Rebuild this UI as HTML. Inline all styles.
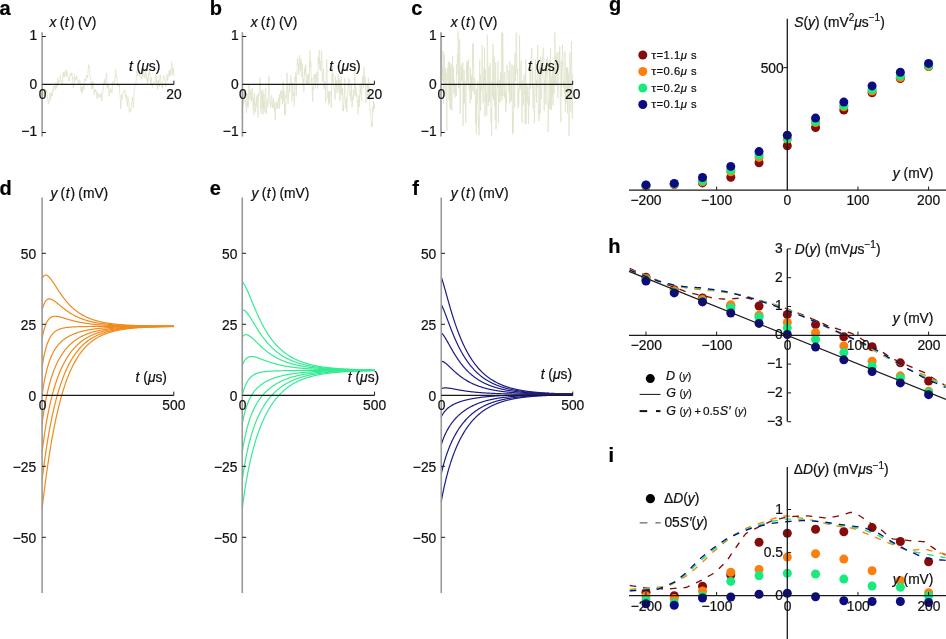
<!DOCTYPE html>
<html><head><meta charset="utf-8"><style>
html,body{margin:0;padding:0;background:#fff;}
body{width:946px;height:639px;overflow:hidden;}
svg{display:block;font-family:"Liberation Sans", sans-serif;}
svg{will-change:transform;}
text{stroke:#111;stroke-width:0.22px;}
</style></head><body>
<svg width="946" height="639" viewBox="0 0 946 639">
<rect width="946" height="639" fill="#fff"/>
<text x="-0.50" y="14.80" font-size="20" text-anchor="start" font-weight="bold" fill="#000" >a</text>
<text x="209.80" y="14.80" font-size="20" text-anchor="start" font-weight="bold" fill="#000" >b</text>
<text x="411.30" y="14.80" font-size="20" text-anchor="start" font-weight="bold" fill="#000" >c</text>
<text x="-0.50" y="195.10" font-size="20" text-anchor="start" font-weight="bold" fill="#000" >d</text>
<text x="209.80" y="195.10" font-size="20" text-anchor="start" font-weight="bold" fill="#000" >e</text>
<text x="412.20" y="195.10" font-size="20" text-anchor="start" font-weight="bold" fill="#000" >f</text>
<text x="608.90" y="10.60" font-size="20" text-anchor="start" font-weight="bold" fill="#000" >g</text>
<text x="608.20" y="253.30" font-size="20" text-anchor="start" font-weight="bold" fill="#000" >h</text>
<text x="608.50" y="461.90" font-size="20" text-anchor="start" font-weight="bold" fill="#000" >i</text>
<polyline points="42.10,89.19 42.41,88.34 42.73,89.70 43.04,92.76 43.36,93.49 43.67,95.84 43.99,94.00 44.30,88.48 44.62,90.78 44.93,92.87 45.25,90.66 45.56,89.60 45.87,89.74 46.19,93.35 46.50,92.91 46.82,90.21 47.13,95.20 47.45,95.66 47.76,100.50 48.08,101.75 48.39,104.39 48.71,100.78 49.02,101.62 49.33,96.97 49.65,94.01 49.96,93.00 50.28,100.01 50.59,98.21 50.91,95.22 51.22,92.51 51.54,96.02 51.85,94.87 52.17,95.65 52.48,95.55 52.79,89.20 53.11,91.02 53.42,89.66 53.74,85.59 54.05,87.61 54.37,87.41 54.68,86.48 55.00,85.94 55.31,89.83 55.63,88.16 55.94,82.65 56.26,88.48 56.57,84.47 56.88,84.09 57.20,86.33 57.51,79.01 57.83,77.98 58.14,83.76 58.46,83.47 58.77,81.53 59.09,82.68 59.40,80.50 59.72,81.43 60.03,79.57 60.34,75.63 60.66,79.89 60.97,79.87 61.29,82.03 61.60,81.51 61.92,85.30 62.23,84.76 62.55,82.66 62.86,77.10 63.18,71.95 63.49,76.18 63.80,76.94 64.12,72.22 64.43,77.32 64.75,76.97 65.06,76.05 65.38,71.08 65.69,69.71 66.01,72.36 66.32,74.55 66.64,75.90 66.95,71.12 67.26,74.50 67.58,76.66 67.89,75.98 68.21,76.75 68.52,77.55 68.84,81.17 69.15,80.02 69.47,80.66 69.78,75.72 70.10,73.98 70.41,75.02 70.72,73.44 71.04,75.71 71.35,72.63 71.67,74.02 71.98,73.02 72.30,78.60 72.61,77.02 72.93,82.72 73.24,87.96 73.56,85.91 73.87,86.52 74.18,83.43 74.50,74.34 74.81,78.32 75.13,80.45 75.44,79.21 75.76,77.43 76.07,78.46 76.39,79.32 76.70,76.93 77.02,75.91 77.33,80.44 77.65,80.46 77.96,80.13 78.27,83.59 78.59,81.74 78.90,84.29 79.22,80.02 79.53,79.71 79.85,79.92 80.16,82.42 80.48,82.67 80.79,89.21 81.11,90.96 81.42,87.26 81.73,93.09 82.05,87.29 82.36,91.98 82.68,86.96 82.99,88.89 83.31,84.88 83.62,84.32 83.94,89.58 84.25,84.02 84.57,78.18 84.88,78.68 85.19,79.35 85.51,79.07 85.82,81.22 86.14,75.42 86.45,76.48 86.77,75.20 87.08,76.42 87.40,76.34 87.71,78.09 88.03,70.45 88.34,69.46 88.65,64.65 88.97,64.89 89.28,69.63 89.60,72.28 89.91,75.49 90.23,76.40 90.54,78.89 90.86,80.94 91.17,86.56 91.49,89.15 91.80,82.06 92.11,84.91 92.43,88.33 92.74,86.22 93.06,81.30 93.37,87.59 93.69,87.97 94.00,89.80 94.32,95.00 94.63,90.44 94.95,89.93 95.26,89.41 95.57,91.94 95.89,89.82 96.20,91.83 96.52,92.13 96.83,95.74 97.15,98.80 97.46,92.58 97.78,94.56 98.09,93.44 98.41,93.92 98.72,95.79 99.04,97.50 99.35,95.06 99.66,96.64 99.98,97.41 100.29,97.54 100.61,93.95 100.92,93.26 101.24,93.95 101.55,96.99 101.87,100.86 102.18,95.42 102.50,91.21 102.81,91.63 103.12,89.29 103.44,86.51 103.75,84.05 104.07,81.69 104.38,84.30 104.70,79.18 105.01,84.50 105.33,80.83 105.64,80.29 105.96,78.81 106.27,74.45 106.58,72.77 106.90,80.45 107.21,87.69 107.53,84.42 107.84,88.31 108.16,87.73 108.47,84.52 108.79,90.64 109.10,96.53 109.42,92.77 109.73,90.90 110.04,90.42 110.36,88.38 110.67,89.73 110.99,92.63 111.30,89.92 111.62,90.49 111.93,92.90 112.25,87.16 112.56,84.81 112.88,81.37 113.19,83.40 113.50,83.48 113.82,84.44 114.13,84.51 114.45,80.71 114.76,81.08 115.08,77.30 115.39,75.31 115.71,69.28 116.02,76.81 116.34,74.77 116.65,76.92 116.96,78.49 117.28,84.71 117.59,86.07 117.91,83.30 118.22,84.44 118.54,85.01 118.85,86.96 119.17,83.81 119.48,85.85 119.80,94.89 120.11,95.88 120.43,100.82 120.74,108.66 121.05,105.12 121.37,96.49 121.68,94.85 122.00,97.86 122.31,99.28 122.63,93.43 122.94,92.67 123.26,92.60 123.57,92.97 123.89,93.01 124.20,90.56 124.51,89.77 124.83,90.44 125.14,95.22 125.46,94.13 125.77,97.67 126.09,94.49 126.40,100.47 126.72,101.16 127.03,101.50 127.35,106.44 127.66,100.00 127.97,96.66 128.29,101.05 128.60,100.29 128.92,101.37 129.23,112.43 129.55,110.88 129.86,110.57 130.18,109.01 130.49,111.62 130.81,110.58 131.12,109.37 131.43,103.78 131.75,102.55 132.06,102.66 132.38,97.42 132.69,100.57 133.01,102.04 133.32,107.67 133.64,100.11 133.95,95.13 134.27,90.76 134.58,87.77 134.89,86.80 135.21,85.01 135.52,84.56 135.84,83.33 136.15,80.85 136.47,73.48 136.78,70.77 137.10,70.93 137.41,73.87 137.73,76.08 138.04,70.09 138.35,69.52 138.67,70.55 138.98,72.61 139.30,76.56 139.61,75.80 139.93,72.08 140.24,73.66 140.56,74.18 140.87,74.48 141.19,73.53 141.50,78.53 141.82,77.44 142.13,78.71 142.44,73.97 142.76,76.41 143.07,73.70 143.39,68.71 143.70,71.46 144.02,74.43 144.33,73.95 144.65,74.34 144.96,78.02 145.28,75.81 145.59,69.15 145.90,72.18 146.22,74.21 146.53,78.53 146.85,77.07 147.16,81.38 147.48,84.02 147.79,78.12 148.11,81.48 148.42,77.34 148.74,73.10 149.05,74.51 149.36,74.66 149.68,70.23 149.99,74.47 150.31,78.92 150.62,84.72 150.94,84.26 151.25,79.27 151.57,77.67 151.88,83.06 152.20,86.59 152.51,87.35 152.82,85.15 153.14,85.19 153.45,83.74 153.77,82.38 154.08,83.34 154.40,83.07 154.71,81.98 155.03,82.11 155.34,80.16 155.66,74.14 155.97,74.13 156.28,75.84 156.60,82.80 156.91,80.65 157.23,86.88 157.54,89.36 157.86,83.45 158.17,79.85 158.49,80.45 158.80,86.15 159.12,85.70 159.43,86.47 159.74,82.65 160.06,74.60 160.37,75.85 160.69,80.10 161.00,84.44 161.32,83.79 161.63,83.80 161.95,87.11 162.26,85.23 162.58,88.21 162.89,82.43 163.21,78.30 163.52,75.21 163.83,78.15 164.15,76.79 164.46,77.88 164.78,79.39 165.09,80.17 165.41,83.82 165.72,86.74 166.04,81.17 166.35,80.46 166.67,78.48 166.98,74.16 167.29,80.12 167.61,80.95 167.92,78.14 168.24,75.28 168.55,75.68 168.87,71.08 169.18,70.43 169.50,74.56 169.81,76.34 170.13,71.61 170.44,69.26 170.75,75.36 171.07,68.58 171.38,66.18 171.70,61.83 172.01,65.10 172.33,68.92 172.64,74.94 172.96,67.46 173.27,71.88 173.59,69.65 173.90,76.14" fill="none" stroke="#e0e3cc" stroke-width="0.8" stroke-linejoin="round" />
<line x1="42.10" y1="32.20" x2="42.10" y2="136.60" stroke="#9a9a9a" stroke-width="1.6" />
<line x1="42.10" y1="84.40" x2="173.90" y2="84.40" stroke="#1a1a1a" stroke-width="1.3" />
<line x1="42.10" y1="36.50" x2="45.90" y2="36.50" stroke="#1a1a1a" stroke-width="1.0" />
<line x1="42.10" y1="132.50" x2="45.90" y2="132.50" stroke="#1a1a1a" stroke-width="1.0" />
<line x1="173.90" y1="84.40" x2="173.90" y2="80.70" stroke="#1a1a1a" stroke-width="1.0" />
<text x="37.10" y="40.00" font-size="13.8" text-anchor="end" fill="#111" >1</text>
<text x="37.10" y="89.00" font-size="13.8" text-anchor="end" fill="#111" >0</text>
<text x="37.10" y="136.00" font-size="13.8" text-anchor="end" fill="#111" >&#8722;1</text>
<text x="42.50" y="98.80" font-size="13.8" text-anchor="middle" fill="#111" >0</text>
<text x="173.90" y="98.80" font-size="13.8" text-anchor="middle" fill="#111" >20</text>
<text x="49.60" y="27.0" font-size="13.8" fill="#111"><tspan font-style="italic">x</tspan> <tspan dx="-0.7">(</tspan><tspan font-style="italic" dx="0.6">t</tspan><tspan dx="1.2">)</tspan><tspan dx="3.4">(V)</tspan></text>
<text x="128.90" y="70.5" font-size="13.8" fill="#111"><tspan font-style="italic">t</tspan> (<tspan font-style="italic">&#956;</tspan>s)</text>
<polyline points="242.40,92.52 242.68,106.61 242.95,104.66 243.23,92.45 243.50,103.18 243.78,90.85 244.05,89.39 244.33,99.66 244.60,101.45 244.88,102.17 245.16,99.30 245.43,101.51 245.71,105.19 245.98,103.17 246.26,107.79 246.53,112.69 246.81,105.60 247.08,93.83 247.36,106.25 247.64,101.32 247.91,103.64 248.19,107.67 248.46,95.31 248.74,98.97 249.01,84.89 249.29,94.83 249.56,91.38 249.84,94.26 250.12,100.24 250.39,93.00 250.67,94.65 250.94,89.52 251.22,91.69 251.49,101.38 251.77,99.25 252.05,96.73 252.32,87.90 252.60,97.66 252.87,96.51 253.15,109.41 253.42,97.99 253.70,105.12 253.97,115.26 254.25,107.23 254.53,93.01 254.80,105.72 255.08,109.81 255.35,109.49 255.63,112.41 255.90,101.98 256.18,105.31 256.45,106.61 256.73,96.86 257.01,101.81 257.28,95.19 257.56,102.56 257.83,108.92 258.11,117.77 258.38,93.24 258.66,96.13 258.93,93.31 259.21,93.83 259.49,92.61 259.76,92.76 260.04,77.85 260.31,92.70 260.59,105.79 260.86,109.25 261.14,113.92 261.41,99.92 261.69,90.93 261.97,99.92 262.24,108.79 262.52,105.79 262.79,89.91 263.07,114.41 263.34,102.11 263.62,107.68 263.89,93.96 264.17,102.85 264.45,101.81 264.72,111.06 265.00,112.36 265.27,94.08 265.55,87.70 265.82,93.75 266.10,101.19 266.37,113.94 266.65,109.50 266.93,103.92 267.20,101.02 267.48,99.39 267.75,106.72 268.03,102.62 268.30,99.96 268.58,87.65 268.86,75.63 269.13,84.62 269.41,95.11 269.68,95.77 269.96,100.56 270.23,104.54 270.51,101.43 270.78,107.54 271.06,97.90 271.34,97.88 271.61,95.02 271.89,96.82 272.16,102.32 272.44,107.42 272.71,104.76 272.99,105.70 273.26,99.97 273.54,98.47 273.82,108.56 274.09,103.09 274.37,111.21 274.64,110.24 274.92,107.07 275.19,119.57 275.47,109.58 275.74,103.03 276.02,101.58 276.30,102.84 276.57,103.16 276.85,108.21 277.12,105.51 277.40,106.15 277.67,101.31 277.95,108.85 278.22,101.74 278.50,98.19 278.78,98.34 279.05,100.81 279.33,94.27 279.60,108.23 279.88,99.42 280.15,95.88 280.43,93.40 280.70,91.09 280.98,98.06 281.26,99.03 281.53,92.36 281.81,90.00 282.08,90.38 282.36,104.48 282.63,96.35 282.91,86.35 283.18,81.62 283.46,85.03 283.74,101.52 284.01,91.20 284.29,93.79 284.56,114.59 284.84,103.55 285.11,112.00 285.39,115.47 285.67,112.19 285.94,94.80 286.22,97.62 286.49,94.11 286.77,80.06 287.04,72.85 287.32,82.21 287.59,88.92 287.87,101.15 288.15,103.90 288.42,96.49 288.70,92.03 288.97,91.13 289.25,83.17 289.52,92.37 289.80,91.84 290.07,84.88 290.35,81.61 290.63,75.43 290.90,76.89 291.18,83.19 291.45,81.26 291.73,90.85 292.00,101.46 292.28,89.62 292.55,87.37 292.83,82.80 293.11,95.98 293.38,92.85 293.66,92.58 293.93,94.28 294.21,106.24 294.48,97.64 294.76,82.25 295.03,76.90 295.31,81.59 295.59,79.88 295.86,72.59 296.14,96.59 296.41,89.68 296.69,80.12 296.96,73.23 297.24,60.85 297.51,57.96 297.79,62.84 298.07,65.83 298.34,63.68 298.62,73.07 298.89,74.65 299.17,67.93 299.44,55.38 299.72,64.92 299.99,69.72 300.27,70.58 300.55,61.82 300.82,67.63 301.10,58.98 301.37,73.44 301.65,75.78 301.92,77.25 302.20,70.16 302.48,63.79 302.75,80.57 303.03,85.81 303.30,78.82 303.58,82.64 303.85,91.88 304.13,76.72 304.40,71.99 304.68,69.13 304.96,75.21 305.23,66.86 305.51,72.33 305.78,64.95 306.06,76.85 306.33,83.64 306.61,79.29 306.88,84.12 307.16,76.02 307.44,74.63 307.71,83.47 307.99,80.85 308.26,82.83 308.54,73.90 308.81,81.17 309.09,84.09 309.36,72.64 309.64,57.59 309.92,50.62 310.19,62.18 310.47,67.98 310.74,60.97 311.02,70.27 311.29,82.85 311.57,81.69 311.84,78.04 312.12,85.84 312.40,96.95 312.67,101.76 312.95,87.52 313.22,90.31 313.50,86.84 313.77,81.74 314.05,75.24 314.32,78.88 314.60,74.17 314.88,82.40 315.15,82.91 315.43,88.41 315.70,74.14 315.98,74.77 316.25,80.74 316.53,81.04 316.81,80.00 317.08,71.78 317.36,85.22 317.63,88.61 317.91,85.17 318.18,59.44 318.46,56.92 318.73,64.26 319.01,62.09 319.29,50.01 319.56,61.34 319.84,69.29 320.11,61.40 320.39,62.54 320.66,61.87 320.94,71.07 321.21,57.04 321.49,50.43 321.77,55.78 322.04,58.11 322.32,81.48 322.59,74.07 322.87,76.42 323.14,72.84 323.42,68.76 323.69,74.66 323.97,89.18 324.25,81.34 324.52,85.68 324.80,85.05 325.07,87.15 325.35,86.55 325.62,102.28 325.90,83.45 326.17,80.13 326.45,71.42 326.73,59.37 327.00,68.15 327.28,88.35 327.55,93.34 327.83,99.06 328.10,97.00 328.38,91.27 328.65,104.84 328.93,94.25 329.21,103.06 329.48,93.94 329.76,91.96 330.03,92.62 330.31,91.28 330.58,94.44 330.86,97.12 331.13,107.57 331.41,100.70 331.69,81.31 331.96,68.50 332.24,66.13 332.51,69.69 332.79,83.00 333.06,73.88 333.34,80.51 333.62,84.60 333.89,88.86 334.17,88.32 334.44,92.27 334.72,91.80 334.99,99.61 335.27,98.56 335.54,76.51 335.82,82.26 336.10,87.08 336.37,83.75 336.65,80.34 336.92,93.01 337.20,93.30 337.47,84.40 337.75,84.29 338.02,85.43 338.30,74.56 338.58,86.06 338.85,86.83 339.13,92.16 339.40,79.14 339.68,99.12 339.95,100.77 340.23,100.63 340.50,90.92 340.78,85.56 341.06,75.98 341.33,94.22 341.61,86.40 341.88,90.14 342.16,95.39 342.43,88.82 342.71,96.67 342.98,110.73 343.26,105.39 343.54,111.30 343.81,107.99 344.09,97.78 344.36,92.14 344.64,78.47 344.91,84.69 345.19,99.20 345.46,101.64 345.74,104.43 346.02,108.52 346.29,97.63 346.57,99.83 346.84,111.91 347.12,97.57 347.39,95.50 347.67,90.49 347.94,89.51 348.22,84.63 348.50,86.46 348.77,77.86 349.05,79.23 349.32,80.30 349.60,80.77 349.87,96.10 350.15,94.84 350.43,94.83 350.70,91.03 350.98,101.38 351.25,83.40 351.53,84.94 351.80,96.46 352.08,107.37 352.35,102.37 352.63,97.80 352.91,100.11 353.18,94.93 353.46,97.72 353.73,89.74 354.01,95.24 354.28,92.97 354.56,83.38 354.83,64.74 355.11,82.43 355.39,88.64 355.66,95.37 355.94,86.27 356.21,96.39 356.49,97.09 356.76,93.81 357.04,99.48 357.31,102.69 357.59,100.70 357.87,112.61 358.14,114.44 358.42,107.18 358.69,98.27 358.97,95.60 359.24,106.80 359.52,102.91 359.79,90.37 360.07,84.78 360.35,86.53 360.62,94.08 360.90,86.33 361.17,91.43 361.45,99.23 361.72,100.93 362.00,83.75 362.27,83.34 362.55,75.49 362.83,83.99 363.10,77.62 363.38,86.21 363.65,87.75 363.93,67.31 364.20,68.90 364.48,80.08 364.75,84.22 365.03,83.76 365.31,76.68 365.58,86.49 365.86,102.82 366.13,101.15 366.41,98.10 366.68,95.84 366.96,85.08 367.24,87.03 367.51,84.52 367.79,98.81 368.06,91.82 368.34,78.04 368.61,81.66 368.89,89.41 369.16,95.82 369.44,87.45 369.72,105.30 369.99,110.38 370.27,110.12 370.54,109.04 370.82,119.12 371.09,120.37 371.37,127.04 371.64,123.89 371.92,121.71 372.20,127.11 372.47,119.86 372.75,106.82 373.02,112.44 373.30,110.17 373.57,101.15 373.85,109.15 374.12,103.24 374.40,109.12" fill="none" stroke="#e0e3cc" stroke-width="0.8" stroke-linejoin="round" />
<line x1="242.40" y1="32.20" x2="242.40" y2="136.60" stroke="#9a9a9a" stroke-width="1.6" />
<line x1="242.40" y1="84.40" x2="374.40" y2="84.40" stroke="#1a1a1a" stroke-width="1.3" />
<line x1="242.40" y1="36.50" x2="246.20" y2="36.50" stroke="#1a1a1a" stroke-width="1.0" />
<line x1="242.40" y1="132.50" x2="246.20" y2="132.50" stroke="#1a1a1a" stroke-width="1.0" />
<line x1="374.40" y1="84.40" x2="374.40" y2="80.70" stroke="#1a1a1a" stroke-width="1.0" />
<text x="238.60" y="40.00" font-size="13.8" text-anchor="end" fill="#111" >1</text>
<text x="238.60" y="89.00" font-size="13.8" text-anchor="end" fill="#111" >0</text>
<text x="238.60" y="136.00" font-size="13.8" text-anchor="end" fill="#111" >&#8722;1</text>
<text x="242.80" y="98.80" font-size="13.8" text-anchor="middle" fill="#111" >0</text>
<text x="374.40" y="98.80" font-size="13.8" text-anchor="middle" fill="#111" >20</text>
<text x="250.70" y="27.0" font-size="13.8" fill="#111"><tspan font-style="italic">x</tspan> <tspan dx="-0.7">(</tspan><tspan font-style="italic" dx="0.6">t</tspan><tspan dx="1.2">)</tspan><tspan dx="3.4">(V)</tspan></text>
<text x="329.30" y="70.5" font-size="13.8" fill="#111"><tspan font-style="italic">t</tspan> (<tspan font-style="italic">&#956;</tspan>s)</text>
<polyline points="441.00,65.12 441.31,32.56 441.61,32.56 441.92,75.13 442.23,66.68 442.53,77.45 442.84,80.54 443.15,51.22 443.46,103.56 443.76,67.23 444.07,81.13 444.38,54.26 444.68,72.97 444.99,95.54 445.30,81.42 445.60,68.34 445.91,79.64 446.22,73.05 446.53,92.42 446.83,130.82 447.14,77.27 447.45,68.07 447.75,77.23 448.06,81.18 448.37,62.03 448.67,88.32 448.98,100.09 449.29,92.25 449.60,61.61 449.90,107.58 450.21,65.39 450.52,92.95 450.82,109.45 451.13,64.43 451.44,81.43 451.74,110.72 452.05,98.45 452.36,68.53 452.67,55.62 452.97,86.10 453.28,76.37 453.59,67.53 453.89,93.60 454.20,79.31 454.51,83.79 454.81,95.40 455.12,97.40 455.43,86.25 455.74,84.24 456.04,96.13 456.35,96.20 456.66,64.18 456.96,74.89 457.27,63.60 457.58,54.18 457.88,64.59 458.19,32.56 458.50,88.52 458.81,68.60 459.11,87.07 459.42,46.44 459.73,39.52 460.03,113.86 460.34,111.93 460.65,77.46 460.95,66.22 461.26,64.52 461.57,80.91 461.88,74.05 462.18,68.22 462.49,81.98 462.80,62.41 463.10,125.93 463.41,81.59 463.72,105.22 464.02,69.65 464.33,85.47 464.64,103.17 464.95,81.31 465.25,102.60 465.56,107.95 465.87,122.91 466.17,94.58 466.48,76.60 466.79,61.16 467.09,81.54 467.40,61.87 467.71,78.39 468.02,84.84 468.32,72.57 468.63,59.41 468.94,85.26 469.24,89.69 469.55,89.07 469.86,83.84 470.16,103.00 470.47,67.65 470.78,88.55 471.09,75.81 471.39,99.43 471.70,80.69 472.01,75.32 472.31,90.89 472.62,43.96 472.93,66.57 473.23,42.96 473.54,54.07 473.85,90.60 474.16,93.91 474.46,77.70 474.77,81.45 475.08,82.63 475.38,89.92 475.69,123.42 476.00,98.85 476.30,134.18 476.61,89.11 476.92,100.69 477.23,103.36 477.53,93.71 477.84,81.05 478.15,113.37 478.45,128.04 478.76,117.50 479.07,135.17 479.37,117.22 479.68,59.49 479.99,100.17 480.30,74.78 480.60,110.55 480.91,84.71 481.22,91.13 481.52,87.33 481.83,73.29 482.14,45.07 482.44,70.51 482.75,78.34 483.06,103.15 483.37,76.94 483.67,87.66 483.98,67.90 484.29,81.18 484.59,47.36 484.90,116.41 485.21,98.58 485.51,69.60 485.82,88.00 486.13,101.79 486.43,94.28 486.74,115.59 487.05,89.72 487.36,34.93 487.66,48.20 487.97,98.43 488.28,106.09 488.58,98.25 488.89,66.95 489.20,97.14 489.50,101.95 489.81,70.37 490.12,62.90 490.43,86.80 490.73,108.27 491.04,122.62 491.35,108.51 491.65,136.24 491.96,81.91 492.27,96.89 492.57,77.50 492.88,43.79 493.19,49.83 493.50,99.72 493.80,70.14 494.11,56.73 494.42,93.02 494.72,106.40 495.03,92.18 495.34,119.68 495.64,62.61 495.95,129.02 496.26,118.59 496.57,98.56 496.87,92.67 497.18,83.01 497.49,78.40 497.79,87.35 498.10,61.47 498.41,123.20 498.71,94.10 499.02,101.70 499.33,85.97 499.64,80.20 499.94,102.33 500.25,102.22 500.56,72.36 500.86,74.12 501.17,95.99 501.48,44.84 501.78,32.56 502.09,100.35 502.40,82.11 502.71,32.56 503.01,54.88 503.32,72.42 503.63,85.74 503.93,96.00 504.24,91.72 504.55,97.69 504.85,72.22 505.16,89.64 505.47,94.89 505.78,112.05 506.08,92.34 506.39,105.00 506.70,93.31 507.00,64.94 507.31,71.92 507.62,70.77 507.92,73.58 508.23,80.46 508.54,86.07 508.85,91.22 509.15,70.31 509.46,103.44 509.77,61.25 510.07,77.90 510.38,98.36 510.69,98.07 510.99,101.91 511.30,85.44 511.61,99.60 511.92,64.43 512.22,95.68 512.53,134.52 512.84,112.15 513.14,133.14 513.45,97.42 513.76,65.61 514.06,66.22 514.37,107.70 514.68,106.09 514.99,52.80 515.29,69.87 515.60,80.68 515.91,61.49 516.21,32.56 516.52,43.22 516.83,71.20 517.13,73.72 517.44,68.89 517.75,93.27 518.06,108.66 518.36,89.37 518.67,105.36 518.98,90.92 519.28,84.03 519.59,35.58 519.90,89.91 520.20,88.31 520.51,88.80 520.82,76.40 521.13,60.61 521.43,88.66 521.74,102.56 522.05,123.09 522.35,113.35 522.66,80.47 522.97,82.47 523.27,105.05 523.58,97.32 523.89,86.98 524.20,74.56 524.50,94.29 524.81,92.09 525.12,124.17 525.42,118.31 525.73,59.20 526.04,123.65 526.34,101.24 526.65,84.05 526.96,92.10 527.27,103.15 527.57,90.36 527.88,85.99 528.19,86.51 528.49,124.01 528.80,97.37 529.11,105.44 529.41,101.06 529.72,83.84 530.03,70.92 530.33,62.36 530.64,89.22 530.95,66.37 531.26,55.46 531.56,53.51 531.87,47.75 532.18,78.27 532.48,86.49 532.79,67.75 533.10,108.68 533.40,86.11 533.71,95.87 534.02,94.94 534.33,123.29 534.63,112.66 534.94,91.89 535.25,67.78 535.55,59.64 535.86,79.88 536.17,87.21 536.47,102.39 536.78,80.52 537.09,88.58 537.40,72.83 537.70,45.05 538.01,75.24 538.32,113.28 538.62,109.54 538.93,121.04 539.24,118.48 539.54,65.75 539.85,75.02 540.16,113.70 540.47,78.12 540.77,56.60 541.08,84.94 541.39,98.61 541.69,94.97 542.00,81.12 542.31,70.26 542.61,56.26 542.92,52.13 543.23,51.66 543.54,47.87 543.84,61.50 544.15,110.54 544.46,93.66 544.76,80.18 545.07,91.32 545.38,67.16 545.68,87.59 545.99,104.47 546.30,59.35 546.61,64.28 546.91,74.81 547.22,62.71 547.53,56.86 547.83,70.42 548.14,132.06 548.45,110.38 548.75,100.40 549.06,108.89 549.37,86.39 549.68,60.08 549.98,88.41 550.29,109.02 550.60,48.34 550.90,84.78 551.21,110.16 551.52,85.89 551.82,75.91 552.13,96.95 552.44,71.09 552.75,91.21 553.05,105.31 553.36,85.91 553.67,68.73 553.97,93.68 554.28,79.84 554.59,85.21 554.89,32.56 555.20,84.50 555.51,55.61 555.82,78.29 556.12,85.51 556.43,69.66 556.74,62.11 557.04,52.45 557.35,69.57 557.66,93.19 557.96,97.79 558.27,77.14 558.58,70.49 558.89,51.82 559.19,67.55 559.50,58.12 559.81,46.26 560.11,71.43 560.42,112.08 560.73,115.87 561.03,122.19 561.34,60.72 561.65,96.12 561.96,61.69 562.26,66.53 562.57,44.23 562.88,53.48 563.18,78.80 563.49,87.16 563.80,83.32 564.10,80.48 564.41,94.47 564.72,87.60 565.03,51.70 565.33,111.65 565.64,85.83 565.95,103.64 566.25,85.32 566.56,67.15 566.87,81.29 567.17,67.53 567.48,113.28 567.79,68.58 568.10,93.00 568.40,73.59 568.71,77.90 569.02,136.24 569.32,113.19 569.63,87.01 569.94,52.71 570.24,70.50 570.55,75.56 570.86,111.59 571.17,61.41 571.47,41.04 571.78,72.96 572.09,86.12 572.39,118.53 572.70,74.55" fill="none" stroke="#e0e3cc" stroke-width="0.8" stroke-linejoin="round" />
<line x1="441.00" y1="32.20" x2="441.00" y2="136.60" stroke="#9a9a9a" stroke-width="1.6" />
<line x1="441.00" y1="84.40" x2="572.70" y2="84.40" stroke="#1a1a1a" stroke-width="1.3" />
<line x1="441.00" y1="36.50" x2="444.80" y2="36.50" stroke="#1a1a1a" stroke-width="1.0" />
<line x1="441.00" y1="132.50" x2="444.80" y2="132.50" stroke="#1a1a1a" stroke-width="1.0" />
<line x1="572.70" y1="84.40" x2="572.70" y2="80.70" stroke="#1a1a1a" stroke-width="1.0" />
<text x="436.60" y="40.00" font-size="13.8" text-anchor="end" fill="#111" >1</text>
<text x="436.60" y="89.00" font-size="13.8" text-anchor="end" fill="#111" >0</text>
<text x="436.60" y="136.00" font-size="13.8" text-anchor="end" fill="#111" >&#8722;1</text>
<text x="441.40" y="98.80" font-size="13.8" text-anchor="middle" fill="#111" >0</text>
<text x="572.70" y="98.80" font-size="13.8" text-anchor="middle" fill="#111" >20</text>
<text x="450.70" y="27.0" font-size="13.8" fill="#111"><tspan font-style="italic">x</tspan> <tspan dx="-0.7">(</tspan><tspan font-style="italic" dx="0.6">t</tspan><tspan dx="1.2">)</tspan><tspan dx="3.4">(V)</tspan></text>
<text x="528.00" y="70.5" font-size="13.8" fill="#111"><tspan font-style="italic">t</tspan> (<tspan font-style="italic">&#956;</tspan>s)</text>
<polyline points="42.10,278.86 42.54,277.87 42.98,277.06 43.42,276.39 43.86,275.88 44.30,275.49 44.74,275.22 45.18,275.05 45.62,274.99 46.06,275.01 46.50,275.12 46.95,275.29 47.39,275.54 47.83,275.84 48.27,276.20 48.71,276.60 49.15,277.04 49.59,277.53 50.03,278.04 50.47,278.59 50.91,279.16 51.35,279.76 51.79,280.37 52.23,281.00 52.67,281.65 53.11,282.30 53.55,282.97 53.99,283.64 54.43,284.32 54.87,285.00 55.31,285.69 55.75,286.38 56.19,287.06 56.64,287.75 57.08,288.43 57.52,289.12 57.96,289.79 58.40,290.47 58.84,291.13 59.28,291.80 59.72,292.45 60.16,293.10 60.60,293.74 61.04,294.38 61.48,295.00 61.92,295.62 62.36,296.23 62.80,296.83 63.24,297.42 63.68,298.01 64.12,298.58 64.56,299.15 65.00,299.70 65.44,300.25 65.89,300.79 66.33,301.32 66.77,301.84 67.21,302.35 67.65,302.85 68.09,303.34 68.53,303.82 68.97,304.30 69.41,304.76 69.85,305.22 70.29,305.67 70.73,306.11 71.17,306.54 71.61,306.96 72.05,307.37 72.49,307.78 72.93,308.17 73.37,308.56 73.81,308.95 74.25,309.32 74.69,309.69 75.14,310.04 75.58,310.40 76.02,310.74 76.46,311.08 76.90,311.41 77.34,311.73 77.78,312.05 78.22,312.36 78.66,312.66 79.10,312.96 79.54,313.25 79.98,313.53 80.42,313.81 80.86,314.08 81.30,314.35 81.74,314.61 82.18,314.86 82.62,315.11 83.06,315.36 83.50,315.60 83.94,315.83 84.38,316.06 84.83,316.29 85.27,316.51 85.71,316.72 86.15,316.93 86.59,317.13 87.03,317.34 87.47,317.53 87.91,317.72 88.35,317.91 88.79,318.10 89.23,318.28 89.67,318.45 90.11,318.62 90.55,318.79 90.99,318.96 91.43,319.12 91.87,319.28 92.31,319.43 92.75,319.58 93.19,319.73 93.63,319.87 94.08,320.01 94.52,320.15 94.96,320.29 95.40,320.42 95.84,320.55 96.28,320.68 96.72,320.80 97.16,320.92 97.60,321.04 98.04,321.15 98.48,321.27 98.92,321.38 99.36,321.49 99.80,321.59 100.24,321.69 100.68,321.80 101.12,321.90 101.56,321.99 102.00,322.09 102.44,322.18 102.88,322.27 103.33,322.36 103.77,322.44 104.21,322.53 104.65,322.61 105.09,322.69 105.53,322.77 105.97,322.85 106.41,322.93 106.85,323.00 107.29,323.07 107.73,323.14 108.17,323.21 108.61,323.28 109.05,323.35 109.49,323.41 109.93,323.47 110.37,323.54 110.81,323.60 111.25,323.66 111.69,323.71 112.13,323.77 112.57,323.83 113.02,323.88 113.46,323.93 113.90,323.99 114.34,324.04 114.78,324.09 115.22,324.14 115.66,324.18 116.10,324.23 116.54,324.27 116.98,324.32 117.42,324.36 117.86,324.40 118.30,324.45 118.74,324.49 119.18,324.53 119.62,324.57 120.06,324.60 120.50,324.64 120.94,324.68 121.38,324.71 121.82,324.75 122.27,324.78 122.71,324.81 123.15,324.85 123.59,324.88 124.03,324.91 124.47,324.94 124.91,324.97 125.35,325.00 125.79,325.03 126.23,325.06 126.67,325.08 127.11,325.11 127.55,325.13 127.99,325.16 128.43,325.19 128.87,325.21 129.31,325.23 129.75,325.26 130.19,325.28 130.63,325.30 131.07,325.32 131.52,325.34 131.96,325.37 132.40,325.39 132.84,325.41 133.28,325.42 133.72,325.44 134.16,325.46 134.60,325.48 135.04,325.50 135.48,325.52 135.92,325.53 136.36,325.55 136.80,325.57 137.24,325.58 137.68,325.60 138.12,325.61 138.56,325.63 139.00,325.64 139.44,325.66 139.88,325.67 140.32,325.68 140.76,325.70 141.21,325.71 141.65,325.72 142.09,325.74 142.53,325.75 142.97,325.76 143.41,325.77 143.85,325.78 144.29,325.79 144.73,325.80 145.17,325.82 145.61,325.83 146.05,325.84 146.49,325.85 146.93,325.86 147.37,325.87 147.81,325.87 148.25,325.88 148.69,325.89 149.13,325.90 149.57,325.91 150.01,325.92 150.46,325.93 150.90,325.93 151.34,325.94 151.78,325.95 152.22,325.96 152.66,325.96 153.10,325.97 153.54,325.98 153.98,325.99 154.42,325.99 154.86,326.00 155.30,326.00 155.74,326.01 156.18,326.02 156.62,326.02 157.06,326.03 157.50,326.03 157.94,326.04 158.38,326.05 158.82,326.05 159.26,326.06 159.71,326.06 160.15,326.07 160.59,326.07 161.03,326.08 161.47,326.08 161.91,326.09 162.35,326.09 162.79,326.09 163.23,326.10 163.67,326.10 164.11,326.11 164.55,326.11 164.99,326.11 165.43,326.12 165.87,326.12 166.31,326.13 166.75,326.13 167.19,326.13 167.63,326.14 168.07,326.14 168.51,326.14 168.95,326.15 169.40,326.15 169.84,326.15 170.28,326.16 170.72,326.16 171.16,326.16 171.60,326.16 172.04,326.17 172.48,326.17 172.92,326.17 173.36,326.17 173.80,326.18" fill="none" stroke="#f08a1c" stroke-width="1.2" stroke-linejoin="round" />
<polyline points="42.10,310.10 42.54,308.42 42.98,306.93 43.42,305.61 43.86,304.45 44.30,303.43 44.74,302.54 45.18,301.78 45.62,301.13 46.06,300.57 46.50,300.11 46.95,299.74 47.39,299.44 47.83,299.22 48.27,299.06 48.71,298.96 49.15,298.91 49.59,298.91 50.03,298.96 50.47,299.04 50.91,299.16 51.35,299.32 51.79,299.50 52.23,299.71 52.67,299.94 53.11,300.19 53.55,300.46 53.99,300.75 54.43,301.05 54.87,301.37 55.31,301.69 55.75,302.03 56.19,302.37 56.64,302.72 57.08,303.07 57.52,303.43 57.96,303.79 58.40,304.16 58.84,304.52 59.28,304.89 59.72,305.26 60.16,305.62 60.60,305.99 61.04,306.35 61.48,306.71 61.92,307.07 62.36,307.43 62.80,307.79 63.24,308.14 63.68,308.48 64.12,308.83 64.56,309.17 65.00,309.50 65.44,309.83 65.89,310.16 66.33,310.48 66.77,310.80 67.21,311.11 67.65,311.42 68.09,311.72 68.53,312.02 68.97,312.31 69.41,312.60 69.85,312.89 70.29,313.17 70.73,313.44 71.17,313.71 71.61,313.97 72.05,314.23 72.49,314.49 72.93,314.73 73.37,314.98 73.81,315.22 74.25,315.46 74.69,315.69 75.14,315.91 75.58,316.13 76.02,316.35 76.46,316.57 76.90,316.77 77.34,316.98 77.78,317.18 78.22,317.38 78.66,317.57 79.10,317.76 79.54,317.94 79.98,318.12 80.42,318.30 80.86,318.47 81.30,318.64 81.74,318.81 82.18,318.97 82.62,319.13 83.06,319.29 83.50,319.44 83.94,319.59 84.38,319.74 84.83,319.88 85.27,320.02 85.71,320.16 86.15,320.29 86.59,320.42 87.03,320.55 87.47,320.68 87.91,320.80 88.35,320.92 88.79,321.04 89.23,321.15 89.67,321.26 90.11,321.37 90.55,321.48 90.99,321.59 91.43,321.69 91.87,321.79 92.31,321.89 92.75,321.99 93.19,322.08 93.63,322.17 94.08,322.26 94.52,322.35 94.96,322.44 95.40,322.52 95.84,322.61 96.28,322.69 96.72,322.77 97.16,322.84 97.60,322.92 98.04,322.99 98.48,323.07 98.92,323.14 99.36,323.21 99.80,323.27 100.24,323.34 100.68,323.41 101.12,323.47 101.56,323.53 102.00,323.59 102.44,323.65 102.88,323.71 103.33,323.77 103.77,323.82 104.21,323.88 104.65,323.93 105.09,323.98 105.53,324.03 105.97,324.08 106.41,324.13 106.85,324.18 107.29,324.22 107.73,324.27 108.17,324.31 108.61,324.36 109.05,324.40 109.49,324.44 109.93,324.48 110.37,324.52 110.81,324.56 111.25,324.60 111.69,324.64 112.13,324.67 112.57,324.71 113.02,324.74 113.46,324.78 113.90,324.81 114.34,324.84 114.78,324.88 115.22,324.91 115.66,324.94 116.10,324.97 116.54,325.00 116.98,325.02 117.42,325.05 117.86,325.08 118.30,325.11 118.74,325.13 119.18,325.16 119.62,325.18 120.06,325.21 120.50,325.23 120.94,325.25 121.38,325.28 121.82,325.30 122.27,325.32 122.71,325.34 123.15,325.36 123.59,325.38 124.03,325.40 124.47,325.42 124.91,325.44 125.35,325.46 125.79,325.48 126.23,325.50 126.67,325.51 127.11,325.53 127.55,325.55 127.99,325.56 128.43,325.58 128.87,325.60 129.31,325.61 129.75,325.63 130.19,325.64 130.63,325.65 131.07,325.67 131.52,325.68 131.96,325.70 132.40,325.71 132.84,325.72 133.28,325.73 133.72,325.75 134.16,325.76 134.60,325.77 135.04,325.78 135.48,325.79 135.92,325.80 136.36,325.81 136.80,325.82 137.24,325.83 137.68,325.84 138.12,325.85 138.56,325.86 139.00,325.87 139.44,325.88 139.88,325.89 140.32,325.90 140.76,325.91 141.21,325.92 141.65,325.93 142.09,325.93 142.53,325.94 142.97,325.95 143.41,325.96 143.85,325.96 144.29,325.97 144.73,325.98 145.17,325.98 145.61,325.99 146.05,326.00 146.49,326.00 146.93,326.01 147.37,326.02 147.81,326.02 148.25,326.03 148.69,326.03 149.13,326.04 149.57,326.05 150.01,326.05 150.46,326.06 150.90,326.06 151.34,326.07 151.78,326.07 152.22,326.08 152.66,326.08 153.10,326.08 153.54,326.09 153.98,326.09 154.42,326.10 154.86,326.10 155.30,326.11 155.74,326.11 156.18,326.11 156.62,326.12 157.06,326.12 157.50,326.13 157.94,326.13 158.38,326.13 158.82,326.14 159.26,326.14 159.71,326.14 160.15,326.15 160.59,326.15 161.03,326.15 161.47,326.16 161.91,326.16 162.35,326.16 162.79,326.16 163.23,326.17 163.67,326.17 164.11,326.17 164.55,326.17 164.99,326.18 165.43,326.18 165.87,326.18 166.31,326.18 166.75,326.19 167.19,326.19 167.63,326.19 168.07,326.19 168.51,326.19 168.95,326.20 169.40,326.20 169.84,326.20 170.28,326.20 170.72,326.20 171.16,326.21 171.60,326.21 172.04,326.21 172.48,326.21 172.92,326.21 173.36,326.22 173.80,326.22" fill="none" stroke="#f08a1c" stroke-width="1.2" stroke-linejoin="round" />
<polyline points="42.10,338.50 42.54,336.20 42.98,334.09 43.42,332.18 43.86,330.43 44.30,328.83 44.74,327.39 45.18,326.08 45.62,324.89 46.06,323.81 46.50,322.84 46.95,321.96 47.39,321.18 47.83,320.47 48.27,319.84 48.71,319.28 49.15,318.79 49.59,318.35 50.03,317.97 50.47,317.63 50.91,317.35 51.35,317.10 51.79,316.89 52.23,316.71 52.67,316.57 53.11,316.46 53.55,316.37 53.99,316.31 54.43,316.27 54.87,316.24 55.31,316.24 55.75,316.25 56.19,316.28 56.64,316.33 57.08,316.38 57.52,316.44 57.96,316.52 58.40,316.60 58.84,316.69 59.28,316.79 59.72,316.90 60.16,317.01 60.60,317.12 61.04,317.24 61.48,317.36 61.92,317.49 62.36,317.62 62.80,317.74 63.24,317.88 63.68,318.01 64.12,318.14 64.56,318.28 65.00,318.41 65.44,318.55 65.89,318.68 66.33,318.81 66.77,318.95 67.21,319.08 67.65,319.21 68.09,319.34 68.53,319.47 68.97,319.60 69.41,319.73 69.85,319.86 70.29,319.98 70.73,320.11 71.17,320.23 71.61,320.35 72.05,320.47 72.49,320.58 72.93,320.70 73.37,320.81 73.81,320.92 74.25,321.03 74.69,321.14 75.14,321.25 75.58,321.35 76.02,321.45 76.46,321.55 76.90,321.65 77.34,321.75 77.78,321.85 78.22,321.94 78.66,322.03 79.10,322.12 79.54,322.21 79.98,322.30 80.42,322.38 80.86,322.47 81.30,322.55 81.74,322.63 82.18,322.71 82.62,322.78 83.06,322.86 83.50,322.93 83.94,323.00 84.38,323.08 84.83,323.14 85.27,323.21 85.71,323.28 86.15,323.34 86.59,323.41 87.03,323.47 87.47,323.53 87.91,323.59 88.35,323.65 88.79,323.71 89.23,323.76 89.67,323.82 90.11,323.87 90.55,323.93 90.99,323.98 91.43,324.03 91.87,324.08 92.31,324.13 92.75,324.17 93.19,324.22 93.63,324.27 94.08,324.31 94.52,324.35 94.96,324.40 95.40,324.44 95.84,324.48 96.28,324.52 96.72,324.56 97.16,324.59 97.60,324.63 98.04,324.67 98.48,324.70 98.92,324.74 99.36,324.77 99.80,324.81 100.24,324.84 100.68,324.87 101.12,324.90 101.56,324.93 102.00,324.96 102.44,324.99 102.88,325.02 103.33,325.05 103.77,325.07 104.21,325.10 104.65,325.13 105.09,325.15 105.53,325.18 105.97,325.20 106.41,325.23 106.85,325.25 107.29,325.27 107.73,325.29 108.17,325.32 108.61,325.34 109.05,325.36 109.49,325.38 109.93,325.40 110.37,325.42 110.81,325.44 111.25,325.46 111.69,325.48 112.13,325.49 112.57,325.51 113.02,325.53 113.46,325.54 113.90,325.56 114.34,325.58 114.78,325.59 115.22,325.61 115.66,325.62 116.10,325.64 116.54,325.65 116.98,325.67 117.42,325.68 117.86,325.69 118.30,325.71 118.74,325.72 119.18,325.73 119.62,325.74 120.06,325.76 120.50,325.77 120.94,325.78 121.38,325.79 121.82,325.80 122.27,325.81 122.71,325.82 123.15,325.83 123.59,325.84 124.03,325.85 124.47,325.86 124.91,325.87 125.35,325.88 125.79,325.89 126.23,325.90 126.67,325.91 127.11,325.92 127.55,325.92 127.99,325.93 128.43,325.94 128.87,325.95 129.31,325.95 129.75,325.96 130.19,325.97 130.63,325.98 131.07,325.98 131.52,325.99 131.96,326.00 132.40,326.00 132.84,326.01 133.28,326.02 133.72,326.02 134.16,326.03 134.60,326.03 135.04,326.04 135.48,326.04 135.92,326.05 136.36,326.05 136.80,326.06 137.24,326.06 137.68,326.07 138.12,326.07 138.56,326.08 139.00,326.08 139.44,326.09 139.88,326.09 140.32,326.10 140.76,326.10 141.21,326.11 141.65,326.11 142.09,326.11 142.53,326.12 142.97,326.12 143.41,326.12 143.85,326.13 144.29,326.13 144.73,326.14 145.17,326.14 145.61,326.14 146.05,326.15 146.49,326.15 146.93,326.15 147.37,326.15 147.81,326.16 148.25,326.16 148.69,326.16 149.13,326.17 149.57,326.17 150.01,326.17 150.46,326.17 150.90,326.18 151.34,326.18 151.78,326.18 152.22,326.18 152.66,326.19 153.10,326.19 153.54,326.19 153.98,326.19 154.42,326.19 154.86,326.20 155.30,326.20 155.74,326.20 156.18,326.20 156.62,326.20 157.06,326.21 157.50,326.21 157.94,326.21 158.38,326.21 158.82,326.21 159.26,326.21 159.71,326.22 160.15,326.22 160.59,326.22 161.03,326.22 161.47,326.22 161.91,326.22 162.35,326.23 162.79,326.23 163.23,326.23 163.67,326.23 164.11,326.23 164.55,326.23 164.99,326.23 165.43,326.23 165.87,326.24 166.31,326.24 166.75,326.24 167.19,326.24 167.63,326.24 168.07,326.24 168.51,326.24 168.95,326.24 169.40,326.24 169.84,326.25 170.28,326.25 170.72,326.25 171.16,326.25 171.60,326.25 172.04,326.25 172.48,326.25 172.92,326.25 173.36,326.25 173.80,326.25" fill="none" stroke="#f08a1c" stroke-width="1.2" stroke-linejoin="round" />
<polyline points="42.10,366.90 42.54,364.04 42.98,361.39 43.42,358.94 43.86,356.65 44.30,354.54 44.74,352.57 45.18,350.75 45.62,349.06 46.06,347.49 46.50,346.03 46.95,344.68 47.39,343.43 47.83,342.26 48.27,341.18 48.71,340.17 49.15,339.24 49.59,338.37 50.03,337.57 50.47,336.82 50.91,336.13 51.35,335.48 51.79,334.88 52.23,334.32 52.67,333.80 53.11,333.32 53.55,332.87 53.99,332.46 54.43,332.07 54.87,331.71 55.31,331.37 55.75,331.06 56.19,330.77 56.64,330.50 57.08,330.25 57.52,330.01 57.96,329.79 58.40,329.59 58.84,329.40 59.28,329.22 59.72,329.05 60.16,328.90 60.60,328.75 61.04,328.62 61.48,328.49 61.92,328.37 62.36,328.26 62.80,328.16 63.24,328.07 63.68,327.97 64.12,327.89 64.56,327.81 65.00,327.74 65.44,327.67 65.89,327.60 66.33,327.54 66.77,327.48 67.21,327.43 67.65,327.38 68.09,327.33 68.53,327.29 68.97,327.24 69.41,327.20 69.85,327.16 70.29,327.13 70.73,327.10 71.17,327.06 71.61,327.03 72.05,327.01 72.49,326.98 72.93,326.95 73.37,326.93 73.81,326.91 74.25,326.88 74.69,326.86 75.14,326.84 75.58,326.82 76.02,326.81 76.46,326.79 76.90,326.77 77.34,326.76 77.78,326.74 78.22,326.73 78.66,326.71 79.10,326.70 79.54,326.69 79.98,326.68 80.42,326.67 80.86,326.66 81.30,326.64 81.74,326.63 82.18,326.62 82.62,326.62 83.06,326.61 83.50,326.60 83.94,326.59 84.38,326.58 84.83,326.57 85.27,326.57 85.71,326.56 86.15,326.55 86.59,326.54 87.03,326.54 87.47,326.53 87.91,326.53 88.35,326.52 88.79,326.51 89.23,326.51 89.67,326.50 90.11,326.50 90.55,326.49 90.99,326.49 91.43,326.48 91.87,326.48 92.31,326.47 92.75,326.47 93.19,326.46 93.63,326.46 94.08,326.46 94.52,326.45 94.96,326.45 95.40,326.44 95.84,326.44 96.28,326.44 96.72,326.43 97.16,326.43 97.60,326.43 98.04,326.42 98.48,326.42 98.92,326.42 99.36,326.42 99.80,326.41 100.24,326.41 100.68,326.41 101.12,326.40 101.56,326.40 102.00,326.40 102.44,326.40 102.88,326.39 103.33,326.39 103.77,326.39 104.21,326.39 104.65,326.38 105.09,326.38 105.53,326.38 105.97,326.38 106.41,326.38 106.85,326.37 107.29,326.37 107.73,326.37 108.17,326.37 108.61,326.37 109.05,326.37 109.49,326.36 109.93,326.36 110.37,326.36 110.81,326.36 111.25,326.36 111.69,326.36 112.13,326.35 112.57,326.35 113.02,326.35 113.46,326.35 113.90,326.35 114.34,326.35 114.78,326.35 115.22,326.34 115.66,326.34 116.10,326.34 116.54,326.34 116.98,326.34 117.42,326.34 117.86,326.34 118.30,326.34 118.74,326.34 119.18,326.33 119.62,326.33 120.06,326.33 120.50,326.33 120.94,326.33 121.38,326.33 121.82,326.33 122.27,326.33 122.71,326.33 123.15,326.33 123.59,326.32 124.03,326.32 124.47,326.32 124.91,326.32 125.35,326.32 125.79,326.32 126.23,326.32 126.67,326.32 127.11,326.32 127.55,326.32 127.99,326.32 128.43,326.32 128.87,326.32 129.31,326.32 129.75,326.31 130.19,326.31 130.63,326.31 131.07,326.31 131.52,326.31 131.96,326.31 132.40,326.31 132.84,326.31 133.28,326.31 133.72,326.31 134.16,326.31 134.60,326.31 135.04,326.31 135.48,326.31 135.92,326.31 136.36,326.31 136.80,326.31 137.24,326.31 137.68,326.31 138.12,326.31 138.56,326.31 139.00,326.30 139.44,326.30 139.88,326.30 140.32,326.30 140.76,326.30 141.21,326.30 141.65,326.30 142.09,326.30 142.53,326.30 142.97,326.30 143.41,326.30 143.85,326.30 144.29,326.30 144.73,326.30 145.17,326.30 145.61,326.30 146.05,326.30 146.49,326.30 146.93,326.30 147.37,326.30 147.81,326.30 148.25,326.30 148.69,326.30 149.13,326.30 149.57,326.30 150.01,326.30 150.46,326.30 150.90,326.30 151.34,326.30 151.78,326.30 152.22,326.30 152.66,326.30 153.10,326.30 153.54,326.30 153.98,326.30 154.42,326.30 154.86,326.30 155.30,326.30 155.74,326.30 156.18,326.30 156.62,326.29 157.06,326.29 157.50,326.29 157.94,326.29 158.38,326.29 158.82,326.29 159.26,326.29 159.71,326.29 160.15,326.29 160.59,326.29 161.03,326.29 161.47,326.29 161.91,326.29 162.35,326.29 162.79,326.29 163.23,326.29 163.67,326.29 164.11,326.29 164.55,326.29 164.99,326.29 165.43,326.29 165.87,326.29 166.31,326.29 166.75,326.29 167.19,326.29 167.63,326.29 168.07,326.29 168.51,326.29 168.95,326.29 169.40,326.29 169.84,326.29 170.28,326.29 170.72,326.29 171.16,326.29 171.60,326.29 172.04,326.29 172.48,326.29 172.92,326.29 173.36,326.29 173.80,326.29" fill="none" stroke="#f08a1c" stroke-width="1.2" stroke-linejoin="round" />
<polyline points="42.10,395.30 42.54,392.18 42.98,389.25 43.42,386.49 43.86,383.89 44.30,381.44 44.74,379.13 45.18,376.95 45.62,374.90 46.06,372.95 46.50,371.12 46.95,369.38 47.39,367.74 47.83,366.19 48.27,364.71 48.71,363.31 49.15,361.98 49.59,360.72 50.03,359.53 50.47,358.39 50.91,357.30 51.35,356.27 51.79,355.28 52.23,354.34 52.67,353.45 53.11,352.59 53.55,351.77 53.99,350.99 54.43,350.24 54.87,349.52 55.31,348.83 55.75,348.17 56.19,347.54 56.64,346.93 57.08,346.34 57.52,345.78 57.96,345.24 58.40,344.72 58.84,344.22 59.28,343.73 59.72,343.26 60.16,342.81 60.60,342.38 61.04,341.96 61.48,341.55 61.92,341.16 62.36,340.78 62.80,340.41 63.24,340.05 63.68,339.71 64.12,339.37 64.56,339.05 65.00,338.74 65.44,338.43 65.89,338.13 66.33,337.85 66.77,337.57 67.21,337.30 67.65,337.03 68.09,336.78 68.53,336.53 68.97,336.28 69.41,336.05 69.85,335.82 70.29,335.60 70.73,335.38 71.17,335.17 71.61,334.96 72.05,334.76 72.49,334.56 72.93,334.37 73.37,334.19 73.81,334.00 74.25,333.83 74.69,333.66 75.14,333.49 75.58,333.32 76.02,333.16 76.46,333.01 76.90,332.85 77.34,332.71 77.78,332.56 78.22,332.42 78.66,332.28 79.10,332.15 79.54,332.01 79.98,331.88 80.42,331.76 80.86,331.64 81.30,331.52 81.74,331.40 82.18,331.28 82.62,331.17 83.06,331.06 83.50,330.96 83.94,330.85 84.38,330.75 84.83,330.65 85.27,330.55 85.71,330.46 86.15,330.37 86.59,330.28 87.03,330.19 87.47,330.10 87.91,330.02 88.35,329.93 88.79,329.85 89.23,329.77 89.67,329.70 90.11,329.62 90.55,329.55 90.99,329.47 91.43,329.40 91.87,329.33 92.31,329.27 92.75,329.20 93.19,329.14 93.63,329.07 94.08,329.01 94.52,328.95 94.96,328.89 95.40,328.84 95.84,328.78 96.28,328.72 96.72,328.67 97.16,328.62 97.60,328.57 98.04,328.52 98.48,328.47 98.92,328.42 99.36,328.37 99.80,328.32 100.24,328.28 100.68,328.24 101.12,328.19 101.56,328.15 102.00,328.11 102.44,328.07 102.88,328.03 103.33,327.99 103.77,327.95 104.21,327.92 104.65,327.88 105.09,327.85 105.53,327.81 105.97,327.78 106.41,327.75 106.85,327.71 107.29,327.68 107.73,327.65 108.17,327.62 108.61,327.59 109.05,327.56 109.49,327.53 109.93,327.51 110.37,327.48 110.81,327.45 111.25,327.43 111.69,327.40 112.13,327.38 112.57,327.35 113.02,327.33 113.46,327.31 113.90,327.29 114.34,327.26 114.78,327.24 115.22,327.22 115.66,327.20 116.10,327.18 116.54,327.16 116.98,327.14 117.42,327.12 117.86,327.10 118.30,327.09 118.74,327.07 119.18,327.05 119.62,327.03 120.06,327.02 120.50,327.00 120.94,326.99 121.38,326.97 121.82,326.96 122.27,326.94 122.71,326.93 123.15,326.91 123.59,326.90 124.03,326.89 124.47,326.87 124.91,326.86 125.35,326.85 125.79,326.83 126.23,326.82 126.67,326.81 127.11,326.80 127.55,326.79 127.99,326.78 128.43,326.77 128.87,326.76 129.31,326.74 129.75,326.73 130.19,326.73 130.63,326.72 131.07,326.71 131.52,326.70 131.96,326.69 132.40,326.68 132.84,326.67 133.28,326.66 133.72,326.65 134.16,326.65 134.60,326.64 135.04,326.63 135.48,326.62 135.92,326.62 136.36,326.61 136.80,326.60 137.24,326.59 137.68,326.59 138.12,326.58 138.56,326.57 139.00,326.57 139.44,326.56 139.88,326.56 140.32,326.55 140.76,326.54 141.21,326.54 141.65,326.53 142.09,326.53 142.53,326.52 142.97,326.52 143.41,326.51 143.85,326.51 144.29,326.50 144.73,326.50 145.17,326.49 145.61,326.49 146.05,326.48 146.49,326.48 146.93,326.48 147.37,326.47 147.81,326.47 148.25,326.46 148.69,326.46 149.13,326.46 149.57,326.45 150.01,326.45 150.46,326.44 150.90,326.44 151.34,326.44 151.78,326.43 152.22,326.43 152.66,326.43 153.10,326.43 153.54,326.42 153.98,326.42 154.42,326.42 154.86,326.41 155.30,326.41 155.74,326.41 156.18,326.41 156.62,326.40 157.06,326.40 157.50,326.40 157.94,326.40 158.38,326.39 158.82,326.39 159.26,326.39 159.71,326.39 160.15,326.38 160.59,326.38 161.03,326.38 161.47,326.38 161.91,326.38 162.35,326.37 162.79,326.37 163.23,326.37 163.67,326.37 164.11,326.37 164.55,326.36 164.99,326.36 165.43,326.36 165.87,326.36 166.31,326.36 166.75,326.36 167.19,326.36 167.63,326.35 168.07,326.35 168.51,326.35 168.95,326.35 169.40,326.35 169.84,326.35 170.28,326.35 170.72,326.34 171.16,326.34 171.60,326.34 172.04,326.34 172.48,326.34 172.92,326.34 173.36,326.34 173.80,326.34" fill="none" stroke="#f08a1c" stroke-width="1.2" stroke-linejoin="round" />
<polyline points="42.10,423.70 42.54,420.39 42.98,417.24 43.42,414.23 43.86,411.37 44.30,408.64 44.74,406.03 45.18,403.53 45.62,401.15 46.06,398.86 46.50,396.68 46.95,394.58 47.39,392.57 47.83,390.64 48.27,388.79 48.71,387.01 49.15,385.30 49.59,383.66 50.03,382.07 50.47,380.55 50.91,379.08 51.35,377.66 51.79,376.29 52.23,374.97 52.67,373.69 53.11,372.46 53.55,371.27 53.99,370.12 54.43,369.00 54.87,367.92 55.31,366.87 55.75,365.86 56.19,364.88 56.64,363.92 57.08,363.00 57.52,362.10 57.96,361.23 58.40,360.39 58.84,359.56 59.28,358.77 59.72,357.99 60.16,357.24 60.60,356.50 61.04,355.79 61.48,355.09 61.92,354.42 62.36,353.76 62.80,353.12 63.24,352.49 63.68,351.89 64.12,351.29 64.56,350.72 65.00,350.15 65.44,349.60 65.89,349.07 66.33,348.55 66.77,348.04 67.21,347.54 67.65,347.06 68.09,346.59 68.53,346.13 68.97,345.68 69.41,345.24 69.85,344.81 70.29,344.39 70.73,343.98 71.17,343.59 71.61,343.20 72.05,342.82 72.49,342.45 72.93,342.08 73.37,341.73 73.81,341.38 74.25,341.05 74.69,340.72 75.14,340.39 75.58,340.08 76.02,339.77 76.46,339.47 76.90,339.18 77.34,338.89 77.78,338.61 78.22,338.33 78.66,338.07 79.10,337.80 79.54,337.55 79.98,337.30 80.42,337.05 80.86,336.82 81.30,336.58 81.74,336.35 82.18,336.13 82.62,335.91 83.06,335.70 83.50,335.49 83.94,335.29 84.38,335.09 84.83,334.89 85.27,334.70 85.71,334.52 86.15,334.33 86.59,334.16 87.03,333.98 87.47,333.81 87.91,333.65 88.35,333.48 88.79,333.32 89.23,333.17 89.67,333.02 90.11,332.87 90.55,332.72 90.99,332.58 91.43,332.44 91.87,332.30 92.31,332.17 92.75,332.04 93.19,331.91 93.63,331.79 94.08,331.67 94.52,331.55 94.96,331.43 95.40,331.32 95.84,331.21 96.28,331.10 96.72,330.99 97.16,330.89 97.60,330.79 98.04,330.69 98.48,330.59 98.92,330.50 99.36,330.40 99.80,330.31 100.24,330.23 100.68,330.14 101.12,330.05 101.56,329.97 102.00,329.89 102.44,329.81 102.88,329.73 103.33,329.66 103.77,329.58 104.21,329.51 104.65,329.44 105.09,329.37 105.53,329.30 105.97,329.23 106.41,329.17 106.85,329.11 107.29,329.04 107.73,328.98 108.17,328.92 108.61,328.87 109.05,328.81 109.49,328.75 109.93,328.70 110.37,328.65 110.81,328.59 111.25,328.54 111.69,328.49 112.13,328.44 112.57,328.40 113.02,328.35 113.46,328.30 113.90,328.26 114.34,328.22 114.78,328.17 115.22,328.13 115.66,328.09 116.10,328.05 116.54,328.01 116.98,327.98 117.42,327.94 117.86,327.90 118.30,327.87 118.74,327.83 119.18,327.80 119.62,327.76 120.06,327.73 120.50,327.70 120.94,327.67 121.38,327.64 121.82,327.61 122.27,327.58 122.71,327.55 123.15,327.52 123.59,327.50 124.03,327.47 124.47,327.44 124.91,327.42 125.35,327.39 125.79,327.37 126.23,327.34 126.67,327.32 127.11,327.30 127.55,327.28 127.99,327.25 128.43,327.23 128.87,327.21 129.31,327.19 129.75,327.17 130.19,327.15 130.63,327.13 131.07,327.11 131.52,327.10 131.96,327.08 132.40,327.06 132.84,327.04 133.28,327.03 133.72,327.01 134.16,327.00 134.60,326.98 135.04,326.96 135.48,326.95 135.92,326.93 136.36,326.92 136.80,326.91 137.24,326.89 137.68,326.88 138.12,326.87 138.56,326.85 139.00,326.84 139.44,326.83 139.88,326.82 140.32,326.81 140.76,326.79 141.21,326.78 141.65,326.77 142.09,326.76 142.53,326.75 142.97,326.74 143.41,326.73 143.85,326.72 144.29,326.71 144.73,326.70 145.17,326.69 145.61,326.68 146.05,326.68 146.49,326.67 146.93,326.66 147.37,326.65 147.81,326.64 148.25,326.63 148.69,326.63 149.13,326.62 149.57,326.61 150.01,326.60 150.46,326.60 150.90,326.59 151.34,326.58 151.78,326.58 152.22,326.57 152.66,326.57 153.10,326.56 153.54,326.55 153.98,326.55 154.42,326.54 154.86,326.54 155.30,326.53 155.74,326.53 156.18,326.52 156.62,326.51 157.06,326.51 157.50,326.50 157.94,326.50 158.38,326.50 158.82,326.49 159.26,326.49 159.71,326.48 160.15,326.48 160.59,326.47 161.03,326.47 161.47,326.47 161.91,326.46 162.35,326.46 162.79,326.45 163.23,326.45 163.67,326.45 164.11,326.44 164.55,326.44 164.99,326.44 165.43,326.43 165.87,326.43 166.31,326.43 166.75,326.42 167.19,326.42 167.63,326.42 168.07,326.42 168.51,326.41 168.95,326.41 169.40,326.41 169.84,326.40 170.28,326.40 170.72,326.40 171.16,326.40 171.60,326.39 172.04,326.39 172.48,326.39 172.92,326.39 173.36,326.39 173.80,326.38" fill="none" stroke="#f08a1c" stroke-width="1.2" stroke-linejoin="round" />
<polyline points="42.10,452.10 42.54,448.54 42.98,445.12 43.42,441.82 43.86,438.65 44.30,435.60 44.74,432.65 45.18,429.81 45.62,427.06 46.06,424.42 46.50,421.86 46.95,419.38 47.39,416.99 47.83,414.67 48.27,412.43 48.71,410.26 49.15,408.16 49.59,406.12 50.03,404.15 50.47,402.23 50.91,400.37 51.35,398.57 51.79,396.81 52.23,395.11 52.67,393.46 53.11,391.85 53.55,390.29 53.99,388.77 54.43,387.29 54.87,385.85 55.31,384.45 55.75,383.09 56.19,381.76 56.64,380.47 57.08,379.21 57.52,377.98 57.96,376.79 58.40,375.62 58.84,374.49 59.28,373.38 59.72,372.30 60.16,371.25 60.60,370.23 61.04,369.23 61.48,368.25 61.92,367.30 62.36,366.37 62.80,365.46 63.24,364.57 63.68,363.71 64.12,362.86 64.56,362.04 65.00,361.24 65.44,360.45 65.89,359.68 66.33,358.93 66.77,358.20 67.21,357.49 67.65,356.79 68.09,356.11 68.53,355.44 68.97,354.79 69.41,354.15 69.85,353.53 70.29,352.92 70.73,352.33 71.17,351.75 71.61,351.18 72.05,350.63 72.49,350.09 72.93,349.56 73.37,349.04 73.81,348.54 74.25,348.04 74.69,347.56 75.14,347.09 75.58,346.63 76.02,346.18 76.46,345.74 76.90,345.31 77.34,344.88 77.78,344.47 78.22,344.07 78.66,343.68 79.10,343.29 79.54,342.92 79.98,342.55 80.42,342.19 80.86,341.84 81.30,341.49 81.74,341.16 82.18,340.83 82.62,340.51 83.06,340.19 83.50,339.88 83.94,339.58 84.38,339.29 84.83,339.00 85.27,338.72 85.71,338.45 86.15,338.18 86.59,337.92 87.03,337.66 87.47,337.41 87.91,337.16 88.35,336.92 88.79,336.69 89.23,336.46 89.67,336.23 90.11,336.01 90.55,335.80 90.99,335.59 91.43,335.38 91.87,335.18 92.31,334.99 92.75,334.80 93.19,334.61 93.63,334.42 94.08,334.24 94.52,334.07 94.96,333.90 95.40,333.73 95.84,333.57 96.28,333.41 96.72,333.25 97.16,333.09 97.60,332.94 98.04,332.80 98.48,332.65 98.92,332.51 99.36,332.38 99.80,332.24 100.24,332.11 100.68,331.98 101.12,331.86 101.56,331.73 102.00,331.61 102.44,331.50 102.88,331.38 103.33,331.27 103.77,331.16 104.21,331.05 104.65,330.95 105.09,330.84 105.53,330.74 105.97,330.65 106.41,330.55 106.85,330.46 107.29,330.36 107.73,330.27 108.17,330.19 108.61,330.10 109.05,330.02 109.49,329.93 109.93,329.85 110.37,329.77 110.81,329.70 111.25,329.62 111.69,329.55 112.13,329.48 112.57,329.41 113.02,329.34 113.46,329.27 113.90,329.20 114.34,329.14 114.78,329.08 115.22,329.02 115.66,328.96 116.10,328.90 116.54,328.84 116.98,328.78 117.42,328.73 117.86,328.67 118.30,328.62 118.74,328.57 119.18,328.52 119.62,328.47 120.06,328.42 120.50,328.38 120.94,328.33 121.38,328.28 121.82,328.24 122.27,328.20 122.71,328.16 123.15,328.11 123.59,328.07 124.03,328.03 124.47,328.00 124.91,327.96 125.35,327.92 125.79,327.89 126.23,327.85 126.67,327.82 127.11,327.78 127.55,327.75 127.99,327.72 128.43,327.69 128.87,327.65 129.31,327.62 129.75,327.60 130.19,327.57 130.63,327.54 131.07,327.51 131.52,327.48 131.96,327.46 132.40,327.43 132.84,327.41 133.28,327.38 133.72,327.36 134.16,327.33 134.60,327.31 135.04,327.29 135.48,327.27 135.92,327.24 136.36,327.22 136.80,327.20 137.24,327.18 137.68,327.16 138.12,327.14 138.56,327.12 139.00,327.11 139.44,327.09 139.88,327.07 140.32,327.05 140.76,327.04 141.21,327.02 141.65,327.00 142.09,326.99 142.53,326.97 142.97,326.96 143.41,326.94 143.85,326.93 144.29,326.91 144.73,326.90 145.17,326.89 145.61,326.87 146.05,326.86 146.49,326.85 146.93,326.84 147.37,326.82 147.81,326.81 148.25,326.80 148.69,326.79 149.13,326.78 149.57,326.77 150.01,326.76 150.46,326.75 150.90,326.74 151.34,326.73 151.78,326.72 152.22,326.71 152.66,326.70 153.10,326.69 153.54,326.68 153.98,326.67 154.42,326.66 154.86,326.65 155.30,326.65 155.74,326.64 156.18,326.63 156.62,326.62 157.06,326.62 157.50,326.61 157.94,326.60 158.38,326.59 158.82,326.59 159.26,326.58 159.71,326.57 160.15,326.57 160.59,326.56 161.03,326.56 161.47,326.55 161.91,326.54 162.35,326.54 162.79,326.53 163.23,326.53 163.67,326.52 164.11,326.52 164.55,326.51 164.99,326.51 165.43,326.50 165.87,326.50 166.31,326.49 166.75,326.49 167.19,326.48 167.63,326.48 168.07,326.48 168.51,326.47 168.95,326.47 169.40,326.46 169.84,326.46 170.28,326.46 170.72,326.45 171.16,326.45 171.60,326.45 172.04,326.44 172.48,326.44 172.92,326.44 173.36,326.43 173.80,326.43" fill="none" stroke="#f08a1c" stroke-width="1.2" stroke-linejoin="round" />
<polyline points="42.10,480.50 42.54,476.77 42.98,473.14 43.42,469.61 43.86,466.19 44.30,462.86 44.74,459.62 45.18,456.46 45.62,453.40 46.06,450.41 46.50,447.51 46.95,444.68 47.39,441.92 47.83,439.24 48.27,436.62 48.71,434.08 49.15,431.59 49.59,429.17 50.03,426.81 50.47,424.51 50.91,422.27 51.35,420.08 51.79,417.94 52.23,415.86 52.67,413.82 53.11,411.84 53.55,409.90 53.99,408.01 54.43,406.17 54.87,404.37 55.31,402.61 55.75,400.89 56.19,399.21 56.64,397.58 57.08,395.98 57.52,394.42 57.96,392.89 58.40,391.40 58.84,389.94 59.28,388.52 59.72,387.13 60.16,385.78 60.60,384.45 61.04,383.15 61.48,381.89 61.92,380.65 62.36,379.44 62.80,378.26 63.24,377.10 63.68,375.97 64.12,374.87 64.56,373.79 65.00,372.74 65.44,371.71 65.89,370.70 66.33,369.71 66.77,368.75 67.21,367.81 67.65,366.89 68.09,365.99 68.53,365.11 68.97,364.25 69.41,363.41 69.85,362.59 70.29,361.79 70.73,361.00 71.17,360.23 71.61,359.48 72.05,358.75 72.49,358.03 72.93,357.33 73.37,356.64 73.81,355.97 74.25,355.32 74.69,354.68 75.14,354.05 75.58,353.43 76.02,352.84 76.46,352.25 76.90,351.68 77.34,351.11 77.78,350.57 78.22,350.03 78.66,349.51 79.10,348.99 79.54,348.49 79.98,348.00 80.42,347.52 80.86,347.05 81.30,346.60 81.74,346.15 82.18,345.71 82.62,345.28 83.06,344.86 83.50,344.45 83.94,344.05 84.38,343.66 84.83,343.28 85.27,342.90 85.71,342.53 86.15,342.18 86.59,341.83 87.03,341.48 87.47,341.15 87.91,340.82 88.35,340.50 88.79,340.19 89.23,339.88 89.67,339.58 90.11,339.29 90.55,339.00 90.99,338.72 91.43,338.45 91.87,338.18 92.31,337.92 92.75,337.66 93.19,337.41 93.63,337.16 94.08,336.92 94.52,336.69 94.96,336.46 95.40,336.23 95.84,336.02 96.28,335.80 96.72,335.59 97.16,335.39 97.60,335.19 98.04,334.99 98.48,334.80 98.92,334.61 99.36,334.43 99.80,334.25 100.24,334.07 100.68,333.90 101.12,333.73 101.56,333.57 102.00,333.41 102.44,333.25 102.88,333.10 103.33,332.95 103.77,332.80 104.21,332.66 104.65,332.52 105.09,332.38 105.53,332.24 105.97,332.11 106.41,331.98 106.85,331.86 107.29,331.74 107.73,331.62 108.17,331.50 108.61,331.38 109.05,331.27 109.49,331.16 109.93,331.05 110.37,330.95 110.81,330.85 111.25,330.75 111.69,330.65 112.13,330.55 112.57,330.46 113.02,330.36 113.46,330.27 113.90,330.19 114.34,330.10 114.78,330.02 115.22,329.93 115.66,329.85 116.10,329.78 116.54,329.70 116.98,329.62 117.42,329.55 117.86,329.48 118.30,329.41 118.74,329.34 119.18,329.27 119.62,329.21 120.06,329.14 120.50,329.08 120.94,329.02 121.38,328.96 121.82,328.90 122.27,328.84 122.71,328.78 123.15,328.73 123.59,328.68 124.03,328.62 124.47,328.57 124.91,328.52 125.35,328.47 125.79,328.42 126.23,328.38 126.67,328.33 127.11,328.29 127.55,328.24 127.99,328.20 128.43,328.16 128.87,328.11 129.31,328.07 129.75,328.04 130.19,328.00 130.63,327.96 131.07,327.92 131.52,327.89 131.96,327.85 132.40,327.82 132.84,327.78 133.28,327.75 133.72,327.72 134.16,327.69 134.60,327.66 135.04,327.63 135.48,327.60 135.92,327.57 136.36,327.54 136.80,327.51 137.24,327.48 137.68,327.46 138.12,327.43 138.56,327.41 139.00,327.38 139.44,327.36 139.88,327.33 140.32,327.31 140.76,327.29 141.21,327.27 141.65,327.24 142.09,327.22 142.53,327.20 142.97,327.18 143.41,327.16 143.85,327.14 144.29,327.13 144.73,327.11 145.17,327.09 145.61,327.07 146.05,327.05 146.49,327.04 146.93,327.02 147.37,327.00 147.81,326.99 148.25,326.97 148.69,326.96 149.13,326.94 149.57,326.93 150.01,326.91 150.46,326.90 150.90,326.89 151.34,326.87 151.78,326.86 152.22,326.85 152.66,326.84 153.10,326.82 153.54,326.81 153.98,326.80 154.42,326.79 154.86,326.78 155.30,326.77 155.74,326.76 156.18,326.75 156.62,326.74 157.06,326.73 157.50,326.72 157.94,326.71 158.38,326.70 158.82,326.69 159.26,326.68 159.71,326.67 160.15,326.66 160.59,326.65 161.03,326.65 161.47,326.64 161.91,326.63 162.35,326.62 162.79,326.62 163.23,326.61 163.67,326.60 164.11,326.59 164.55,326.59 164.99,326.58 165.43,326.58 165.87,326.57 166.31,326.56 166.75,326.56 167.19,326.55 167.63,326.54 168.07,326.54 168.51,326.53 168.95,326.53 169.40,326.52 169.84,326.52 170.28,326.51 170.72,326.51 171.16,326.50 171.60,326.50 172.04,326.49 172.48,326.49 172.92,326.48 173.36,326.48 173.80,326.48" fill="none" stroke="#f08a1c" stroke-width="1.2" stroke-linejoin="round" />
<polyline points="42.10,508.90 42.54,505.09 42.98,501.35 43.42,497.68 43.86,494.07 44.30,490.53 44.74,487.06 45.18,483.65 45.62,480.31 46.06,477.03 46.50,473.82 46.95,470.67 47.39,467.58 47.83,464.55 48.27,461.58 48.71,458.68 49.15,455.83 49.59,453.04 50.03,450.30 50.47,447.62 50.91,445.00 51.35,442.43 51.79,439.91 52.23,437.45 52.67,435.03 53.11,432.67 53.55,430.36 53.99,428.09 54.43,425.88 54.87,423.71 55.31,421.58 55.75,419.50 56.19,417.47 56.64,415.48 57.08,413.53 57.52,411.62 57.96,409.75 58.40,407.93 58.84,406.14 59.28,404.39 59.72,402.68 60.16,401.01 60.60,399.37 61.04,397.77 61.48,396.20 61.92,394.67 62.36,393.16 62.80,391.70 63.24,390.26 63.68,388.86 64.12,387.48 64.56,386.14 65.00,384.82 65.44,383.54 65.89,382.28 66.33,381.05 66.77,379.84 67.21,378.66 67.65,377.51 68.09,376.39 68.53,375.28 68.97,374.21 69.41,373.15 69.85,372.12 70.29,371.11 70.73,370.12 71.17,369.16 71.61,368.22 72.05,367.29 72.49,366.39 72.93,365.51 73.37,364.64 73.81,363.80 74.25,362.97 74.69,362.16 75.14,361.37 75.58,360.60 76.02,359.84 76.46,359.11 76.90,358.38 77.34,357.67 77.78,356.98 78.22,356.31 78.66,355.65 79.10,355.00 79.54,354.37 79.98,353.75 80.42,353.14 80.86,352.55 81.30,351.97 81.74,351.41 82.18,350.85 82.62,350.31 83.06,349.78 83.50,349.26 83.94,348.76 84.38,348.26 84.83,347.78 85.27,347.30 85.71,346.84 86.15,346.39 86.59,345.94 87.03,345.51 87.47,345.09 87.91,344.67 88.35,344.27 88.79,343.87 89.23,343.48 89.67,343.10 90.11,342.73 90.55,342.37 90.99,342.02 91.43,341.67 91.87,341.33 92.31,341.00 92.75,340.67 93.19,340.36 93.63,340.05 94.08,339.74 94.52,339.45 94.96,339.16 95.40,338.87 95.84,338.60 96.28,338.32 96.72,338.06 97.16,337.80 97.60,337.55 98.04,337.30 98.48,337.05 98.92,336.82 99.36,336.58 99.80,336.36 100.24,336.14 100.68,335.92 101.12,335.71 101.56,335.50 102.00,335.30 102.44,335.10 102.88,334.90 103.33,334.71 103.77,334.53 104.21,334.35 104.65,334.17 105.09,333.99 105.53,333.82 105.97,333.66 106.41,333.50 106.85,333.34 107.29,333.18 107.73,333.03 108.17,332.88 108.61,332.74 109.05,332.59 109.49,332.45 109.93,332.32 110.37,332.19 110.81,332.06 111.25,331.93 111.69,331.80 112.13,331.68 112.57,331.56 113.02,331.45 113.46,331.33 113.90,331.22 114.34,331.11 114.78,331.01 115.22,330.90 115.66,330.80 116.10,330.70 116.54,330.60 116.98,330.51 117.42,330.42 117.86,330.32 118.30,330.24 118.74,330.15 119.18,330.06 119.62,329.98 120.06,329.90 120.50,329.82 120.94,329.74 121.38,329.67 121.82,329.59 122.27,329.52 122.71,329.45 123.15,329.38 123.59,329.31 124.03,329.24 124.47,329.18 124.91,329.11 125.35,329.05 125.79,328.99 126.23,328.93 126.67,328.87 127.11,328.82 127.55,328.76 127.99,328.71 128.43,328.65 128.87,328.60 129.31,328.55 129.75,328.50 130.19,328.45 130.63,328.40 131.07,328.36 131.52,328.31 131.96,328.27 132.40,328.22 132.84,328.18 133.28,328.14 133.72,328.10 134.16,328.06 134.60,328.02 135.04,327.98 135.48,327.94 135.92,327.91 136.36,327.87 136.80,327.84 137.24,327.80 137.68,327.77 138.12,327.74 138.56,327.70 139.00,327.67 139.44,327.64 139.88,327.61 140.32,327.58 140.76,327.55 141.21,327.53 141.65,327.50 142.09,327.47 142.53,327.45 142.97,327.42 143.41,327.40 143.85,327.37 144.29,327.35 144.73,327.32 145.17,327.30 145.61,327.28 146.05,327.26 146.49,327.24 146.93,327.21 147.37,327.19 147.81,327.17 148.25,327.15 148.69,327.14 149.13,327.12 149.57,327.10 150.01,327.08 150.46,327.06 150.90,327.05 151.34,327.03 151.78,327.01 152.22,327.00 152.66,326.98 153.10,326.97 153.54,326.95 153.98,326.94 154.42,326.92 154.86,326.91 155.30,326.89 155.74,326.88 156.18,326.87 156.62,326.86 157.06,326.84 157.50,326.83 157.94,326.82 158.38,326.81 158.82,326.80 159.26,326.78 159.71,326.77 160.15,326.76 160.59,326.75 161.03,326.74 161.47,326.73 161.91,326.72 162.35,326.71 162.79,326.70 163.23,326.69 163.67,326.69 164.11,326.68 164.55,326.67 164.99,326.66 165.43,326.65 165.87,326.64 166.31,326.64 166.75,326.63 167.19,326.62 167.63,326.61 168.07,326.61 168.51,326.60 168.95,326.59 169.40,326.59 169.84,326.58 170.28,326.57 170.72,326.57 171.16,326.56 171.60,326.55 172.04,326.55 172.48,326.54 172.92,326.54 173.36,326.53 173.80,326.53" fill="none" stroke="#f08a1c" stroke-width="1.2" stroke-linejoin="round" />
<line x1="42.10" y1="197.50" x2="42.10" y2="593.00" stroke="#9a9a9a" stroke-width="1.6" />
<line x1="42.10" y1="395.30" x2="173.80" y2="395.30" stroke="#1a1a1a" stroke-width="1.3" />
<line x1="42.10" y1="253.30" x2="45.90" y2="253.30" stroke="#1a1a1a" stroke-width="1.0" />
<line x1="42.10" y1="324.30" x2="45.90" y2="324.30" stroke="#1a1a1a" stroke-width="1.0" />
<line x1="42.10" y1="466.30" x2="45.90" y2="466.30" stroke="#1a1a1a" stroke-width="1.0" />
<line x1="42.10" y1="537.30" x2="45.90" y2="537.30" stroke="#1a1a1a" stroke-width="1.0" />
<line x1="173.80" y1="395.30" x2="173.80" y2="391.60" stroke="#1a1a1a" stroke-width="1.0" />
<text x="36.20" y="258.60" font-size="13.8" text-anchor="end" fill="#111" >50</text>
<text x="36.20" y="329.60" font-size="13.8" text-anchor="end" fill="#111" >25</text>
<text x="36.20" y="400.60" font-size="13.8" text-anchor="end" fill="#111" >0</text>
<text x="36.20" y="471.60" font-size="13.8" text-anchor="end" fill="#111" >&#8722;25</text>
<text x="36.20" y="542.60" font-size="13.8" text-anchor="end" fill="#111" >&#8722;50</text>
<text x="42.50" y="409.70" font-size="13.8" text-anchor="middle" fill="#111" >0</text>
<text x="173.80" y="409.70" font-size="13.8" text-anchor="middle" fill="#111" >500</text>
<text x="50.40" y="198" font-size="13.8" fill="#111"><tspan font-style="italic">y</tspan> <tspan dx="-0.7">(</tspan><tspan font-style="italic" dx="0.6">t</tspan><tspan dx="1.0">)</tspan><tspan dx="3.2">(mV)</tspan></text>
<text x="135.60" y="381.9" font-size="13.8" fill="#111"><tspan font-style="italic">t</tspan> (<tspan font-style="italic">&#956;</tspan>s)</text>
<polyline points="242.25,281.70 242.69,282.16 243.13,282.69 243.58,283.31 244.02,283.98 244.46,284.72 244.90,285.51 245.35,286.34 245.79,287.22 246.23,288.13 246.67,289.07 247.12,290.04 247.56,291.04 248.00,292.05 248.44,293.08 248.89,294.13 249.33,295.19 249.77,296.25 250.21,297.32 250.66,298.40 251.10,299.48 251.54,300.56 251.98,301.64 252.43,302.71 252.87,303.79 253.31,304.85 253.75,305.92 254.20,306.97 254.64,308.02 255.08,309.06 255.52,310.09 255.97,311.11 256.41,312.12 256.85,313.12 257.29,314.11 257.74,315.09 258.18,316.05 258.62,317.00 259.06,317.94 259.51,318.87 259.95,319.79 260.39,320.69 260.83,321.58 261.28,322.46 261.72,323.32 262.16,324.17 262.60,325.01 263.05,325.84 263.49,326.65 263.93,327.45 264.37,328.23 264.82,329.01 265.26,329.77 265.70,330.52 266.14,331.25 266.59,331.98 267.03,332.69 267.47,333.39 267.91,334.07 268.36,334.75 268.80,335.41 269.24,336.06 269.68,336.70 270.13,337.33 270.57,337.95 271.01,338.55 271.45,339.15 271.90,339.74 272.34,340.31 272.78,340.87 273.22,341.43 273.67,341.97 274.11,342.51 274.55,343.03 274.99,343.54 275.44,344.05 275.88,344.54 276.32,345.03 276.76,345.51 277.21,345.98 277.65,346.44 278.09,346.89 278.53,347.33 278.98,347.77 279.42,348.19 279.86,348.61 280.30,349.02 280.75,349.43 281.19,349.82 281.63,350.21 282.07,350.59 282.52,350.97 282.96,351.33 283.40,351.69 283.84,352.05 284.29,352.39 284.73,352.73 285.17,353.07 285.61,353.40 286.06,353.72 286.50,354.03 286.94,354.34 287.38,354.65 287.82,354.94 288.27,355.23 288.71,355.52 289.15,355.80 289.59,356.08 290.04,356.35 290.48,356.61 290.92,356.87 291.36,357.13 291.81,357.38 292.25,357.63 292.69,357.87 293.13,358.10 293.58,358.34 294.02,358.56 294.46,358.79 294.90,359.01 295.35,359.22 295.79,359.43 296.23,359.64 296.67,359.84 297.12,360.04 297.56,360.24 298.00,360.43 298.44,360.62 298.89,360.80 299.33,360.98 299.77,361.16 300.21,361.33 300.66,361.50 301.10,361.67 301.54,361.84 301.98,362.00 302.43,362.16 302.87,362.31 303.31,362.46 303.75,362.61 304.20,362.76 304.64,362.90 305.08,363.04 305.52,363.18 305.97,363.32 306.41,363.45 306.85,363.58 307.29,363.71 307.74,363.83 308.18,363.96 308.62,364.08 309.06,364.20 309.51,364.31 309.95,364.43 310.39,364.54 310.83,364.65 311.28,364.76 311.72,364.86 312.16,364.97 312.60,365.07 313.05,365.17 313.49,365.27 313.93,365.36 314.37,365.46 314.82,365.55 315.26,365.64 315.70,365.73 316.14,365.81 316.59,365.90 317.03,365.98 317.47,366.07 317.91,366.15 318.36,366.23 318.80,366.30 319.24,366.38 319.68,366.46 320.13,366.53 320.57,366.60 321.01,366.67 321.45,366.74 321.90,366.81 322.34,366.87 322.78,366.94 323.22,367.00 323.67,367.07 324.11,367.13 324.55,367.19 324.99,367.25 325.44,367.31 325.88,367.36 326.32,367.42 326.76,367.48 327.21,367.53 327.65,367.58 328.09,367.63 328.53,367.68 328.98,367.73 329.42,367.78 329.86,367.83 330.30,367.88 330.74,367.93 331.19,367.97 331.63,368.02 332.07,368.06 332.51,368.10 332.96,368.14 333.40,368.18 333.84,368.23 334.28,368.26 334.73,368.30 335.17,368.34 335.61,368.38 336.05,368.42 336.50,368.45 336.94,368.49 337.38,368.52 337.82,368.56 338.27,368.59 338.71,368.62 339.15,368.65 339.59,368.69 340.04,368.72 340.48,368.75 340.92,368.78 341.36,368.81 341.81,368.83 342.25,368.86 342.69,368.89 343.13,368.92 343.58,368.94 344.02,368.97 344.46,368.99 344.90,369.02 345.35,369.04 345.79,369.07 346.23,369.09 346.67,369.12 347.12,369.14 347.56,369.16 348.00,369.18 348.44,369.20 348.89,369.22 349.33,369.25 349.77,369.27 350.21,369.29 350.66,369.30 351.10,369.32 351.54,369.34 351.98,369.36 352.43,369.38 352.87,369.40 353.31,369.41 353.75,369.43 354.20,369.45 354.64,369.46 355.08,369.48 355.52,369.50 355.97,369.51 356.41,369.53 356.85,369.54 357.29,369.56 357.74,369.57 358.18,369.58 358.62,369.60 359.06,369.61 359.51,369.62 359.95,369.64 360.39,369.65 360.83,369.66 361.28,369.68 361.72,369.69 362.16,369.70 362.60,369.71 363.05,369.72 363.49,369.73 363.93,369.74 364.37,369.76 364.82,369.77 365.26,369.78 365.70,369.79 366.14,369.80 366.59,369.81 367.03,369.82 367.47,369.82 367.91,369.83 368.36,369.84 368.80,369.85 369.24,369.86 369.68,369.87 370.13,369.88 370.57,369.89 371.01,369.89 371.45,369.90 371.90,369.91 372.34,369.92 372.78,369.92 373.22,369.93 373.67,369.94 374.11,369.95 374.55,369.95" fill="none" stroke="#34eb93" stroke-width="1.2" stroke-linejoin="round" />
<polyline points="242.25,310.10 242.69,310.02 243.13,310.02 243.58,310.11 244.02,310.28 244.46,310.52 244.90,310.81 245.35,311.17 245.79,311.57 246.23,312.02 246.67,312.51 247.12,313.03 247.56,313.59 248.00,314.17 248.44,314.78 248.89,315.42 249.33,316.07 249.77,316.74 250.21,317.42 250.66,318.11 251.10,318.82 251.54,319.53 251.98,320.24 252.43,320.97 252.87,321.69 253.31,322.42 253.75,323.15 254.20,323.87 254.64,324.60 255.08,325.32 255.52,326.04 255.97,326.76 256.41,327.47 256.85,328.18 257.29,328.88 257.74,329.58 258.18,330.27 258.62,330.95 259.06,331.63 259.51,332.29 259.95,332.95 260.39,333.61 260.83,334.25 261.28,334.89 261.72,335.51 262.16,336.13 262.60,336.74 263.05,337.34 263.49,337.94 263.93,338.52 264.37,339.10 264.82,339.66 265.26,340.22 265.70,340.77 266.14,341.31 266.59,341.84 267.03,342.37 267.47,342.88 267.91,343.39 268.36,343.88 268.80,344.37 269.24,344.85 269.68,345.33 270.13,345.79 270.57,346.25 271.01,346.70 271.45,347.14 271.90,347.57 272.34,348.00 272.78,348.41 273.22,348.82 273.67,349.23 274.11,349.62 274.55,350.01 274.99,350.39 275.44,350.77 275.88,351.14 276.32,351.50 276.76,351.85 277.21,352.20 277.65,352.54 278.09,352.88 278.53,353.21 278.98,353.53 279.42,353.85 279.86,354.16 280.30,354.46 280.75,354.76 281.19,355.06 281.63,355.35 282.07,355.63 282.52,355.91 282.96,356.18 283.40,356.45 283.84,356.71 284.29,356.97 284.73,357.22 285.17,357.47 285.61,357.71 286.06,357.95 286.50,358.19 286.94,358.42 287.38,358.64 287.82,358.86 288.27,359.08 288.71,359.30 289.15,359.50 289.59,359.71 290.04,359.91 290.48,360.11 290.92,360.30 291.36,360.49 291.81,360.68 292.25,360.86 292.69,361.04 293.13,361.22 293.58,361.39 294.02,361.56 294.46,361.73 294.90,361.89 295.35,362.05 295.79,362.21 296.23,362.36 296.67,362.51 297.12,362.66 297.56,362.81 298.00,362.95 298.44,363.09 298.89,363.23 299.33,363.36 299.77,363.49 300.21,363.62 300.66,363.75 301.10,363.88 301.54,364.00 301.98,364.12 302.43,364.24 302.87,364.35 303.31,364.46 303.75,364.58 304.20,364.68 304.64,364.79 305.08,364.90 305.52,365.00 305.97,365.10 306.41,365.20 306.85,365.30 307.29,365.39 307.74,365.49 308.18,365.58 308.62,365.67 309.06,365.76 309.51,365.84 309.95,365.93 310.39,366.01 310.83,366.09 311.28,366.17 311.72,366.25 312.16,366.33 312.60,366.40 313.05,366.48 313.49,366.55 313.93,366.62 314.37,366.69 314.82,366.76 315.26,366.83 315.70,366.90 316.14,366.96 316.59,367.02 317.03,367.09 317.47,367.15 317.91,367.21 318.36,367.27 318.80,367.33 319.24,367.38 319.68,367.44 320.13,367.49 320.57,367.55 321.01,367.60 321.45,367.65 321.90,367.70 322.34,367.75 322.78,367.80 323.22,367.85 323.67,367.89 324.11,367.94 324.55,367.99 324.99,368.03 325.44,368.07 325.88,368.12 326.32,368.16 326.76,368.20 327.21,368.24 327.65,368.28 328.09,368.32 328.53,368.35 328.98,368.39 329.42,368.43 329.86,368.46 330.30,368.50 330.74,368.53 331.19,368.57 331.63,368.60 332.07,368.63 332.51,368.66 332.96,368.70 333.40,368.73 333.84,368.76 334.28,368.79 334.73,368.82 335.17,368.84 335.61,368.87 336.05,368.90 336.50,368.93 336.94,368.95 337.38,368.98 337.82,369.00 338.27,369.03 338.71,369.05 339.15,369.08 339.59,369.10 340.04,369.12 340.48,369.15 340.92,369.17 341.36,369.19 341.81,369.21 342.25,369.23 342.69,369.25 343.13,369.27 343.58,369.29 344.02,369.31 344.46,369.33 344.90,369.35 345.35,369.37 345.79,369.38 346.23,369.40 346.67,369.42 347.12,369.44 347.56,369.45 348.00,369.47 348.44,369.49 348.89,369.50 349.33,369.52 349.77,369.53 350.21,369.55 350.66,369.56 351.10,369.57 351.54,369.59 351.98,369.60 352.43,369.62 352.87,369.63 353.31,369.64 353.75,369.65 354.20,369.67 354.64,369.68 355.08,369.69 355.52,369.70 355.97,369.71 356.41,369.73 356.85,369.74 357.29,369.75 357.74,369.76 358.18,369.77 358.62,369.78 359.06,369.79 359.51,369.80 359.95,369.81 360.39,369.82 360.83,369.83 361.28,369.84 361.72,369.85 362.16,369.85 362.60,369.86 363.05,369.87 363.49,369.88 363.93,369.89 364.37,369.90 364.82,369.90 365.26,369.91 365.70,369.92 366.14,369.93 366.59,369.93 367.03,369.94 367.47,369.95 367.91,369.95 368.36,369.96 368.80,369.97 369.24,369.97 369.68,369.98 370.13,369.99 370.57,369.99 371.01,370.00 371.45,370.01 371.90,370.01 372.34,370.02 372.78,370.02 373.22,370.03 373.67,370.03 374.11,370.04 374.55,370.04" fill="none" stroke="#34eb93" stroke-width="1.2" stroke-linejoin="round" />
<polyline points="242.25,337.08 242.69,336.48 243.13,335.99 243.58,335.58 244.02,335.26 244.46,335.02 244.90,334.85 245.35,334.75 245.79,334.70 246.23,334.71 246.67,334.77 247.12,334.87 247.56,335.01 248.00,335.19 248.44,335.40 248.89,335.64 249.33,335.91 249.77,336.20 250.21,336.51 250.66,336.84 251.10,337.18 251.54,337.55 251.98,337.92 252.43,338.31 252.87,338.70 253.31,339.10 253.75,339.51 254.20,339.93 254.64,340.35 255.08,340.77 255.52,341.20 255.97,341.63 256.41,342.06 256.85,342.49 257.29,342.92 257.74,343.35 258.18,343.77 258.62,344.20 259.06,344.62 259.51,345.04 259.95,345.46 260.39,345.87 260.83,346.28 261.28,346.69 261.72,347.09 262.16,347.49 262.60,347.89 263.05,348.28 263.49,348.66 263.93,349.04 264.37,349.42 264.82,349.79 265.26,350.15 265.70,350.51 266.14,350.87 266.59,351.22 267.03,351.56 267.47,351.90 267.91,352.24 268.36,352.56 268.80,352.89 269.24,353.21 269.68,353.52 270.13,353.83 270.57,354.13 271.01,354.43 271.45,354.72 271.90,355.01 272.34,355.30 272.78,355.58 273.22,355.85 273.67,356.12 274.11,356.38 274.55,356.64 274.99,356.90 275.44,357.15 275.88,357.40 276.32,357.64 276.76,357.88 277.21,358.11 277.65,358.34 278.09,358.56 278.53,358.78 278.98,359.00 279.42,359.21 279.86,359.42 280.30,359.63 280.75,359.83 281.19,360.03 281.63,360.22 282.07,360.41 282.52,360.60 282.96,360.78 283.40,360.96 283.84,361.14 284.29,361.31 284.73,361.48 285.17,361.65 285.61,361.82 286.06,361.98 286.50,362.13 286.94,362.29 287.38,362.44 287.82,362.59 288.27,362.74 288.71,362.88 289.15,363.02 289.59,363.16 290.04,363.30 290.48,363.43 290.92,363.56 291.36,363.69 291.81,363.81 292.25,363.94 292.69,364.06 293.13,364.18 293.58,364.29 294.02,364.41 294.46,364.52 294.90,364.63 295.35,364.74 295.79,364.84 296.23,364.95 296.67,365.05 297.12,365.15 297.56,365.25 298.00,365.34 298.44,365.44 298.89,365.53 299.33,365.62 299.77,365.71 300.21,365.80 300.66,365.88 301.10,365.97 301.54,366.05 301.98,366.13 302.43,366.21 302.87,366.29 303.31,366.37 303.75,366.44 304.20,366.51 304.64,366.59 305.08,366.66 305.52,366.73 305.97,366.80 306.41,366.86 306.85,366.93 307.29,366.99 307.74,367.05 308.18,367.12 308.62,367.18 309.06,367.24 309.51,367.30 309.95,367.35 310.39,367.41 310.83,367.46 311.28,367.52 311.72,367.57 312.16,367.62 312.60,367.67 313.05,367.72 313.49,367.77 313.93,367.82 314.37,367.87 314.82,367.92 315.26,367.96 315.70,368.01 316.14,368.05 316.59,368.09 317.03,368.14 317.47,368.18 317.91,368.22 318.36,368.26 318.80,368.30 319.24,368.33 319.68,368.37 320.13,368.41 320.57,368.44 321.01,368.48 321.45,368.52 321.90,368.55 322.34,368.58 322.78,368.62 323.22,368.65 323.67,368.68 324.11,368.71 324.55,368.74 324.99,368.77 325.44,368.80 325.88,368.83 326.32,368.86 326.76,368.88 327.21,368.91 327.65,368.94 328.09,368.96 328.53,368.99 328.98,369.01 329.42,369.04 329.86,369.06 330.30,369.09 330.74,369.11 331.19,369.13 331.63,369.16 332.07,369.18 332.51,369.20 332.96,369.22 333.40,369.24 333.84,369.26 334.28,369.28 334.73,369.30 335.17,369.32 335.61,369.34 336.05,369.36 336.50,369.38 336.94,369.39 337.38,369.41 337.82,369.43 338.27,369.44 338.71,369.46 339.15,369.48 339.59,369.49 340.04,369.51 340.48,369.52 340.92,369.54 341.36,369.55 341.81,369.57 342.25,369.58 342.69,369.60 343.13,369.61 343.58,369.62 344.02,369.64 344.46,369.65 344.90,369.66 345.35,369.67 345.79,369.69 346.23,369.70 346.67,369.71 347.12,369.72 347.56,369.73 348.00,369.74 348.44,369.75 348.89,369.76 349.33,369.77 349.77,369.78 350.21,369.79 350.66,369.80 351.10,369.81 351.54,369.82 351.98,369.83 352.43,369.84 352.87,369.85 353.31,369.86 353.75,369.87 354.20,369.88 354.64,369.88 355.08,369.89 355.52,369.90 355.97,369.91 356.41,369.92 356.85,369.92 357.29,369.93 357.74,369.94 358.18,369.94 358.62,369.95 359.06,369.96 359.51,369.96 359.95,369.97 360.39,369.98 360.83,369.98 361.28,369.99 361.72,370.00 362.16,370.00 362.60,370.01 363.05,370.01 363.49,370.02 363.93,370.02 364.37,370.03 364.82,370.04 365.26,370.04 365.70,370.05 366.14,370.05 366.59,370.06 367.03,370.06 367.47,370.07 367.91,370.07 368.36,370.07 368.80,370.08 369.24,370.08 369.68,370.09 370.13,370.09 370.57,370.10 371.01,370.10 371.45,370.10 371.90,370.11 372.34,370.11 372.78,370.12 373.22,370.12 373.67,370.12 374.11,370.13 374.55,370.13" fill="none" stroke="#34eb93" stroke-width="1.2" stroke-linejoin="round" />
<polyline points="242.25,365.48 242.69,364.34 243.13,363.31 243.58,362.39 244.02,361.56 244.46,360.82 244.90,360.16 245.35,359.57 245.79,359.05 246.23,358.60 246.67,358.20 247.12,357.86 247.56,357.56 248.00,357.31 248.44,357.10 248.89,356.93 249.33,356.79 249.77,356.68 250.21,356.60 250.66,356.55 251.10,356.52 251.54,356.51 251.98,356.53 252.43,356.56 252.87,356.61 253.31,356.67 253.75,356.74 254.20,356.83 254.64,356.93 255.08,357.04 255.52,357.16 255.97,357.28 256.41,357.41 256.85,357.55 257.29,357.69 257.74,357.84 258.18,357.99 258.62,358.14 259.06,358.30 259.51,358.46 259.95,358.62 260.39,358.79 260.83,358.95 261.28,359.12 261.72,359.28 262.16,359.45 262.60,359.62 263.05,359.78 263.49,359.95 263.93,360.11 264.37,360.28 264.82,360.44 265.26,360.60 265.70,360.77 266.14,360.93 266.59,361.08 267.03,361.24 267.47,361.40 267.91,361.55 268.36,361.70 268.80,361.85 269.24,362.00 269.68,362.15 270.13,362.29 270.57,362.43 271.01,362.57 271.45,362.71 271.90,362.85 272.34,362.98 272.78,363.11 273.22,363.25 273.67,363.37 274.11,363.50 274.55,363.62 274.99,363.75 275.44,363.87 275.88,363.99 276.32,364.10 276.76,364.22 277.21,364.33 277.65,364.44 278.09,364.55 278.53,364.66 278.98,364.76 279.42,364.86 279.86,364.97 280.30,365.07 280.75,365.16 281.19,365.26 281.63,365.36 282.07,365.45 282.52,365.54 282.96,365.63 283.40,365.72 283.84,365.80 284.29,365.89 284.73,365.97 285.17,366.05 285.61,366.13 286.06,366.21 286.50,366.29 286.94,366.37 287.38,366.44 287.82,366.51 288.27,366.58 288.71,366.65 289.15,366.72 289.59,366.79 290.04,366.86 290.48,366.92 290.92,366.99 291.36,367.05 291.81,367.11 292.25,367.17 292.69,367.23 293.13,367.29 293.58,367.35 294.02,367.40 294.46,367.46 294.90,367.51 295.35,367.57 295.79,367.62 296.23,367.67 296.67,367.72 297.12,367.77 297.56,367.82 298.00,367.86 298.44,367.91 298.89,367.96 299.33,368.00 299.77,368.05 300.21,368.09 300.66,368.13 301.10,368.17 301.54,368.21 301.98,368.25 302.43,368.29 302.87,368.33 303.31,368.37 303.75,368.40 304.20,368.44 304.64,368.48 305.08,368.51 305.52,368.54 305.97,368.58 306.41,368.61 306.85,368.64 307.29,368.68 307.74,368.71 308.18,368.74 308.62,368.77 309.06,368.80 309.51,368.82 309.95,368.85 310.39,368.88 310.83,368.91 311.28,368.93 311.72,368.96 312.16,368.99 312.60,369.01 313.05,369.04 313.49,369.06 313.93,369.08 314.37,369.11 314.82,369.13 315.26,369.15 315.70,369.17 316.14,369.20 316.59,369.22 317.03,369.24 317.47,369.26 317.91,369.28 318.36,369.30 318.80,369.32 319.24,369.34 319.68,369.35 320.13,369.37 320.57,369.39 321.01,369.41 321.45,369.43 321.90,369.44 322.34,369.46 322.78,369.47 323.22,369.49 323.67,369.51 324.11,369.52 324.55,369.54 324.99,369.55 325.44,369.57 325.88,369.58 326.32,369.59 326.76,369.61 327.21,369.62 327.65,369.63 328.09,369.65 328.53,369.66 328.98,369.67 329.42,369.68 329.86,369.70 330.30,369.71 330.74,369.72 331.19,369.73 331.63,369.74 332.07,369.75 332.51,369.76 332.96,369.77 333.40,369.78 333.84,369.79 334.28,369.80 334.73,369.81 335.17,369.82 335.61,369.83 336.05,369.84 336.50,369.85 336.94,369.86 337.38,369.87 337.82,369.87 338.27,369.88 338.71,369.89 339.15,369.90 339.59,369.91 340.04,369.91 340.48,369.92 340.92,369.93 341.36,369.94 341.81,369.94 342.25,369.95 342.69,369.96 343.13,369.96 343.58,369.97 344.02,369.98 344.46,369.98 344.90,369.99 345.35,370.00 345.79,370.00 346.23,370.01 346.67,370.01 347.12,370.02 347.56,370.02 348.00,370.03 348.44,370.03 348.89,370.04 349.33,370.04 349.77,370.05 350.21,370.05 350.66,370.06 351.10,370.06 351.54,370.07 351.98,370.07 352.43,370.08 352.87,370.08 353.31,370.09 353.75,370.09 354.20,370.10 354.64,370.10 355.08,370.10 355.52,370.11 355.97,370.11 356.41,370.11 356.85,370.12 357.29,370.12 357.74,370.13 358.18,370.13 358.62,370.13 359.06,370.14 359.51,370.14 359.95,370.14 360.39,370.15 360.83,370.15 361.28,370.15 361.72,370.15 362.16,370.16 362.60,370.16 363.05,370.16 363.49,370.17 363.93,370.17 364.37,370.17 364.82,370.17 365.26,370.18 365.70,370.18 366.14,370.18 366.59,370.18 367.03,370.19 367.47,370.19 367.91,370.19 368.36,370.19 368.80,370.20 369.24,370.20 369.68,370.20 370.13,370.20 370.57,370.20 371.01,370.21 371.45,370.21 371.90,370.21 372.34,370.21 372.78,370.21 373.22,370.21 373.67,370.22 374.11,370.22 374.55,370.22" fill="none" stroke="#34eb93" stroke-width="1.2" stroke-linejoin="round" />
<polyline points="242.25,395.30 242.69,393.59 243.13,392.01 243.58,390.54 244.02,389.18 244.46,387.91 244.90,386.73 245.35,385.64 245.79,384.62 246.23,383.68 246.67,382.81 247.12,381.99 247.56,381.24 248.00,380.54 248.44,379.88 248.89,379.28 249.33,378.71 249.77,378.19 250.21,377.70 250.66,377.25 251.10,376.82 251.54,376.43 251.98,376.06 252.43,375.72 252.87,375.41 253.31,375.11 253.75,374.83 254.20,374.58 254.64,374.34 255.08,374.12 255.52,373.91 255.97,373.71 256.41,373.53 256.85,373.36 257.29,373.20 257.74,373.06 258.18,372.92 258.62,372.79 259.06,372.67 259.51,372.55 259.95,372.45 260.39,372.35 260.83,372.25 261.28,372.17 261.72,372.08 262.16,372.01 262.60,371.93 263.05,371.87 263.49,371.80 263.93,371.74 264.37,371.68 264.82,371.63 265.26,371.58 265.70,371.53 266.14,371.49 266.59,371.44 267.03,371.40 267.47,371.37 267.91,371.33 268.36,371.30 268.80,371.26 269.24,371.23 269.68,371.20 270.13,371.17 270.57,371.15 271.01,371.12 271.45,371.10 271.90,371.07 272.34,371.05 272.78,371.03 273.22,371.01 273.67,370.99 274.11,370.97 274.55,370.95 274.99,370.94 275.44,370.92 275.88,370.91 276.32,370.89 276.76,370.88 277.21,370.86 277.65,370.85 278.09,370.84 278.53,370.82 278.98,370.81 279.42,370.80 279.86,370.79 280.30,370.78 280.75,370.77 281.19,370.75 281.63,370.74 282.07,370.74 282.52,370.73 282.96,370.72 283.40,370.71 283.84,370.70 284.29,370.69 284.73,370.68 285.17,370.67 285.61,370.67 286.06,370.66 286.50,370.65 286.94,370.64 287.38,370.64 287.82,370.63 288.27,370.62 288.71,370.62 289.15,370.61 289.59,370.61 290.04,370.60 290.48,370.59 290.92,370.59 291.36,370.58 291.81,370.58 292.25,370.57 292.69,370.57 293.13,370.56 293.58,370.56 294.02,370.55 294.46,370.55 294.90,370.54 295.35,370.54 295.79,370.53 296.23,370.53 296.67,370.52 297.12,370.52 297.56,370.52 298.00,370.51 298.44,370.51 298.89,370.50 299.33,370.50 299.77,370.50 300.21,370.49 300.66,370.49 301.10,370.49 301.54,370.48 301.98,370.48 302.43,370.48 302.87,370.47 303.31,370.47 303.75,370.47 304.20,370.46 304.64,370.46 305.08,370.46 305.52,370.45 305.97,370.45 306.41,370.45 306.85,370.45 307.29,370.44 307.74,370.44 308.18,370.44 308.62,370.44 309.06,370.43 309.51,370.43 309.95,370.43 310.39,370.43 310.83,370.42 311.28,370.42 311.72,370.42 312.16,370.42 312.60,370.42 313.05,370.41 313.49,370.41 313.93,370.41 314.37,370.41 314.82,370.41 315.26,370.40 315.70,370.40 316.14,370.40 316.59,370.40 317.03,370.40 317.47,370.39 317.91,370.39 318.36,370.39 318.80,370.39 319.24,370.39 319.68,370.39 320.13,370.39 320.57,370.38 321.01,370.38 321.45,370.38 321.90,370.38 322.34,370.38 322.78,370.38 323.22,370.38 323.67,370.37 324.11,370.37 324.55,370.37 324.99,370.37 325.44,370.37 325.88,370.37 326.32,370.37 326.76,370.37 327.21,370.36 327.65,370.36 328.09,370.36 328.53,370.36 328.98,370.36 329.42,370.36 329.86,370.36 330.30,370.36 330.74,370.36 331.19,370.36 331.63,370.35 332.07,370.35 332.51,370.35 332.96,370.35 333.40,370.35 333.84,370.35 334.28,370.35 334.73,370.35 335.17,370.35 335.61,370.35 336.05,370.35 336.50,370.35 336.94,370.35 337.38,370.34 337.82,370.34 338.27,370.34 338.71,370.34 339.15,370.34 339.59,370.34 340.04,370.34 340.48,370.34 340.92,370.34 341.36,370.34 341.81,370.34 342.25,370.34 342.69,370.34 343.13,370.34 343.58,370.34 344.02,370.34 344.46,370.33 344.90,370.33 345.35,370.33 345.79,370.33 346.23,370.33 346.67,370.33 347.12,370.33 347.56,370.33 348.00,370.33 348.44,370.33 348.89,370.33 349.33,370.33 349.77,370.33 350.21,370.33 350.66,370.33 351.10,370.33 351.54,370.33 351.98,370.33 352.43,370.33 352.87,370.33 353.31,370.33 353.75,370.33 354.20,370.33 354.64,370.33 355.08,370.32 355.52,370.32 355.97,370.32 356.41,370.32 356.85,370.32 357.29,370.32 357.74,370.32 358.18,370.32 358.62,370.32 359.06,370.32 359.51,370.32 359.95,370.32 360.39,370.32 360.83,370.32 361.28,370.32 361.72,370.32 362.16,370.32 362.60,370.32 363.05,370.32 363.49,370.32 363.93,370.32 364.37,370.32 364.82,370.32 365.26,370.32 365.70,370.32 366.14,370.32 366.59,370.32 367.03,370.32 367.47,370.32 367.91,370.32 368.36,370.32 368.80,370.32 369.24,370.32 369.68,370.32 370.13,370.32 370.57,370.32 371.01,370.32 371.45,370.32 371.90,370.32 372.34,370.32 372.78,370.32 373.22,370.32 373.67,370.32 374.11,370.32 374.55,370.32" fill="none" stroke="#34eb93" stroke-width="1.2" stroke-linejoin="round" />
<polyline points="242.25,423.70 242.69,421.45 243.13,419.34 243.58,417.35 244.02,415.47 244.46,413.71 244.90,412.04 245.35,410.46 245.79,408.98 246.23,407.57 246.67,406.24 247.12,404.98 247.56,403.79 248.00,402.66 248.44,401.58 248.89,400.56 249.33,399.59 249.77,398.67 250.21,397.79 250.66,396.96 251.10,396.16 251.54,395.40 251.98,394.67 252.43,393.98 252.87,393.31 253.31,392.67 253.75,392.06 254.20,391.48 254.64,390.92 255.08,390.38 255.52,389.86 255.97,389.36 256.41,388.88 256.85,388.42 257.29,387.98 257.74,387.55 258.18,387.13 258.62,386.73 259.06,386.35 259.51,385.97 259.95,385.61 260.39,385.26 260.83,384.92 261.28,384.59 261.72,384.28 262.16,383.97 262.60,383.67 263.05,383.37 263.49,383.09 263.93,382.82 264.37,382.55 264.82,382.29 265.26,382.03 265.70,381.79 266.14,381.55 266.59,381.31 267.03,381.08 267.47,380.86 267.91,380.64 268.36,380.43 268.80,380.23 269.24,380.02 269.68,379.83 270.13,379.63 270.57,379.45 271.01,379.26 271.45,379.08 271.90,378.91 272.34,378.74 272.78,378.57 273.22,378.41 273.67,378.25 274.11,378.09 274.55,377.94 274.99,377.79 275.44,377.64 275.88,377.50 276.32,377.36 276.76,377.22 277.21,377.08 277.65,376.95 278.09,376.82 278.53,376.69 278.98,376.57 279.42,376.45 279.86,376.33 280.30,376.21 280.75,376.10 281.19,375.99 281.63,375.88 282.07,375.77 282.52,375.67 282.96,375.56 283.40,375.46 283.84,375.36 284.29,375.26 284.73,375.17 285.17,375.08 285.61,374.98 286.06,374.89 286.50,374.81 286.94,374.72 287.38,374.64 287.82,374.55 288.27,374.47 288.71,374.39 289.15,374.31 289.59,374.24 290.04,374.16 290.48,374.09 290.92,374.02 291.36,373.94 291.81,373.88 292.25,373.81 292.69,373.74 293.13,373.67 293.58,373.61 294.02,373.55 294.46,373.49 294.90,373.43 295.35,373.37 295.79,373.31 296.23,373.25 296.67,373.19 297.12,373.14 297.56,373.08 298.00,373.03 298.44,372.98 298.89,372.93 299.33,372.88 299.77,372.83 300.21,372.78 300.66,372.73 301.10,372.69 301.54,372.64 301.98,372.60 302.43,372.56 302.87,372.51 303.31,372.47 303.75,372.43 304.20,372.39 304.64,372.35 305.08,372.31 305.52,372.27 305.97,372.23 306.41,372.20 306.85,372.16 307.29,372.13 307.74,372.09 308.18,372.06 308.62,372.02 309.06,371.99 309.51,371.96 309.95,371.93 310.39,371.90 310.83,371.87 311.28,371.84 311.72,371.81 312.16,371.78 312.60,371.75 313.05,371.72 313.49,371.70 313.93,371.67 314.37,371.64 314.82,371.62 315.26,371.59 315.70,371.57 316.14,371.55 316.59,371.52 317.03,371.50 317.47,371.48 317.91,371.45 318.36,371.43 318.80,371.41 319.24,371.39 319.68,371.37 320.13,371.35 320.57,371.33 321.01,371.31 321.45,371.29 321.90,371.27 322.34,371.25 322.78,371.24 323.22,371.22 323.67,371.20 324.11,371.18 324.55,371.17 324.99,371.15 325.44,371.13 325.88,371.12 326.32,371.10 326.76,371.09 327.21,371.07 327.65,371.06 328.09,371.04 328.53,371.03 328.98,371.02 329.42,371.00 329.86,370.99 330.30,370.98 330.74,370.96 331.19,370.95 331.63,370.94 332.07,370.93 332.51,370.92 332.96,370.90 333.40,370.89 333.84,370.88 334.28,370.87 334.73,370.86 335.17,370.85 335.61,370.84 336.05,370.83 336.50,370.82 336.94,370.81 337.38,370.80 337.82,370.79 338.27,370.78 338.71,370.77 339.15,370.76 339.59,370.75 340.04,370.75 340.48,370.74 340.92,370.73 341.36,370.72 341.81,370.71 342.25,370.71 342.69,370.70 343.13,370.69 343.58,370.68 344.02,370.68 344.46,370.67 344.90,370.66 345.35,370.66 345.79,370.65 346.23,370.64 346.67,370.64 347.12,370.63 347.56,370.62 348.00,370.62 348.44,370.61 348.89,370.61 349.33,370.60 349.77,370.60 350.21,370.59 350.66,370.58 351.10,370.58 351.54,370.57 351.98,370.57 352.43,370.56 352.87,370.56 353.31,370.55 353.75,370.55 354.20,370.55 354.64,370.54 355.08,370.54 355.52,370.53 355.97,370.53 356.41,370.52 356.85,370.52 357.29,370.52 357.74,370.51 358.18,370.51 358.62,370.50 359.06,370.50 359.51,370.50 359.95,370.49 360.39,370.49 360.83,370.49 361.28,370.48 361.72,370.48 362.16,370.48 362.60,370.47 363.05,370.47 363.49,370.47 363.93,370.46 364.37,370.46 364.82,370.46 365.26,370.45 365.70,370.45 366.14,370.45 366.59,370.45 367.03,370.44 367.47,370.44 367.91,370.44 368.36,370.44 368.80,370.43 369.24,370.43 369.68,370.43 370.13,370.43 370.57,370.42 371.01,370.42 371.45,370.42 371.90,370.42 372.34,370.42 372.78,370.41 373.22,370.41 373.67,370.41 374.11,370.41 374.55,370.41" fill="none" stroke="#34eb93" stroke-width="1.2" stroke-linejoin="round" />
<polyline points="242.25,452.10 242.69,449.31 243.13,446.67 243.58,444.16 244.02,441.77 244.46,439.50 244.90,437.34 245.35,435.29 245.79,433.33 246.23,431.46 246.67,429.67 247.12,427.97 247.56,426.34 248.00,424.78 248.44,423.28 248.89,421.85 249.33,420.47 249.77,419.15 250.21,417.89 250.66,416.67 251.10,415.49 251.54,414.37 251.98,413.28 252.43,412.23 252.87,411.22 253.31,410.24 253.75,409.29 254.20,408.38 254.64,407.50 255.08,406.64 255.52,405.82 255.97,405.02 256.41,404.24 256.85,403.48 257.29,402.75 257.74,402.04 258.18,401.35 258.62,400.68 259.06,400.03 259.51,399.39 259.95,398.78 260.39,398.18 260.83,397.59 261.28,397.02 261.72,396.47 262.16,395.92 262.60,395.40 263.05,394.88 263.49,394.38 263.93,393.89 264.37,393.41 264.82,392.94 265.26,392.49 265.70,392.04 266.14,391.61 266.59,391.18 267.03,390.76 267.47,390.36 267.91,389.96 268.36,389.57 268.80,389.19 269.24,388.82 269.68,388.45 270.13,388.10 270.57,387.75 271.01,387.41 271.45,387.07 271.90,386.74 272.34,386.42 272.78,386.11 273.22,385.80 273.67,385.50 274.11,385.21 274.55,384.92 274.99,384.63 275.44,384.36 275.88,384.09 276.32,383.82 276.76,383.56 277.21,383.30 277.65,383.05 278.09,382.81 278.53,382.57 278.98,382.33 279.42,382.10 279.86,381.87 280.30,381.65 280.75,381.43 281.19,381.22 281.63,381.01 282.07,380.81 282.52,380.60 282.96,380.41 283.40,380.21 283.84,380.02 284.29,379.84 284.73,379.66 285.17,379.48 285.61,379.30 286.06,379.13 286.50,378.96 286.94,378.80 287.38,378.63 287.82,378.47 288.27,378.32 288.71,378.17 289.15,378.02 289.59,377.87 290.04,377.72 290.48,377.58 290.92,377.44 291.36,377.31 291.81,377.17 292.25,377.04 292.69,376.92 293.13,376.79 293.58,376.67 294.02,376.54 294.46,376.43 294.90,376.31 295.35,376.19 295.79,376.08 296.23,375.97 296.67,375.86 297.12,375.76 297.56,375.65 298.00,375.55 298.44,375.45 298.89,375.35 299.33,375.26 299.77,375.16 300.21,375.07 300.66,374.98 301.10,374.89 301.54,374.80 301.98,374.72 302.43,374.63 302.87,374.55 303.31,374.47 303.75,374.39 304.20,374.31 304.64,374.24 305.08,374.16 305.52,374.09 305.97,374.02 306.41,373.95 306.85,373.88 307.29,373.81 307.74,373.74 308.18,373.68 308.62,373.61 309.06,373.55 309.51,373.49 309.95,373.43 310.39,373.37 310.83,373.31 311.28,373.25 311.72,373.20 312.16,373.14 312.60,373.09 313.05,373.04 313.49,372.98 313.93,372.93 314.37,372.88 314.82,372.83 315.26,372.79 315.70,372.74 316.14,372.69 316.59,372.65 317.03,372.60 317.47,372.56 317.91,372.52 318.36,372.47 318.80,372.43 319.24,372.39 319.68,372.35 320.13,372.31 320.57,372.28 321.01,372.24 321.45,372.20 321.90,372.17 322.34,372.13 322.78,372.09 323.22,372.06 323.67,372.03 324.11,371.99 324.55,371.96 324.99,371.93 325.44,371.90 325.88,371.87 326.32,371.84 326.76,371.81 327.21,371.78 327.65,371.75 328.09,371.73 328.53,371.70 328.98,371.67 329.42,371.65 329.86,371.62 330.30,371.60 330.74,371.57 331.19,371.55 331.63,371.52 332.07,371.50 332.51,371.48 332.96,371.46 333.40,371.43 333.84,371.41 334.28,371.39 334.73,371.37 335.17,371.35 335.61,371.33 336.05,371.31 336.50,371.29 336.94,371.27 337.38,371.26 337.82,371.24 338.27,371.22 338.71,371.20 339.15,371.19 339.59,371.17 340.04,371.15 340.48,371.14 340.92,371.12 341.36,371.11 341.81,371.09 342.25,371.08 342.69,371.06 343.13,371.05 343.58,371.03 344.02,371.02 344.46,371.00 344.90,370.99 345.35,370.98 345.79,370.97 346.23,370.95 346.67,370.94 347.12,370.93 347.56,370.92 348.00,370.91 348.44,370.89 348.89,370.88 349.33,370.87 349.77,370.86 350.21,370.85 350.66,370.84 351.10,370.83 351.54,370.82 351.98,370.81 352.43,370.80 352.87,370.79 353.31,370.78 353.75,370.77 354.20,370.76 354.64,370.76 355.08,370.75 355.52,370.74 355.97,370.73 356.41,370.72 356.85,370.71 357.29,370.71 357.74,370.70 358.18,370.69 358.62,370.68 359.06,370.68 359.51,370.67 359.95,370.66 360.39,370.66 360.83,370.65 361.28,370.64 361.72,370.64 362.16,370.63 362.60,370.62 363.05,370.62 363.49,370.61 363.93,370.61 364.37,370.60 364.82,370.60 365.26,370.59 365.70,370.58 366.14,370.58 366.59,370.57 367.03,370.57 367.47,370.56 367.91,370.56 368.36,370.55 368.80,370.55 369.24,370.55 369.68,370.54 370.13,370.54 370.57,370.53 371.01,370.53 371.45,370.52 371.90,370.52 372.34,370.52 372.78,370.51 373.22,370.51 373.67,370.50 374.11,370.50 374.55,370.50" fill="none" stroke="#34eb93" stroke-width="1.2" stroke-linejoin="round" />
<polyline points="242.25,480.50 242.69,477.29 243.13,474.23 243.58,471.30 244.02,468.50 244.46,465.81 244.90,463.24 245.35,460.77 245.79,458.39 246.23,456.11 246.67,453.92 247.12,451.81 247.56,449.78 248.00,447.82 248.44,445.93 248.89,444.11 249.33,442.35 249.77,440.65 250.21,439.01 250.66,437.42 251.10,435.88 251.54,434.39 251.98,432.95 252.43,431.55 252.87,430.19 253.31,428.87 253.75,427.59 254.20,426.34 254.64,425.13 255.08,423.96 255.52,422.82 255.97,421.70 256.41,420.62 256.85,419.56 257.29,418.54 257.74,417.53 258.18,416.56 258.62,415.61 259.06,414.68 259.51,413.77 259.95,412.89 260.39,412.02 260.83,411.18 261.28,410.36 261.72,409.55 262.16,408.77 262.60,408.00 263.05,407.25 263.49,406.51 263.93,405.79 264.37,405.09 264.82,404.40 265.26,403.73 265.70,403.07 266.14,402.43 266.59,401.80 267.03,401.18 267.47,400.58 267.91,399.99 268.36,399.41 268.80,398.85 269.24,398.29 269.68,397.75 270.13,397.21 270.57,396.69 271.01,396.18 271.45,395.68 271.90,395.19 272.34,394.71 272.78,394.24 273.22,393.78 273.67,393.33 274.11,392.88 274.55,392.45 274.99,392.02 275.44,391.61 275.88,391.20 276.32,390.80 276.76,390.40 277.21,390.02 277.65,389.64 278.09,389.27 278.53,388.90 278.98,388.55 279.42,388.20 279.86,387.86 280.30,387.52 280.75,387.19 281.19,386.87 281.63,386.55 282.07,386.24 282.52,385.94 282.96,385.64 283.40,385.35 283.84,385.06 284.29,384.78 284.73,384.50 285.17,384.23 285.61,383.96 286.06,383.70 286.50,383.45 286.94,383.20 287.38,382.95 287.82,382.71 288.27,382.47 288.71,382.24 289.15,382.01 289.59,381.79 290.04,381.57 290.48,381.36 290.92,381.15 291.36,380.94 291.81,380.74 292.25,380.54 292.69,380.34 293.13,380.15 293.58,379.96 294.02,379.78 294.46,379.60 294.90,379.42 295.35,379.25 295.79,379.08 296.23,378.91 296.67,378.75 297.12,378.59 297.56,378.43 298.00,378.27 298.44,378.12 298.89,377.97 299.33,377.83 299.77,377.68 300.21,377.54 300.66,377.41 301.10,377.27 301.54,377.14 301.98,377.01 302.43,376.88 302.87,376.76 303.31,376.63 303.75,376.51 304.20,376.39 304.64,376.28 305.08,376.16 305.52,376.05 305.97,375.94 306.41,375.84 306.85,375.73 307.29,375.63 307.74,375.53 308.18,375.43 308.62,375.33 309.06,375.23 309.51,375.14 309.95,375.05 310.39,374.96 310.83,374.87 311.28,374.78 311.72,374.70 312.16,374.61 312.60,374.53 313.05,374.45 313.49,374.37 313.93,374.30 314.37,374.22 314.82,374.15 315.26,374.07 315.70,374.00 316.14,373.93 316.59,373.86 317.03,373.79 317.47,373.73 317.91,373.66 318.36,373.60 318.80,373.54 319.24,373.47 319.68,373.41 320.13,373.35 320.57,373.30 321.01,373.24 321.45,373.18 321.90,373.13 322.34,373.08 322.78,373.02 323.22,372.97 323.67,372.92 324.11,372.87 324.55,372.82 324.99,372.77 325.44,372.73 325.88,372.68 326.32,372.64 326.76,372.59 327.21,372.55 327.65,372.51 328.09,372.46 328.53,372.42 328.98,372.38 329.42,372.34 329.86,372.30 330.30,372.27 330.74,372.23 331.19,372.19 331.63,372.16 332.07,372.12 332.51,372.09 332.96,372.05 333.40,372.02 333.84,371.99 334.28,371.96 334.73,371.92 335.17,371.89 335.61,371.86 336.05,371.83 336.50,371.80 336.94,371.78 337.38,371.75 337.82,371.72 338.27,371.69 338.71,371.67 339.15,371.64 339.59,371.62 340.04,371.59 340.48,371.57 340.92,371.54 341.36,371.52 341.81,371.50 342.25,371.47 342.69,371.45 343.13,371.43 343.58,371.41 344.02,371.39 344.46,371.37 344.90,371.35 345.35,371.33 345.79,371.31 346.23,371.29 346.67,371.27 347.12,371.25 347.56,371.23 348.00,371.22 348.44,371.20 348.89,371.18 349.33,371.16 349.77,371.15 350.21,371.13 350.66,371.12 351.10,371.10 351.54,371.09 351.98,371.07 352.43,371.06 352.87,371.04 353.31,371.03 353.75,371.01 354.20,371.00 354.64,370.99 355.08,370.98 355.52,370.96 355.97,370.95 356.41,370.94 356.85,370.93 357.29,370.91 357.74,370.90 358.18,370.89 358.62,370.88 359.06,370.87 359.51,370.86 359.95,370.85 360.39,370.84 360.83,370.83 361.28,370.82 361.72,370.81 362.16,370.80 362.60,370.79 363.05,370.78 363.49,370.77 363.93,370.76 364.37,370.75 364.82,370.75 365.26,370.74 365.70,370.73 366.14,370.72 366.59,370.71 367.03,370.71 367.47,370.70 367.91,370.69 368.36,370.68 368.80,370.68 369.24,370.67 369.68,370.66 370.13,370.66 370.57,370.65 371.01,370.64 371.45,370.64 371.90,370.63 372.34,370.62 372.78,370.62 373.22,370.61 373.67,370.61 374.11,370.60 374.55,370.59" fill="none" stroke="#34eb93" stroke-width="1.2" stroke-linejoin="round" />
<polyline points="242.25,508.90 242.69,505.42 243.13,502.06 243.58,498.82 244.02,495.70 244.46,492.69 244.90,489.78 245.35,486.97 245.79,484.26 246.23,481.63 246.67,479.08 247.12,476.61 247.56,474.22 248.00,471.91 248.44,469.66 248.89,467.47 249.33,465.35 249.77,463.29 250.21,461.29 250.66,459.34 251.10,457.45 251.54,455.60 251.98,453.81 252.43,452.06 252.87,450.36 253.31,448.70 253.75,447.08 254.20,445.50 254.64,443.96 255.08,442.46 255.52,440.99 255.97,439.56 256.41,438.16 256.85,436.79 257.29,435.46 257.74,434.15 258.18,432.88 258.62,431.63 259.06,430.41 259.51,429.22 259.95,428.06 260.39,426.92 260.83,425.80 261.28,424.71 261.72,423.64 262.16,422.60 262.60,421.58 263.05,420.57 263.49,419.59 263.93,418.63 264.37,417.69 264.82,416.77 265.26,415.87 265.70,414.99 266.14,414.12 266.59,413.27 267.03,412.44 267.47,411.63 267.91,410.83 268.36,410.05 268.80,409.28 269.24,408.53 269.68,407.79 270.13,407.07 270.57,406.37 271.01,405.67 271.45,404.99 271.90,404.33 272.34,403.68 272.78,403.04 273.22,402.41 273.67,401.79 274.11,401.19 274.55,400.60 274.99,400.02 275.44,399.45 275.88,398.89 276.32,398.35 276.76,397.81 277.21,397.28 277.65,396.77 278.09,396.26 278.53,395.77 278.98,395.28 279.42,394.80 279.86,394.33 280.30,393.88 280.75,393.43 281.19,392.99 281.63,392.55 282.07,392.13 282.52,391.71 282.96,391.30 283.40,390.90 283.84,390.51 284.29,390.12 284.73,389.75 285.17,389.38 285.61,389.01 286.06,388.66 286.50,388.31 286.94,387.96 287.38,387.63 287.82,387.30 288.27,386.97 288.71,386.66 289.15,386.34 289.59,386.04 290.04,385.74 290.48,385.44 290.92,385.16 291.36,384.87 291.81,384.60 292.25,384.32 292.69,384.06 293.13,383.79 293.58,383.54 294.02,383.29 294.46,383.04 294.90,382.80 295.35,382.56 295.79,382.33 296.23,382.10 296.67,381.87 297.12,381.65 297.56,381.44 298.00,381.22 298.44,381.02 298.89,380.81 299.33,380.61 299.77,380.42 300.21,380.22 300.66,380.03 301.10,379.85 301.54,379.67 301.98,379.49 302.43,379.31 302.87,379.14 303.31,378.97 303.75,378.81 304.20,378.65 304.64,378.49 305.08,378.33 305.52,378.18 305.97,378.03 306.41,377.88 306.85,377.74 307.29,377.60 307.74,377.46 308.18,377.32 308.62,377.19 309.06,377.06 309.51,376.93 309.95,376.80 310.39,376.68 310.83,376.56 311.28,376.44 311.72,376.32 312.16,376.21 312.60,376.10 313.05,375.99 313.49,375.88 313.93,375.77 314.37,375.67 314.82,375.57 315.26,375.47 315.70,375.37 316.14,375.27 316.59,375.18 317.03,375.08 317.47,374.99 317.91,374.90 318.36,374.82 318.80,374.73 319.24,374.65 319.68,374.56 320.13,374.48 320.57,374.40 321.01,374.33 321.45,374.25 321.90,374.17 322.34,374.10 322.78,374.03 323.22,373.96 323.67,373.89 324.11,373.82 324.55,373.75 324.99,373.69 325.44,373.62 325.88,373.56 326.32,373.50 326.76,373.44 327.21,373.38 327.65,373.32 328.09,373.26 328.53,373.21 328.98,373.15 329.42,373.10 329.86,373.04 330.30,372.99 330.74,372.94 331.19,372.89 331.63,372.84 332.07,372.79 332.51,372.75 332.96,372.70 333.40,372.65 333.84,372.61 334.28,372.56 334.73,372.52 335.17,372.48 335.61,372.44 336.05,372.40 336.50,372.36 336.94,372.32 337.38,372.28 337.82,372.24 338.27,372.21 338.71,372.17 339.15,372.13 339.59,372.10 340.04,372.07 340.48,372.03 340.92,372.00 341.36,371.97 341.81,371.94 342.25,371.90 342.69,371.87 343.13,371.84 343.58,371.82 344.02,371.79 344.46,371.76 344.90,371.73 345.35,371.70 345.79,371.68 346.23,371.65 346.67,371.63 347.12,371.60 347.56,371.58 348.00,371.55 348.44,371.53 348.89,371.50 349.33,371.48 349.77,371.46 350.21,371.44 350.66,371.42 351.10,371.40 351.54,371.37 351.98,371.35 352.43,371.33 352.87,371.31 353.31,371.30 353.75,371.28 354.20,371.26 354.64,371.24 355.08,371.22 355.52,371.21 355.97,371.19 356.41,371.17 356.85,371.15 357.29,371.14 357.74,371.12 358.18,371.11 358.62,371.09 359.06,371.08 359.51,371.06 359.95,371.05 360.39,371.03 360.83,371.02 361.28,371.01 361.72,370.99 362.16,370.98 362.60,370.97 363.05,370.95 363.49,370.94 363.93,370.93 364.37,370.92 364.82,370.91 365.26,370.90 365.70,370.88 366.14,370.87 366.59,370.86 367.03,370.85 367.47,370.84 367.91,370.83 368.36,370.82 368.80,370.81 369.24,370.80 369.68,370.79 370.13,370.78 370.57,370.77 371.01,370.77 371.45,370.76 371.90,370.75 372.34,370.74 372.78,370.73 373.22,370.72 373.67,370.72 374.11,370.71 374.55,370.70" fill="none" stroke="#34eb93" stroke-width="1.2" stroke-linejoin="round" />
<line x1="242.25" y1="197.50" x2="242.25" y2="593.00" stroke="#9a9a9a" stroke-width="1.6" />
<line x1="242.25" y1="395.30" x2="374.55" y2="395.30" stroke="#1a1a1a" stroke-width="1.3" />
<line x1="242.25" y1="253.30" x2="246.05" y2="253.30" stroke="#1a1a1a" stroke-width="1.0" />
<line x1="242.25" y1="324.30" x2="246.05" y2="324.30" stroke="#1a1a1a" stroke-width="1.0" />
<line x1="242.25" y1="466.30" x2="246.05" y2="466.30" stroke="#1a1a1a" stroke-width="1.0" />
<line x1="242.25" y1="537.30" x2="246.05" y2="537.30" stroke="#1a1a1a" stroke-width="1.0" />
<line x1="374.55" y1="395.30" x2="374.55" y2="391.60" stroke="#1a1a1a" stroke-width="1.0" />
<text x="237.45" y="258.60" font-size="13.8" text-anchor="end" fill="#111" >50</text>
<text x="237.45" y="329.60" font-size="13.8" text-anchor="end" fill="#111" >25</text>
<text x="237.45" y="400.60" font-size="13.8" text-anchor="end" fill="#111" >0</text>
<text x="237.45" y="471.60" font-size="13.8" text-anchor="end" fill="#111" >&#8722;25</text>
<text x="237.45" y="542.60" font-size="13.8" text-anchor="end" fill="#111" >&#8722;50</text>
<text x="242.65" y="409.70" font-size="13.8" text-anchor="middle" fill="#111" >0</text>
<text x="374.55" y="409.70" font-size="13.8" text-anchor="middle" fill="#111" >500</text>
<text x="251.60" y="198" font-size="13.8" fill="#111"><tspan font-style="italic">y</tspan> <tspan dx="-0.7">(</tspan><tspan font-style="italic" dx="0.6">t</tspan><tspan dx="1.0">)</tspan><tspan dx="3.2">(mV)</tspan></text>
<text x="347.80" y="381.5" font-size="13.8" fill="#111"><tspan font-style="italic">t</tspan> (<tspan font-style="italic">&#956;</tspan>s)</text>
<polyline points="441.25,276.87 441.69,278.19 442.13,279.57 442.57,280.99 443.01,282.45 443.45,283.94 443.89,285.46 444.33,287.00 444.77,288.55 445.21,290.12 445.65,291.70 446.09,293.28 446.53,294.86 446.97,296.44 447.41,298.02 447.85,299.59 448.29,301.16 448.73,302.71 449.17,304.25 449.61,305.78 450.05,307.30 450.49,308.80 450.93,310.29 451.37,311.76 451.81,313.21 452.24,314.64 452.68,316.05 453.12,317.45 453.56,318.83 454.00,320.18 454.44,321.52 454.88,322.84 455.32,324.14 455.76,325.41 456.20,326.67 456.64,327.91 457.08,329.13 457.52,330.33 457.96,331.50 458.40,332.66 458.84,333.80 459.28,334.92 459.72,336.02 460.16,337.10 460.60,338.17 461.04,339.21 461.48,340.24 461.92,341.25 462.36,342.24 462.80,343.21 463.24,344.16 463.68,345.10 464.12,346.02 464.56,346.93 465.00,347.82 465.44,348.69 465.88,349.54 466.32,350.38 466.76,351.21 467.20,352.02 467.64,352.81 468.08,353.59 468.52,354.36 468.96,355.11 469.40,355.85 469.84,356.57 470.28,357.28 470.72,357.98 471.16,358.67 471.60,359.34 472.04,360.00 472.48,360.64 472.92,361.28 473.36,361.90 473.80,362.51 474.23,363.11 474.67,363.70 475.11,364.28 475.55,364.85 475.99,365.41 476.43,365.95 476.87,366.49 477.31,367.01 477.75,367.53 478.19,368.04 478.63,368.53 479.07,369.02 479.51,369.50 479.95,369.97 480.39,370.43 480.83,370.88 481.27,371.32 481.71,371.76 482.15,372.19 482.59,372.60 483.03,373.02 483.47,373.42 483.91,373.81 484.35,374.20 484.79,374.58 485.23,374.96 485.67,375.32 486.11,375.68 486.55,376.04 486.99,376.38 487.43,376.72 487.87,377.06 488.31,377.38 488.75,377.71 489.19,378.02 489.63,378.33 490.07,378.63 490.51,378.93 490.95,379.22 491.39,379.51 491.83,379.79 492.27,380.07 492.71,380.34 493.15,380.60 493.59,380.86 494.03,381.12 494.47,381.37 494.91,381.62 495.35,381.86 495.79,382.09 496.22,382.33 496.66,382.56 497.10,382.78 497.54,383.00 497.98,383.21 498.42,383.43 498.86,383.63 499.30,383.84 499.74,384.04 500.18,384.23 500.62,384.42 501.06,384.61 501.50,384.80 501.94,384.98 502.38,385.16 502.82,385.33 503.26,385.50 503.70,385.67 504.14,385.84 504.58,386.00 505.02,386.16 505.46,386.32 505.90,386.47 506.34,386.62 506.78,386.77 507.22,386.91 507.66,387.05 508.10,387.19 508.54,387.33 508.98,387.46 509.42,387.59 509.86,387.72 510.30,387.85 510.74,387.97 511.18,388.10 511.62,388.22 512.06,388.33 512.50,388.45 512.94,388.56 513.38,388.67 513.82,388.78 514.26,388.89 514.70,388.99 515.14,389.09 515.58,389.19 516.02,389.29 516.46,389.39 516.90,389.49 517.34,389.58 517.78,389.67 518.21,389.76 518.65,389.85 519.09,389.94 519.53,390.02 519.97,390.10 520.41,390.19 520.85,390.27 521.29,390.34 521.73,390.42 522.17,390.50 522.61,390.57 523.05,390.65 523.49,390.72 523.93,390.79 524.37,390.86 524.81,390.92 525.25,390.99 525.69,391.05 526.13,391.12 526.57,391.18 527.01,391.24 527.45,391.30 527.89,391.36 528.33,391.42 528.77,391.48 529.21,391.53 529.65,391.59 530.09,391.64 530.53,391.69 530.97,391.75 531.41,391.80 531.85,391.85 532.29,391.90 532.73,391.94 533.17,391.99 533.61,392.04 534.05,392.08 534.49,392.13 534.93,392.17 535.37,392.21 535.81,392.26 536.25,392.30 536.69,392.34 537.13,392.38 537.57,392.42 538.01,392.45 538.45,392.49 538.89,392.53 539.33,392.57 539.77,392.60 540.20,392.64 540.64,392.67 541.08,392.70 541.52,392.74 541.96,392.77 542.40,392.80 542.84,392.83 543.28,392.86 543.72,392.89 544.16,392.92 544.60,392.95 545.04,392.98 545.48,393.01 545.92,393.03 546.36,393.06 546.80,393.09 547.24,393.11 547.68,393.14 548.12,393.16 548.56,393.18 549.00,393.21 549.44,393.23 549.88,393.25 550.32,393.28 550.76,393.30 551.20,393.32 551.64,393.34 552.08,393.36 552.52,393.38 552.96,393.40 553.40,393.42 553.84,393.44 554.28,393.46 554.72,393.48 555.16,393.50 555.60,393.52 556.04,393.53 556.48,393.55 556.92,393.57 557.36,393.58 557.80,393.60 558.24,393.62 558.68,393.63 559.12,393.65 559.56,393.66 560.00,393.68 560.44,393.69 560.88,393.71 561.32,393.72 561.76,393.73 562.19,393.75 562.63,393.76 563.07,393.77 563.51,393.79 563.95,393.80 564.39,393.81 564.83,393.82 565.27,393.83 565.71,393.85 566.15,393.86 566.59,393.87 567.03,393.88 567.47,393.89 567.91,393.90 568.35,393.91 568.79,393.92 569.23,393.93 569.67,393.94 570.11,393.95 570.55,393.96 570.99,393.97 571.43,393.98 571.87,393.99 572.31,394.00 572.75,394.00" fill="none" stroke="#1c1c86" stroke-width="1.2" stroke-linejoin="round" />
<polyline points="441.25,304.42 441.69,305.27 442.13,306.18 442.57,307.14 443.01,308.14 443.45,309.19 443.89,310.26 444.33,311.36 444.77,312.49 445.21,313.63 445.65,314.78 446.09,315.95 446.53,317.12 446.97,318.30 447.41,319.48 447.85,320.66 448.29,321.84 448.73,323.02 449.17,324.19 449.61,325.35 450.05,326.51 450.49,327.66 450.93,328.79 451.37,329.92 451.81,331.03 452.24,332.14 452.68,333.23 453.12,334.30 453.56,335.37 454.00,336.42 454.44,337.45 454.88,338.47 455.32,339.48 455.76,340.47 456.20,341.45 456.64,342.41 457.08,343.36 457.52,344.29 457.96,345.20 458.40,346.11 458.84,346.99 459.28,347.87 459.72,348.73 460.16,349.57 460.60,350.40 461.04,351.21 461.48,352.01 461.92,352.80 462.36,353.57 462.80,354.33 463.24,355.08 463.68,355.81 464.12,356.53 464.56,357.24 465.00,357.93 465.44,358.62 465.88,359.28 466.32,359.94 466.76,360.59 467.20,361.22 467.64,361.84 468.08,362.45 468.52,363.05 468.96,363.64 469.40,364.22 469.84,364.79 470.28,365.34 470.72,365.89 471.16,366.42 471.60,366.95 472.04,367.47 472.48,367.97 472.92,368.47 473.36,368.96 473.80,369.44 474.23,369.91 474.67,370.37 475.11,370.82 475.55,371.26 475.99,371.70 476.43,372.13 476.87,372.55 477.31,372.96 477.75,373.36 478.19,373.76 478.63,374.15 479.07,374.53 479.51,374.91 479.95,375.27 480.39,375.63 480.83,375.99 481.27,376.33 481.71,376.68 482.15,377.01 482.59,377.34 483.03,377.66 483.47,377.98 483.91,378.29 484.35,378.59 484.79,378.89 485.23,379.18 485.67,379.47 486.11,379.75 486.55,380.03 486.99,380.30 487.43,380.56 487.87,380.83 488.31,381.08 488.75,381.33 489.19,381.58 489.63,381.82 490.07,382.06 490.51,382.29 490.95,382.52 491.39,382.75 491.83,382.97 492.27,383.18 492.71,383.40 493.15,383.60 493.59,383.81 494.03,384.01 494.47,384.20 494.91,384.40 495.35,384.59 495.79,384.77 496.22,384.95 496.66,385.13 497.10,385.31 497.54,385.48 497.98,385.65 498.42,385.81 498.86,385.98 499.30,386.14 499.74,386.29 500.18,386.45 500.62,386.60 501.06,386.74 501.50,386.89 501.94,387.03 502.38,387.17 502.82,387.31 503.26,387.44 503.70,387.57 504.14,387.70 504.58,387.83 505.02,387.96 505.46,388.08 505.90,388.20 506.34,388.32 506.78,388.43 507.22,388.54 507.66,388.66 508.10,388.76 508.54,388.87 508.98,388.98 509.42,389.08 509.86,389.18 510.30,389.28 510.74,389.38 511.18,389.47 511.62,389.57 512.06,389.66 512.50,389.75 512.94,389.84 513.38,389.92 513.82,390.01 514.26,390.09 514.70,390.17 515.14,390.25 515.58,390.33 516.02,390.41 516.46,390.49 516.90,390.56 517.34,390.63 517.78,390.71 518.21,390.78 518.65,390.85 519.09,390.91 519.53,390.98 519.97,391.05 520.41,391.11 520.85,391.17 521.29,391.23 521.73,391.29 522.17,391.35 522.61,391.41 523.05,391.47 523.49,391.53 523.93,391.58 524.37,391.63 524.81,391.69 525.25,391.74 525.69,391.79 526.13,391.84 526.57,391.89 527.01,391.94 527.45,391.98 527.89,392.03 528.33,392.08 528.77,392.12 529.21,392.16 529.65,392.21 530.09,392.25 530.53,392.29 530.97,392.33 531.41,392.37 531.85,392.41 532.29,392.45 532.73,392.49 533.17,392.52 533.61,392.56 534.05,392.60 534.49,392.63 534.93,392.66 535.37,392.70 535.81,392.73 536.25,392.76 536.69,392.80 537.13,392.83 537.57,392.86 538.01,392.89 538.45,392.92 538.89,392.95 539.33,392.97 539.77,393.00 540.20,393.03 540.64,393.06 541.08,393.08 541.52,393.11 541.96,393.13 542.40,393.16 542.84,393.18 543.28,393.21 543.72,393.23 544.16,393.25 544.60,393.27 545.04,393.30 545.48,393.32 545.92,393.34 546.36,393.36 546.80,393.38 547.24,393.40 547.68,393.42 548.12,393.44 548.56,393.46 549.00,393.48 549.44,393.50 549.88,393.51 550.32,393.53 550.76,393.55 551.20,393.57 551.64,393.58 552.08,393.60 552.52,393.61 552.96,393.63 553.40,393.65 553.84,393.66 554.28,393.68 554.72,393.69 555.16,393.70 555.60,393.72 556.04,393.73 556.48,393.75 556.92,393.76 557.36,393.77 557.80,393.78 558.24,393.80 558.68,393.81 559.12,393.82 559.56,393.83 560.00,393.84 560.44,393.86 560.88,393.87 561.32,393.88 561.76,393.89 562.19,393.90 562.63,393.91 563.07,393.92 563.51,393.93 563.95,393.94 564.39,393.95 564.83,393.96 565.27,393.97 565.71,393.98 566.15,393.99 566.59,393.99 567.03,394.00 567.47,394.01 567.91,394.02 568.35,394.03 568.79,394.04 569.23,394.04 569.67,394.05 570.11,394.06 570.55,394.07 570.99,394.07 571.43,394.08 571.87,394.09 572.31,394.09 572.75,394.10" fill="none" stroke="#1c1c86" stroke-width="1.2" stroke-linejoin="round" />
<polyline points="441.25,332.82 441.69,333.19 442.13,333.62 442.57,334.10 443.01,334.64 443.45,335.21 443.89,335.83 444.33,336.48 444.77,337.16 445.21,337.86 445.65,338.58 446.09,339.32 446.53,340.07 446.97,340.83 447.41,341.60 447.85,342.38 448.29,343.16 448.73,343.95 449.17,344.74 449.61,345.52 450.05,346.31 450.49,347.09 450.93,347.87 451.37,348.64 451.81,349.41 452.24,350.17 452.68,350.93 453.12,351.68 453.56,352.42 454.00,353.15 454.44,353.87 454.88,354.59 455.32,355.30 455.76,355.99 456.20,356.68 456.64,357.36 457.08,358.02 457.52,358.68 457.96,359.33 458.40,359.97 458.84,360.59 459.28,361.21 459.72,361.82 460.16,362.42 460.60,363.01 461.04,363.58 461.48,364.15 461.92,364.71 462.36,365.26 462.80,365.80 463.24,366.33 463.68,366.86 464.12,367.37 464.56,367.87 465.00,368.37 465.44,368.85 465.88,369.33 466.32,369.80 466.76,370.26 467.20,370.71 467.64,371.15 468.08,371.59 468.52,372.02 468.96,372.43 469.40,372.85 469.84,373.25 470.28,373.65 470.72,374.04 471.16,374.42 471.60,374.80 472.04,375.17 472.48,375.53 472.92,375.88 473.36,376.23 473.80,376.57 474.23,376.91 474.67,377.24 475.11,377.56 475.55,377.88 475.99,378.19 476.43,378.49 476.87,378.79 477.31,379.09 477.75,379.38 478.19,379.66 478.63,379.94 479.07,380.21 479.51,380.48 479.95,380.74 480.39,381.00 480.83,381.25 481.27,381.50 481.71,381.74 482.15,381.98 482.59,382.22 483.03,382.45 483.47,382.67 483.91,382.90 484.35,383.11 484.79,383.33 485.23,383.54 485.67,383.74 486.11,383.94 486.55,384.14 486.99,384.33 487.43,384.52 487.87,384.71 488.31,384.89 488.75,385.07 489.19,385.25 489.63,385.42 490.07,385.59 490.51,385.76 490.95,385.92 491.39,386.08 491.83,386.24 492.27,386.40 492.71,386.55 493.15,386.70 493.59,386.84 494.03,386.99 494.47,387.13 494.91,387.26 495.35,387.40 495.79,387.53 496.22,387.66 496.66,387.79 497.10,387.91 497.54,388.04 497.98,388.16 498.42,388.28 498.86,388.39 499.30,388.51 499.74,388.62 500.18,388.73 500.62,388.84 501.06,388.94 501.50,389.05 501.94,389.15 502.38,389.25 502.82,389.34 503.26,389.44 503.70,389.53 504.14,389.63 504.58,389.72 505.02,389.81 505.46,389.89 505.90,389.98 506.34,390.06 506.78,390.15 507.22,390.23 507.66,390.31 508.10,390.39 508.54,390.46 508.98,390.54 509.42,390.61 509.86,390.68 510.30,390.75 510.74,390.82 511.18,390.89 511.62,390.96 512.06,391.02 512.50,391.09 512.94,391.15 513.38,391.21 513.82,391.27 514.26,391.33 514.70,391.39 515.14,391.45 515.58,391.51 516.02,391.56 516.46,391.62 516.90,391.67 517.34,391.72 517.78,391.77 518.21,391.82 518.65,391.87 519.09,391.92 519.53,391.97 519.97,392.02 520.41,392.06 520.85,392.11 521.29,392.15 521.73,392.19 522.17,392.24 522.61,392.28 523.05,392.32 523.49,392.36 523.93,392.40 524.37,392.44 524.81,392.47 525.25,392.51 525.69,392.55 526.13,392.58 526.57,392.62 527.01,392.65 527.45,392.69 527.89,392.72 528.33,392.75 528.77,392.78 529.21,392.82 529.65,392.85 530.09,392.88 530.53,392.91 530.97,392.94 531.41,392.96 531.85,392.99 532.29,393.02 532.73,393.05 533.17,393.07 533.61,393.10 534.05,393.12 534.49,393.15 534.93,393.17 535.37,393.20 535.81,393.22 536.25,393.24 536.69,393.27 537.13,393.29 537.57,393.31 538.01,393.33 538.45,393.35 538.89,393.37 539.33,393.39 539.77,393.41 540.20,393.43 540.64,393.45 541.08,393.47 541.52,393.49 541.96,393.51 542.40,393.53 542.84,393.54 543.28,393.56 543.72,393.58 544.16,393.59 544.60,393.61 545.04,393.62 545.48,393.64 545.92,393.66 546.36,393.67 546.80,393.68 547.24,393.70 547.68,393.71 548.12,393.73 548.56,393.74 549.00,393.75 549.44,393.77 549.88,393.78 550.32,393.79 550.76,393.80 551.20,393.82 551.64,393.83 552.08,393.84 552.52,393.85 552.96,393.86 553.40,393.87 553.84,393.88 554.28,393.90 554.72,393.91 555.16,393.92 555.60,393.93 556.04,393.94 556.48,393.95 556.92,393.96 557.36,393.96 557.80,393.97 558.24,393.98 558.68,393.99 559.12,394.00 559.56,394.01 560.00,394.02 560.44,394.02 560.88,394.03 561.32,394.04 561.76,394.05 562.19,394.06 562.63,394.06 563.07,394.07 563.51,394.08 563.95,394.08 564.39,394.09 564.83,394.10 565.27,394.10 565.71,394.11 566.15,394.12 566.59,394.12 567.03,394.13 567.47,394.14 567.91,394.14 568.35,394.15 568.79,394.15 569.23,394.16 569.67,394.16 570.11,394.17 570.55,394.17 570.99,394.18 571.43,394.18 571.87,394.19 572.31,394.19 572.75,394.20" fill="none" stroke="#1c1c86" stroke-width="1.2" stroke-linejoin="round" />
<polyline points="441.25,361.22 441.69,361.25 442.13,361.33 442.57,361.46 443.01,361.63 443.45,361.84 443.89,362.08 444.33,362.35 444.77,362.64 445.21,362.96 445.65,363.29 446.09,363.64 446.53,364.01 446.97,364.38 447.41,364.77 447.85,365.17 448.29,365.57 448.73,365.98 449.17,366.39 449.61,366.81 450.05,367.23 450.49,367.65 450.93,368.07 451.37,368.49 451.81,368.91 452.24,369.32 452.68,369.74 453.12,370.15 453.56,370.56 454.00,370.96 454.44,371.37 454.88,371.76 455.32,372.16 455.76,372.55 456.20,372.93 456.64,373.31 457.08,373.68 457.52,374.05 457.96,374.42 458.40,374.78 458.84,375.13 459.28,375.48 459.72,375.83 460.16,376.16 460.60,376.50 461.04,376.83 461.48,377.15 461.92,377.47 462.36,377.78 462.80,378.08 463.24,378.39 463.68,378.68 464.12,378.97 464.56,379.26 465.00,379.54 465.44,379.82 465.88,380.09 466.32,380.36 466.76,380.62 467.20,380.88 467.64,381.13 468.08,381.38 468.52,381.62 468.96,381.86 469.40,382.10 469.84,382.33 470.28,382.56 470.72,382.78 471.16,383.00 471.60,383.21 472.04,383.42 472.48,383.63 472.92,383.83 473.36,384.03 473.80,384.23 474.23,384.42 474.67,384.61 475.11,384.79 475.55,384.97 475.99,385.15 476.43,385.32 476.87,385.50 477.31,385.66 477.75,385.83 478.19,385.99 478.63,386.15 479.07,386.31 479.51,386.46 479.95,386.61 480.39,386.76 480.83,386.90 481.27,387.04 481.71,387.18 482.15,387.32 482.59,387.45 483.03,387.58 483.47,387.71 483.91,387.84 484.35,387.96 484.79,388.09 485.23,388.21 485.67,388.32 486.11,388.44 486.55,388.55 486.99,388.66 487.43,388.77 487.87,388.88 488.31,388.98 488.75,389.09 489.19,389.19 489.63,389.29 490.07,389.38 490.51,389.48 490.95,389.57 491.39,389.66 491.83,389.75 492.27,389.84 492.71,389.93 493.15,390.01 493.59,390.10 494.03,390.18 494.47,390.26 494.91,390.34 495.35,390.42 495.79,390.49 496.22,390.57 496.66,390.64 497.10,390.71 497.54,390.78 497.98,390.85 498.42,390.92 498.86,390.98 499.30,391.05 499.74,391.11 500.18,391.18 500.62,391.24 501.06,391.30 501.50,391.36 501.94,391.42 502.38,391.47 502.82,391.53 503.26,391.58 503.70,391.64 504.14,391.69 504.58,391.74 505.02,391.79 505.46,391.84 505.90,391.89 506.34,391.94 506.78,391.99 507.22,392.03 507.66,392.08 508.10,392.12 508.54,392.17 508.98,392.21 509.42,392.25 509.86,392.29 510.30,392.33 510.74,392.37 511.18,392.41 511.62,392.45 512.06,392.49 512.50,392.53 512.94,392.56 513.38,392.60 513.82,392.63 514.26,392.67 514.70,392.70 515.14,392.73 515.58,392.77 516.02,392.80 516.46,392.83 516.90,392.86 517.34,392.89 517.78,392.92 518.21,392.95 518.65,392.98 519.09,393.00 519.53,393.03 519.97,393.06 520.41,393.08 520.85,393.11 521.29,393.13 521.73,393.16 522.17,393.18 522.61,393.21 523.05,393.23 523.49,393.25 523.93,393.28 524.37,393.30 524.81,393.32 525.25,393.34 525.69,393.36 526.13,393.38 526.57,393.40 527.01,393.42 527.45,393.44 527.89,393.46 528.33,393.48 528.77,393.50 529.21,393.51 529.65,393.53 530.09,393.55 530.53,393.57 530.97,393.58 531.41,393.60 531.85,393.62 532.29,393.63 532.73,393.65 533.17,393.66 533.61,393.68 534.05,393.69 534.49,393.70 534.93,393.72 535.37,393.73 535.81,393.75 536.25,393.76 536.69,393.77 537.13,393.78 537.57,393.80 538.01,393.81 538.45,393.82 538.89,393.83 539.33,393.85 539.77,393.86 540.20,393.87 540.64,393.88 541.08,393.89 541.52,393.90 541.96,393.91 542.40,393.92 542.84,393.93 543.28,393.94 543.72,393.95 544.16,393.96 544.60,393.97 545.04,393.98 545.48,393.99 545.92,393.99 546.36,394.00 546.80,394.01 547.24,394.02 547.68,394.03 548.12,394.04 548.56,394.04 549.00,394.05 549.44,394.06 549.88,394.07 550.32,394.07 550.76,394.08 551.20,394.09 551.64,394.09 552.08,394.10 552.52,394.11 552.96,394.11 553.40,394.12 553.84,394.13 554.28,394.13 554.72,394.14 555.16,394.14 555.60,394.15 556.04,394.16 556.48,394.16 556.92,394.17 557.36,394.17 557.80,394.18 558.24,394.18 558.68,394.19 559.12,394.19 559.56,394.20 560.00,394.20 560.44,394.21 560.88,394.21 561.32,394.21 561.76,394.22 562.19,394.22 562.63,394.23 563.07,394.23 563.51,394.24 563.95,394.24 564.39,394.24 564.83,394.25 565.27,394.25 565.71,394.26 566.15,394.26 566.59,394.26 567.03,394.27 567.47,394.27 567.91,394.27 568.35,394.28 568.79,394.28 569.23,394.28 569.67,394.29 570.11,394.29 570.55,394.29 570.99,394.29 571.43,394.30 571.87,394.30 572.31,394.30 572.75,394.31" fill="none" stroke="#1c1c86" stroke-width="1.2" stroke-linejoin="round" />
<polyline points="441.25,388.77 441.69,388.58 442.13,388.42 442.57,388.28 443.01,388.17 443.45,388.09 443.89,388.02 444.33,387.97 444.77,387.94 445.21,387.92 445.65,387.91 446.09,387.92 446.53,387.93 446.97,387.96 447.41,387.99 447.85,388.03 448.29,388.08 448.73,388.13 449.17,388.19 449.61,388.25 450.05,388.32 450.49,388.38 450.93,388.46 451.37,388.53 451.81,388.61 452.24,388.68 452.68,388.76 453.12,388.84 453.56,388.93 454.00,389.01 454.44,389.09 454.88,389.17 455.32,389.25 455.76,389.34 456.20,389.42 456.64,389.50 457.08,389.58 457.52,389.66 457.96,389.74 458.40,389.82 458.84,389.90 459.28,389.98 459.72,390.06 460.16,390.14 460.60,390.21 461.04,390.29 461.48,390.36 461.92,390.43 462.36,390.50 462.80,390.58 463.24,390.65 463.68,390.71 464.12,390.78 464.56,390.85 465.00,390.91 465.44,390.98 465.88,391.04 466.32,391.10 466.76,391.17 467.20,391.23 467.64,391.29 468.08,391.34 468.52,391.40 468.96,391.46 469.40,391.51 469.84,391.57 470.28,391.62 470.72,391.67 471.16,391.73 471.60,391.78 472.04,391.83 472.48,391.87 472.92,391.92 473.36,391.97 473.80,392.02 474.23,392.06 474.67,392.11 475.11,392.15 475.55,392.19 475.99,392.24 476.43,392.28 476.87,392.32 477.31,392.36 477.75,392.40 478.19,392.44 478.63,392.47 479.07,392.51 479.51,392.55 479.95,392.58 480.39,392.62 480.83,392.65 481.27,392.69 481.71,392.72 482.15,392.75 482.59,392.78 483.03,392.81 483.47,392.84 483.91,392.88 484.35,392.90 484.79,392.93 485.23,392.96 485.67,392.99 486.11,393.02 486.55,393.04 486.99,393.07 487.43,393.10 487.87,393.12 488.31,393.15 488.75,393.17 489.19,393.20 489.63,393.22 490.07,393.24 490.51,393.26 490.95,393.29 491.39,393.31 491.83,393.33 492.27,393.35 492.71,393.37 493.15,393.39 493.59,393.41 494.03,393.43 494.47,393.45 494.91,393.47 495.35,393.49 495.79,393.51 496.22,393.52 496.66,393.54 497.10,393.56 497.54,393.57 497.98,393.59 498.42,393.61 498.86,393.62 499.30,393.64 499.74,393.65 500.18,393.67 500.62,393.68 501.06,393.70 501.50,393.71 501.94,393.73 502.38,393.74 502.82,393.75 503.26,393.77 503.70,393.78 504.14,393.79 504.58,393.80 505.02,393.82 505.46,393.83 505.90,393.84 506.34,393.85 506.78,393.86 507.22,393.87 507.66,393.88 508.10,393.89 508.54,393.91 508.98,393.92 509.42,393.93 509.86,393.94 510.30,393.94 510.74,393.95 511.18,393.96 511.62,393.97 512.06,393.98 512.50,393.99 512.94,394.00 513.38,394.01 513.82,394.02 514.26,394.02 514.70,394.03 515.14,394.04 515.58,394.05 516.02,394.05 516.46,394.06 516.90,394.07 517.34,394.08 517.78,394.08 518.21,394.09 518.65,394.10 519.09,394.10 519.53,394.11 519.97,394.12 520.41,394.12 520.85,394.13 521.29,394.14 521.73,394.14 522.17,394.15 522.61,394.15 523.05,394.16 523.49,394.16 523.93,394.17 524.37,394.17 524.81,394.18 525.25,394.18 525.69,394.19 526.13,394.19 526.57,394.20 527.01,394.20 527.45,394.21 527.89,394.21 528.33,394.22 528.77,394.22 529.21,394.23 529.65,394.23 530.09,394.23 530.53,394.24 530.97,394.24 531.41,394.25 531.85,394.25 532.29,394.25 532.73,394.26 533.17,394.26 533.61,394.26 534.05,394.27 534.49,394.27 534.93,394.27 535.37,394.28 535.81,394.28 536.25,394.28 536.69,394.29 537.13,394.29 537.57,394.29 538.01,394.30 538.45,394.30 538.89,394.30 539.33,394.30 539.77,394.31 540.20,394.31 540.64,394.31 541.08,394.31 541.52,394.32 541.96,394.32 542.40,394.32 542.84,394.32 543.28,394.33 543.72,394.33 544.16,394.33 544.60,394.33 545.04,394.34 545.48,394.34 545.92,394.34 546.36,394.34 546.80,394.34 547.24,394.35 547.68,394.35 548.12,394.35 548.56,394.35 549.00,394.35 549.44,394.36 549.88,394.36 550.32,394.36 550.76,394.36 551.20,394.36 551.64,394.36 552.08,394.37 552.52,394.37 552.96,394.37 553.40,394.37 553.84,394.37 554.28,394.37 554.72,394.37 555.16,394.38 555.60,394.38 556.04,394.38 556.48,394.38 556.92,394.38 557.36,394.38 557.80,394.38 558.24,394.38 558.68,394.39 559.12,394.39 559.56,394.39 560.00,394.39 560.44,394.39 560.88,394.39 561.32,394.39 561.76,394.39 562.19,394.39 562.63,394.40 563.07,394.40 563.51,394.40 563.95,394.40 564.39,394.40 564.83,394.40 565.27,394.40 565.71,394.40 566.15,394.40 566.59,394.40 567.03,394.40 567.47,394.41 567.91,394.41 568.35,394.41 568.79,394.41 569.23,394.41 569.67,394.41 570.11,394.41 570.55,394.41 570.99,394.41 571.43,394.41 571.87,394.41 572.31,394.41 572.75,394.41" fill="none" stroke="#1c1c86" stroke-width="1.2" stroke-linejoin="round" />
<polyline points="441.25,416.88 441.69,416.02 442.13,415.22 442.57,414.47 443.01,413.76 443.45,413.10 443.89,412.47 444.33,411.88 444.77,411.32 445.21,410.80 445.65,410.30 446.09,409.83 446.53,409.38 446.97,408.96 447.41,408.56 447.85,408.17 448.29,407.81 448.73,407.45 449.17,407.12 449.61,406.80 450.05,406.49 450.49,406.20 450.93,405.91 451.37,405.64 451.81,405.38 452.24,405.13 452.68,404.88 453.12,404.65 453.56,404.42 454.00,404.20 454.44,403.99 454.88,403.78 455.32,403.58 455.76,403.39 456.20,403.20 456.64,403.01 457.08,402.84 457.52,402.66 457.96,402.49 458.40,402.33 458.84,402.17 459.28,402.01 459.72,401.86 460.16,401.71 460.60,401.57 461.04,401.43 461.48,401.29 461.92,401.15 462.36,401.02 462.80,400.89 463.24,400.77 463.68,400.64 464.12,400.52 464.56,400.41 465.00,400.29 465.44,400.18 465.88,400.07 466.32,399.96 466.76,399.85 467.20,399.75 467.64,399.65 468.08,399.55 468.52,399.45 468.96,399.36 469.40,399.26 469.84,399.17 470.28,399.08 470.72,398.99 471.16,398.91 471.60,398.82 472.04,398.74 472.48,398.66 472.92,398.58 473.36,398.50 473.80,398.42 474.23,398.35 474.67,398.27 475.11,398.20 475.55,398.13 475.99,398.06 476.43,397.99 476.87,397.92 477.31,397.86 477.75,397.79 478.19,397.73 478.63,397.67 479.07,397.61 479.51,397.55 479.95,397.49 480.39,397.43 480.83,397.38 481.27,397.32 481.71,397.27 482.15,397.21 482.59,397.16 483.03,397.11 483.47,397.06 483.91,397.01 484.35,396.96 484.79,396.92 485.23,396.87 485.67,396.82 486.11,396.78 486.55,396.73 486.99,396.69 487.43,396.65 487.87,396.61 488.31,396.57 488.75,396.53 489.19,396.49 489.63,396.45 490.07,396.41 490.51,396.38 490.95,396.34 491.39,396.30 491.83,396.27 492.27,396.23 492.71,396.20 493.15,396.17 493.59,396.14 494.03,396.10 494.47,396.07 494.91,396.04 495.35,396.01 495.79,395.98 496.22,395.95 496.66,395.92 497.10,395.90 497.54,395.87 497.98,395.84 498.42,395.82 498.86,395.79 499.30,395.77 499.74,395.74 500.18,395.72 500.62,395.69 501.06,395.67 501.50,395.65 501.94,395.62 502.38,395.60 502.82,395.58 503.26,395.56 503.70,395.54 504.14,395.52 504.58,395.50 505.02,395.48 505.46,395.46 505.90,395.44 506.34,395.42 506.78,395.40 507.22,395.38 507.66,395.37 508.10,395.35 508.54,395.33 508.98,395.32 509.42,395.30 509.86,395.28 510.30,395.27 510.74,395.25 511.18,395.24 511.62,395.22 512.06,395.21 512.50,395.19 512.94,395.18 513.38,395.17 513.82,395.15 514.26,395.14 514.70,395.13 515.14,395.11 515.58,395.10 516.02,395.09 516.46,395.08 516.90,395.06 517.34,395.05 517.78,395.04 518.21,395.03 518.65,395.02 519.09,395.01 519.53,395.00 519.97,394.99 520.41,394.98 520.85,394.97 521.29,394.96 521.73,394.95 522.17,394.94 522.61,394.93 523.05,394.92 523.49,394.91 523.93,394.90 524.37,394.89 524.81,394.89 525.25,394.88 525.69,394.87 526.13,394.86 526.57,394.85 527.01,394.85 527.45,394.84 527.89,394.83 528.33,394.82 528.77,394.82 529.21,394.81 529.65,394.80 530.09,394.80 530.53,394.79 530.97,394.78 531.41,394.78 531.85,394.77 532.29,394.76 532.73,394.76 533.17,394.75 533.61,394.75 534.05,394.74 534.49,394.74 534.93,394.73 535.37,394.73 535.81,394.72 536.25,394.72 536.69,394.71 537.13,394.71 537.57,394.70 538.01,394.70 538.45,394.69 538.89,394.69 539.33,394.68 539.77,394.68 540.20,394.67 540.64,394.67 541.08,394.66 541.52,394.66 541.96,394.66 542.40,394.65 542.84,394.65 543.28,394.65 543.72,394.64 544.16,394.64 544.60,394.63 545.04,394.63 545.48,394.63 545.92,394.62 546.36,394.62 546.80,394.62 547.24,394.61 547.68,394.61 548.12,394.61 548.56,394.60 549.00,394.60 549.44,394.60 549.88,394.60 550.32,394.59 550.76,394.59 551.20,394.59 551.64,394.59 552.08,394.58 552.52,394.58 552.96,394.58 553.40,394.58 553.84,394.57 554.28,394.57 554.72,394.57 555.16,394.57 555.60,394.56 556.04,394.56 556.48,394.56 556.92,394.56 557.36,394.56 557.80,394.55 558.24,394.55 558.68,394.55 559.12,394.55 559.56,394.55 560.00,394.54 560.44,394.54 560.88,394.54 561.32,394.54 561.76,394.54 562.19,394.54 562.63,394.53 563.07,394.53 563.51,394.53 563.95,394.53 564.39,394.53 564.83,394.53 565.27,394.52 565.71,394.52 566.15,394.52 566.59,394.52 567.03,394.52 567.47,394.52 567.91,394.52 568.35,394.51 568.79,394.51 569.23,394.51 569.67,394.51 570.11,394.51 570.55,394.51 570.99,394.51 571.43,394.51 571.87,394.51 572.31,394.50 572.75,394.50" fill="none" stroke="#1c1c86" stroke-width="1.2" stroke-linejoin="round" />
<polyline points="441.25,444.72 441.69,443.33 442.13,442.01 442.57,440.76 443.01,439.55 443.45,438.40 443.89,437.30 444.33,436.25 444.77,435.23 445.21,434.26 445.65,433.32 446.09,432.41 446.53,431.54 446.97,430.70 447.41,429.89 447.85,429.10 448.29,428.34 448.73,427.60 449.17,426.89 449.61,426.20 450.05,425.52 450.49,424.87 450.93,424.24 451.37,423.62 451.81,423.02 452.24,422.43 452.68,421.86 453.12,421.31 453.56,420.77 454.00,420.24 454.44,419.73 454.88,419.22 455.32,418.73 455.76,418.25 456.20,417.78 456.64,417.33 457.08,416.88 457.52,416.44 457.96,416.01 458.40,415.59 458.84,415.18 459.28,414.78 459.72,414.39 460.16,414.01 460.60,413.63 461.04,413.26 461.48,412.90 461.92,412.55 462.36,412.20 462.80,411.86 463.24,411.53 463.68,411.20 464.12,410.89 464.56,410.57 465.00,410.27 465.44,409.96 465.88,409.67 466.32,409.38 466.76,409.10 467.20,408.82 467.64,408.55 468.08,408.28 468.52,408.02 468.96,407.76 469.40,407.51 469.84,407.26 470.28,407.02 470.72,406.78 471.16,406.55 471.60,406.32 472.04,406.10 472.48,405.88 472.92,405.66 473.36,405.45 473.80,405.24 474.23,405.04 474.67,404.84 475.11,404.64 475.55,404.45 475.99,404.26 476.43,404.08 476.87,403.90 477.31,403.72 477.75,403.54 478.19,403.37 478.63,403.20 479.07,403.04 479.51,402.88 479.95,402.72 480.39,402.56 480.83,402.41 481.27,402.26 481.71,402.11 482.15,401.97 482.59,401.83 483.03,401.69 483.47,401.55 483.91,401.42 484.35,401.29 484.79,401.16 485.23,401.03 485.67,400.91 486.11,400.79 486.55,400.67 486.99,400.55 487.43,400.43 487.87,400.32 488.31,400.21 488.75,400.10 489.19,400.00 489.63,399.89 490.07,399.79 490.51,399.69 490.95,399.59 491.39,399.49 491.83,399.40 492.27,399.30 492.71,399.21 493.15,399.12 493.59,399.04 494.03,398.95 494.47,398.86 494.91,398.78 495.35,398.70 495.79,398.62 496.22,398.54 496.66,398.46 497.10,398.39 497.54,398.31 497.98,398.24 498.42,398.17 498.86,398.10 499.30,398.03 499.74,397.96 500.18,397.90 500.62,397.83 501.06,397.77 501.50,397.71 501.94,397.65 502.38,397.59 502.82,397.53 503.26,397.47 503.70,397.41 504.14,397.36 504.58,397.30 505.02,397.25 505.46,397.19 505.90,397.14 506.34,397.09 506.78,397.04 507.22,396.99 507.66,396.95 508.10,396.90 508.54,396.85 508.98,396.81 509.42,396.76 509.86,396.72 510.30,396.68 510.74,396.63 511.18,396.59 511.62,396.55 512.06,396.51 512.50,396.47 512.94,396.44 513.38,396.40 513.82,396.36 514.26,396.33 514.70,396.29 515.14,396.26 515.58,396.22 516.02,396.19 516.46,396.16 516.90,396.12 517.34,396.09 517.78,396.06 518.21,396.03 518.65,396.00 519.09,395.97 519.53,395.94 519.97,395.91 520.41,395.89 520.85,395.86 521.29,395.83 521.73,395.81 522.17,395.78 522.61,395.76 523.05,395.73 523.49,395.71 523.93,395.68 524.37,395.66 524.81,395.64 525.25,395.62 525.69,395.59 526.13,395.57 526.57,395.55 527.01,395.53 527.45,395.51 527.89,395.49 528.33,395.47 528.77,395.45 529.21,395.43 529.65,395.41 530.09,395.40 530.53,395.38 530.97,395.36 531.41,395.34 531.85,395.33 532.29,395.31 532.73,395.29 533.17,395.28 533.61,395.26 534.05,395.25 534.49,395.23 534.93,395.22 535.37,395.20 535.81,395.19 536.25,395.17 536.69,395.16 537.13,395.15 537.57,395.13 538.01,395.12 538.45,395.11 538.89,395.10 539.33,395.08 539.77,395.07 540.20,395.06 540.64,395.05 541.08,395.04 541.52,395.03 541.96,395.02 542.40,395.00 542.84,394.99 543.28,394.98 543.72,394.97 544.16,394.96 544.60,394.95 545.04,394.94 545.48,394.94 545.92,394.93 546.36,394.92 546.80,394.91 547.24,394.90 547.68,394.89 548.12,394.88 548.56,394.87 549.00,394.87 549.44,394.86 549.88,394.85 550.32,394.84 550.76,394.84 551.20,394.83 551.64,394.82 552.08,394.81 552.52,394.81 552.96,394.80 553.40,394.79 553.84,394.79 554.28,394.78 554.72,394.77 555.16,394.77 555.60,394.76 556.04,394.76 556.48,394.75 556.92,394.75 557.36,394.74 557.80,394.73 558.24,394.73 558.68,394.72 559.12,394.72 559.56,394.71 560.00,394.71 560.44,394.70 560.88,394.70 561.32,394.69 561.76,394.69 562.19,394.68 562.63,394.68 563.07,394.68 563.51,394.67 563.95,394.67 564.39,394.66 564.83,394.66 565.27,394.66 565.71,394.65 566.15,394.65 566.59,394.64 567.03,394.64 567.47,394.64 567.91,394.63 568.35,394.63 568.79,394.63 569.23,394.62 569.67,394.62 570.11,394.62 570.55,394.61 570.99,394.61 571.43,394.61 571.87,394.60 572.31,394.60 572.75,394.60" fill="none" stroke="#1c1c86" stroke-width="1.2" stroke-linejoin="round" />
<polyline points="441.25,473.97 441.69,472.03 442.13,470.18 442.57,468.39 443.01,466.67 443.45,465.01 443.89,463.40 444.33,461.85 444.77,460.36 445.21,458.91 445.65,457.51 446.09,456.15 446.53,454.83 446.97,453.55 447.41,452.31 447.85,451.10 448.29,449.92 448.73,448.78 449.17,447.67 449.61,446.58 450.05,445.53 450.49,444.50 450.93,443.49 451.37,442.51 451.81,441.56 452.24,440.62 452.68,439.71 453.12,438.82 453.56,437.95 454.00,437.10 454.44,436.27 454.88,435.45 455.32,434.66 455.76,433.88 456.20,433.11 456.64,432.37 457.08,431.64 457.52,430.92 457.96,430.22 458.40,429.54 458.84,428.86 459.28,428.20 459.72,427.56 460.16,426.93 460.60,426.31 461.04,425.70 461.48,425.11 461.92,424.52 462.36,423.95 462.80,423.39 463.24,422.84 463.68,422.30 464.12,421.77 464.56,421.26 465.00,420.75 465.44,420.25 465.88,419.76 466.32,419.28 466.76,418.81 467.20,418.35 467.64,417.90 468.08,417.46 468.52,417.02 468.96,416.60 469.40,416.18 469.84,415.77 470.28,415.37 470.72,414.97 471.16,414.58 471.60,414.21 472.04,413.83 472.48,413.47 472.92,413.11 473.36,412.76 473.80,412.41 474.23,412.07 474.67,411.74 475.11,411.41 475.55,411.10 475.99,410.78 476.43,410.47 476.87,410.17 477.31,409.88 477.75,409.58 478.19,409.30 478.63,409.02 479.07,408.75 479.51,408.48 479.95,408.21 480.39,407.95 480.83,407.70 481.27,407.45 481.71,407.20 482.15,406.96 482.59,406.73 483.03,406.50 483.47,406.27 483.91,406.05 484.35,405.83 484.79,405.62 485.23,405.40 485.67,405.20 486.11,405.00 486.55,404.80 486.99,404.60 487.43,404.41 487.87,404.22 488.31,404.04 488.75,403.86 489.19,403.68 489.63,403.51 490.07,403.34 490.51,403.17 490.95,403.01 491.39,402.85 491.83,402.69 492.27,402.53 492.71,402.38 493.15,402.23 493.59,402.08 494.03,401.94 494.47,401.80 494.91,401.66 495.35,401.53 495.79,401.39 496.22,401.26 496.66,401.13 497.10,401.01 497.54,400.88 497.98,400.76 498.42,400.64 498.86,400.53 499.30,400.41 499.74,400.30 500.18,400.19 500.62,400.08 501.06,399.98 501.50,399.87 501.94,399.77 502.38,399.67 502.82,399.57 503.26,399.47 503.70,399.38 504.14,399.29 504.58,399.20 505.02,399.11 505.46,399.02 505.90,398.93 506.34,398.85 506.78,398.77 507.22,398.68 507.66,398.60 508.10,398.53 508.54,398.45 508.98,398.37 509.42,398.30 509.86,398.23 510.30,398.16 510.74,398.09 511.18,398.02 511.62,397.95 512.06,397.89 512.50,397.82 512.94,397.76 513.38,397.69 513.82,397.63 514.26,397.57 514.70,397.52 515.14,397.46 515.58,397.40 516.02,397.35 516.46,397.29 516.90,397.24 517.34,397.18 517.78,397.13 518.21,397.08 518.65,397.03 519.09,396.98 519.53,396.94 519.97,396.89 520.41,396.84 520.85,396.80 521.29,396.75 521.73,396.71 522.17,396.67 522.61,396.63 523.05,396.59 523.49,396.55 523.93,396.51 524.37,396.47 524.81,396.43 525.25,396.39 525.69,396.36 526.13,396.32 526.57,396.28 527.01,396.25 527.45,396.22 527.89,396.18 528.33,396.15 528.77,396.12 529.21,396.09 529.65,396.06 530.09,396.03 530.53,396.00 530.97,395.97 531.41,395.94 531.85,395.91 532.29,395.88 532.73,395.86 533.17,395.83 533.61,395.80 534.05,395.78 534.49,395.75 534.93,395.73 535.37,395.70 535.81,395.68 536.25,395.66 536.69,395.63 537.13,395.61 537.57,395.59 538.01,395.57 538.45,395.55 538.89,395.53 539.33,395.51 539.77,395.49 540.20,395.47 540.64,395.45 541.08,395.43 541.52,395.41 541.96,395.39 542.40,395.37 542.84,395.36 543.28,395.34 543.72,395.32 544.16,395.31 544.60,395.29 545.04,395.27 545.48,395.26 545.92,395.24 546.36,395.23 546.80,395.21 547.24,395.20 547.68,395.19 548.12,395.17 548.56,395.16 549.00,395.14 549.44,395.13 549.88,395.12 550.32,395.11 550.76,395.09 551.20,395.08 551.64,395.07 552.08,395.06 552.52,395.05 552.96,395.04 553.40,395.02 553.84,395.01 554.28,395.00 554.72,394.99 555.16,394.98 555.60,394.97 556.04,394.96 556.48,394.95 556.92,394.94 557.36,394.93 557.80,394.92 558.24,394.92 558.68,394.91 559.12,394.90 559.56,394.89 560.00,394.88 560.44,394.87 560.88,394.87 561.32,394.86 561.76,394.85 562.19,394.84 562.63,394.83 563.07,394.83 563.51,394.82 563.95,394.81 564.39,394.81 564.83,394.80 565.27,394.79 565.71,394.79 566.15,394.78 566.59,394.77 567.03,394.77 567.47,394.76 567.91,394.76 568.35,394.75 568.79,394.74 569.23,394.74 569.67,394.73 570.11,394.73 570.55,394.72 570.99,394.72 571.43,394.71 571.87,394.71 572.31,394.70 572.75,394.70" fill="none" stroke="#1c1c86" stroke-width="1.2" stroke-linejoin="round" />
<polyline points="441.25,501.80 441.69,499.34 442.13,496.97 442.57,494.68 443.01,492.46 443.45,490.31 443.89,488.24 444.33,486.22 444.77,484.26 445.21,482.37 445.65,480.52 446.09,478.73 446.53,476.99 446.97,475.29 447.41,473.64 447.85,472.03 448.29,470.46 448.73,468.93 449.17,467.44 449.61,465.98 450.05,464.56 450.49,463.17 450.93,461.82 451.37,460.49 451.81,459.20 452.24,457.93 452.68,456.69 453.12,455.48 453.56,454.30 454.00,453.14 454.44,452.01 454.88,450.89 455.32,449.81 455.76,448.74 456.20,447.70 456.64,446.68 457.08,445.68 457.52,444.70 457.96,443.74 458.40,442.80 458.84,441.88 459.28,440.97 459.72,440.09 460.16,439.22 460.60,438.37 461.04,437.54 461.48,436.72 461.92,435.92 462.36,435.13 462.80,434.36 463.24,433.60 463.68,432.86 464.12,432.14 464.56,431.42 465.00,430.72 465.44,430.04 465.88,429.37 466.32,428.71 466.76,428.06 467.20,427.42 467.64,426.80 468.08,426.19 468.52,425.59 468.96,425.00 469.40,424.43 469.84,423.86 470.28,423.31 470.72,422.76 471.16,422.23 471.60,421.71 472.04,421.19 472.48,420.69 472.92,420.19 473.36,419.71 473.80,419.23 474.23,418.77 474.67,418.31 475.11,417.86 475.55,417.42 475.99,416.98 476.43,416.56 476.87,416.14 477.31,415.73 477.75,415.33 478.19,414.94 478.63,414.55 479.07,414.18 479.51,413.80 479.95,413.44 480.39,413.08 480.83,412.73 481.27,412.39 481.71,412.05 482.15,411.72 482.59,411.39 483.03,411.07 483.47,410.76 483.91,410.45 484.35,410.15 484.79,409.86 485.23,409.57 485.67,409.28 486.11,409.00 486.55,408.73 486.99,408.46 487.43,408.20 487.87,407.94 488.31,407.68 488.75,407.43 489.19,407.19 489.63,406.95 490.07,406.71 490.51,406.48 490.95,406.26 491.39,406.03 491.83,405.82 492.27,405.60 492.71,405.39 493.15,405.19 493.59,404.98 494.03,404.79 494.47,404.59 494.91,404.40 495.35,404.21 495.79,404.03 496.22,403.85 496.66,403.67 497.10,403.50 497.54,403.33 497.98,403.16 498.42,403.00 498.86,402.84 499.30,402.68 499.74,402.52 500.18,402.37 500.62,402.22 501.06,402.08 501.50,401.93 501.94,401.79 502.38,401.65 502.82,401.52 503.26,401.38 503.70,401.25 504.14,401.13 504.58,401.00 505.02,400.88 505.46,400.76 505.90,400.64 506.34,400.52 506.78,400.41 507.22,400.29 507.66,400.18 508.10,400.08 508.54,399.97 508.98,399.87 509.42,399.76 509.86,399.66 510.30,399.57 510.74,399.47 511.18,399.37 511.62,399.28 512.06,399.19 512.50,399.10 512.94,399.01 513.38,398.93 513.82,398.84 514.26,398.76 514.70,398.68 515.14,398.60 515.58,398.52 516.02,398.45 516.46,398.37 516.90,398.30 517.34,398.22 517.78,398.15 518.21,398.08 518.65,398.01 519.09,397.95 519.53,397.88 519.97,397.82 520.41,397.75 520.85,397.69 521.29,397.63 521.73,397.57 522.17,397.51 522.61,397.45 523.05,397.40 523.49,397.34 523.93,397.29 524.37,397.23 524.81,397.18 525.25,397.13 525.69,397.08 526.13,397.03 526.57,396.98 527.01,396.93 527.45,396.89 527.89,396.84 528.33,396.80 528.77,396.75 529.21,396.71 529.65,396.67 530.09,396.62 530.53,396.58 530.97,396.54 531.41,396.50 531.85,396.46 532.29,396.43 532.73,396.39 533.17,396.35 533.61,396.32 534.05,396.28 534.49,396.25 534.93,396.21 535.37,396.18 535.81,396.15 536.25,396.12 536.69,396.08 537.13,396.05 537.57,396.02 538.01,395.99 538.45,395.96 538.89,395.94 539.33,395.91 539.77,395.88 540.20,395.85 540.64,395.83 541.08,395.80 541.52,395.78 541.96,395.75 542.40,395.73 542.84,395.70 543.28,395.68 543.72,395.66 544.16,395.63 544.60,395.61 545.04,395.59 545.48,395.57 545.92,395.55 546.36,395.53 546.80,395.51 547.24,395.49 547.68,395.47 548.12,395.45 548.56,395.43 549.00,395.41 549.44,395.39 549.88,395.37 550.32,395.36 550.76,395.34 551.20,395.32 551.64,395.31 552.08,395.29 552.52,395.27 552.96,395.26 553.40,395.24 553.84,395.23 554.28,395.21 554.72,395.20 555.16,395.18 555.60,395.17 556.04,395.16 556.48,395.14 556.92,395.13 557.36,395.12 557.80,395.11 558.24,395.09 558.68,395.08 559.12,395.07 559.56,395.06 560.00,395.05 560.44,395.03 560.88,395.02 561.32,395.01 561.76,395.00 562.19,394.99 562.63,394.98 563.07,394.97 563.51,394.96 563.95,394.95 564.39,394.94 564.83,394.93 565.27,394.92 565.71,394.91 566.15,394.91 566.59,394.90 567.03,394.89 567.47,394.88 567.91,394.87 568.35,394.86 568.79,394.86 569.23,394.85 569.67,394.84 570.11,394.83 570.55,394.83 570.99,394.82 571.43,394.81 571.87,394.81 572.31,394.80 572.75,394.79" fill="none" stroke="#1c1c86" stroke-width="1.2" stroke-linejoin="round" />
<line x1="441.25" y1="197.50" x2="441.25" y2="593.00" stroke="#9a9a9a" stroke-width="1.6" />
<line x1="441.25" y1="395.30" x2="572.75" y2="395.30" stroke="#1a1a1a" stroke-width="1.3" />
<line x1="441.25" y1="253.30" x2="445.05" y2="253.30" stroke="#1a1a1a" stroke-width="1.0" />
<line x1="441.25" y1="324.30" x2="445.05" y2="324.30" stroke="#1a1a1a" stroke-width="1.0" />
<line x1="441.25" y1="466.30" x2="445.05" y2="466.30" stroke="#1a1a1a" stroke-width="1.0" />
<line x1="441.25" y1="537.30" x2="445.05" y2="537.30" stroke="#1a1a1a" stroke-width="1.0" />
<line x1="572.75" y1="395.30" x2="572.75" y2="391.60" stroke="#1a1a1a" stroke-width="1.0" />
<text x="436.25" y="258.60" font-size="13.8" text-anchor="end" fill="#111" >50</text>
<text x="436.25" y="329.60" font-size="13.8" text-anchor="end" fill="#111" >25</text>
<text x="436.25" y="400.60" font-size="13.8" text-anchor="end" fill="#111" >0</text>
<text x="436.25" y="471.60" font-size="13.8" text-anchor="end" fill="#111" >&#8722;25</text>
<text x="436.25" y="542.60" font-size="13.8" text-anchor="end" fill="#111" >&#8722;50</text>
<text x="441.65" y="409.70" font-size="13.8" text-anchor="middle" fill="#111" >0</text>
<text x="572.75" y="409.70" font-size="13.8" text-anchor="middle" fill="#111" >500</text>
<text x="450.80" y="198" font-size="13.8" fill="#111"><tspan font-style="italic">y</tspan> <tspan dx="-0.7">(</tspan><tspan font-style="italic" dx="0.6">t</tspan><tspan dx="1.0">)</tspan><tspan dx="3.2">(mV)</tspan></text>
<text x="540.70" y="378.5" font-size="13.8" fill="#111"><tspan font-style="italic">t</tspan> (<tspan font-style="italic">&#956;</tspan>s)</text>
<circle cx="645.98" cy="186.00" r="4.5" fill="#860b0b"/>
<circle cx="674.24" cy="184.60" r="4.5" fill="#860b0b"/>
<circle cx="702.51" cy="182.90" r="4.5" fill="#860b0b"/>
<circle cx="730.77" cy="177.20" r="4.5" fill="#860b0b"/>
<circle cx="759.04" cy="162.80" r="4.5" fill="#860b0b"/>
<circle cx="787.30" cy="145.80" r="4.5" fill="#860b0b"/>
<circle cx="815.56" cy="127.50" r="4.5" fill="#860b0b"/>
<circle cx="843.83" cy="110.10" r="4.5" fill="#860b0b"/>
<circle cx="872.09" cy="92.70" r="4.5" fill="#860b0b"/>
<circle cx="900.36" cy="78.60" r="4.5" fill="#860b0b"/>
<circle cx="928.62" cy="66.60" r="4.5" fill="#860b0b"/>
<circle cx="645.98" cy="185.60" r="4.5" fill="#fa7f0e"/>
<circle cx="674.24" cy="184.20" r="4.5" fill="#fa7f0e"/>
<circle cx="702.51" cy="181.80" r="4.5" fill="#fa7f0e"/>
<circle cx="730.77" cy="171.80" r="4.5" fill="#fa7f0e"/>
<circle cx="759.04" cy="157.40" r="4.5" fill="#fa7f0e"/>
<circle cx="787.30" cy="139.00" r="4.5" fill="#fa7f0e"/>
<circle cx="815.56" cy="122.50" r="4.5" fill="#fa7f0e"/>
<circle cx="843.83" cy="106.80" r="4.5" fill="#fa7f0e"/>
<circle cx="872.09" cy="91.00" r="4.5" fill="#fa7f0e"/>
<circle cx="900.36" cy="77.50" r="4.5" fill="#fa7f0e"/>
<circle cx="928.62" cy="66.40" r="4.5" fill="#fa7f0e"/>
<circle cx="645.98" cy="185.30" r="4.5" fill="#18ea7e"/>
<circle cx="674.24" cy="183.80" r="4.5" fill="#18ea7e"/>
<circle cx="702.51" cy="180.70" r="4.5" fill="#18ea7e"/>
<circle cx="730.77" cy="170.00" r="4.5" fill="#18ea7e"/>
<circle cx="759.04" cy="155.00" r="4.5" fill="#18ea7e"/>
<circle cx="787.30" cy="138.60" r="4.5" fill="#18ea7e"/>
<circle cx="815.56" cy="121.60" r="4.5" fill="#18ea7e"/>
<circle cx="843.83" cy="105.50" r="4.5" fill="#18ea7e"/>
<circle cx="872.09" cy="89.40" r="4.5" fill="#18ea7e"/>
<circle cx="900.36" cy="75.80" r="4.5" fill="#18ea7e"/>
<circle cx="928.62" cy="65.20" r="4.5" fill="#18ea7e"/>
<circle cx="645.98" cy="184.90" r="4.5" fill="#0d0b80"/>
<circle cx="674.24" cy="183.40" r="4.5" fill="#0d0b80"/>
<circle cx="702.51" cy="177.50" r="4.5" fill="#0d0b80"/>
<circle cx="730.77" cy="166.40" r="4.5" fill="#0d0b80"/>
<circle cx="759.04" cy="151.60" r="4.5" fill="#0d0b80"/>
<circle cx="787.30" cy="135.20" r="4.5" fill="#0d0b80"/>
<circle cx="815.56" cy="118.10" r="4.5" fill="#0d0b80"/>
<circle cx="843.83" cy="102.10" r="4.5" fill="#0d0b80"/>
<circle cx="872.09" cy="85.90" r="4.5" fill="#0d0b80"/>
<circle cx="900.36" cy="72.30" r="4.5" fill="#0d0b80"/>
<circle cx="928.62" cy="63.40" r="4.5" fill="#0d0b80"/>
<line x1="629.00" y1="190.20" x2="946.00" y2="190.20" stroke="#1a1a1a" stroke-width="1.3" />
<line x1="787.30" y1="18.70" x2="787.30" y2="190.20" stroke="#1a1a1a" stroke-width="1.3" />
<line x1="645.98" y1="190.20" x2="645.98" y2="186.50" stroke="#1a1a1a" stroke-width="1.0" />
<line x1="716.64" y1="190.20" x2="716.64" y2="186.50" stroke="#1a1a1a" stroke-width="1.0" />
<line x1="857.96" y1="190.20" x2="857.96" y2="186.50" stroke="#1a1a1a" stroke-width="1.0" />
<line x1="928.62" y1="190.20" x2="928.62" y2="186.50" stroke="#1a1a1a" stroke-width="1.0" />
<line x1="787.30" y1="67.60" x2="783.50" y2="67.60" stroke="#1a1a1a" stroke-width="1.0" />
<text x="645.98" y="205.20" font-size="13.8" text-anchor="middle" fill="#111" >&#8722;200</text>
<text x="716.64" y="205.20" font-size="13.8" text-anchor="middle" fill="#111" >&#8722;100</text>
<text x="787.30" y="205.20" font-size="13.8" text-anchor="middle" fill="#111" >0</text>
<text x="857.96" y="205.20" font-size="13.8" text-anchor="middle" fill="#111" >100</text>
<text x="928.62" y="205.20" font-size="13.8" text-anchor="middle" fill="#111" >200</text>
<text x="783.70" y="72.50" font-size="13.8" text-anchor="end" fill="#111" >500</text>
<text x="794.30" y="26.5" font-size="13.8" fill="#111"><tspan font-style="italic">S</tspan>(<tspan font-style="italic">y</tspan>) (mV<tspan font-size="10" dy="-5.2">2</tspan><tspan font-style="italic" dy="5.2">&#956;</tspan>s<tspan font-size="10" dy="-5.2">&#8722;1</tspan><tspan dy="5.2">)</tspan></text>
<text x="892.80" y="178" font-size="13.8" fill="#111"><tspan font-style="italic">y</tspan> (mV)</text>
<circle cx="642.80" cy="55.00" r="4.5" fill="#860b0b"/>
<text x="651.5" y="58.80" font-size="11.2" letter-spacing="0.55" fill="#111">&#964;=1.1<tspan font-style="italic">&#956;</tspan> s</text>
<circle cx="642.80" cy="71.50" r="4.5" fill="#fa7f0e"/>
<text x="651.5" y="75.30" font-size="11.2" letter-spacing="0.55" fill="#111">&#964;=0.6<tspan font-style="italic">&#956;</tspan> s</text>
<circle cx="642.80" cy="88.00" r="4.5" fill="#18ea7e"/>
<text x="651.5" y="91.80" font-size="11.2" letter-spacing="0.55" fill="#111">&#964;=0.2<tspan font-style="italic">&#956;</tspan> s</text>
<circle cx="642.80" cy="104.50" r="4.5" fill="#0d0b80"/>
<text x="651.5" y="108.30" font-size="11.2" letter-spacing="0.55" fill="#111">&#964;=0.1<tspan font-style="italic">&#956;</tspan> s</text>
<circle cx="645.98" cy="277.17" r="4.5" fill="#860b0b"/>
<circle cx="674.24" cy="289.71" r="4.5" fill="#860b0b"/>
<circle cx="702.51" cy="297.94" r="4.5" fill="#860b0b"/>
<circle cx="730.77" cy="305.60" r="4.5" fill="#860b0b"/>
<circle cx="759.04" cy="306.03" r="4.5" fill="#860b0b"/>
<circle cx="787.30" cy="314.46" r="4.5" fill="#860b0b"/>
<circle cx="815.56" cy="324.53" r="4.5" fill="#860b0b"/>
<circle cx="843.83" cy="336.74" r="4.5" fill="#860b0b"/>
<circle cx="872.09" cy="346.77" r="4.5" fill="#860b0b"/>
<circle cx="900.36" cy="362.82" r="4.5" fill="#860b0b"/>
<circle cx="928.62" cy="381.02" r="4.5" fill="#860b0b"/>
<circle cx="645.98" cy="278.41" r="4.5" fill="#fa7f0e"/>
<circle cx="674.24" cy="290.68" r="4.5" fill="#fa7f0e"/>
<circle cx="702.51" cy="299.55" r="4.5" fill="#fa7f0e"/>
<circle cx="730.77" cy="304.70" r="4.5" fill="#fa7f0e"/>
<circle cx="759.04" cy="315.13" r="4.5" fill="#fa7f0e"/>
<circle cx="787.30" cy="322.42" r="4.5" fill="#fa7f0e"/>
<circle cx="815.56" cy="332.69" r="4.5" fill="#fa7f0e"/>
<circle cx="843.83" cy="345.90" r="4.5" fill="#fa7f0e"/>
<circle cx="872.09" cy="361.19" r="4.5" fill="#fa7f0e"/>
<circle cx="900.36" cy="375.87" r="4.5" fill="#fa7f0e"/>
<circle cx="928.62" cy="391.35" r="4.5" fill="#fa7f0e"/>
<circle cx="645.98" cy="279.71" r="4.5" fill="#18ea7e"/>
<circle cx="674.24" cy="292.16" r="4.5" fill="#18ea7e"/>
<circle cx="702.51" cy="301.22" r="4.5" fill="#18ea7e"/>
<circle cx="730.77" cy="307.74" r="4.5" fill="#18ea7e"/>
<circle cx="759.04" cy="317.24" r="4.5" fill="#18ea7e"/>
<circle cx="787.30" cy="327.84" r="4.5" fill="#18ea7e"/>
<circle cx="815.56" cy="339.48" r="4.5" fill="#18ea7e"/>
<circle cx="843.83" cy="352.59" r="4.5" fill="#18ea7e"/>
<circle cx="872.09" cy="366.30" r="4.5" fill="#18ea7e"/>
<circle cx="900.36" cy="378.11" r="4.5" fill="#18ea7e"/>
<circle cx="928.62" cy="392.39" r="4.5" fill="#18ea7e"/>
<circle cx="645.98" cy="280.99" r="4.5" fill="#0d0b80"/>
<circle cx="674.24" cy="292.89" r="4.5" fill="#0d0b80"/>
<circle cx="702.51" cy="301.89" r="4.5" fill="#0d0b80"/>
<circle cx="730.77" cy="312.96" r="4.5" fill="#0d0b80"/>
<circle cx="759.04" cy="323.43" r="4.5" fill="#0d0b80"/>
<circle cx="787.30" cy="334.50" r="4.5" fill="#0d0b80"/>
<circle cx="815.56" cy="347.11" r="4.5" fill="#0d0b80"/>
<circle cx="843.83" cy="359.85" r="4.5" fill="#0d0b80"/>
<circle cx="872.09" cy="371.49" r="4.5" fill="#0d0b80"/>
<circle cx="900.36" cy="382.89" r="4.5" fill="#0d0b80"/>
<circle cx="928.62" cy="394.63" r="4.5" fill="#0d0b80"/>
<polyline points="629.73,268.35 631.85,269.31 633.97,270.27 636.09,271.23 638.21,272.19 640.33,273.15 642.45,274.11 644.57,275.08 646.69,276.04 648.81,277.00 650.93,277.87 653.05,278.75 655.17,279.62 657.29,280.50 659.41,281.37 661.53,282.24 663.64,283.12 665.76,283.99 667.88,284.87 670.00,285.67 672.12,286.47 674.24,287.27 676.36,288.07 678.48,288.87 680.60,289.67 682.72,290.47 684.84,291.27 686.96,292.02 689.08,292.53 691.20,293.05 693.32,293.56 695.44,294.08 697.56,294.59 699.68,295.10 701.80,295.62 703.92,296.06 706.04,296.51 708.16,296.95 710.28,297.40 712.40,297.85 714.52,298.29 716.64,298.54 718.76,298.70 720.88,298.85 723.00,299.00 725.12,299.16 727.24,299.20 729.36,299.02 731.48,298.85 733.60,298.67 735.72,298.50 737.84,298.33 739.96,298.17 742.08,298.01 744.20,297.85 746.32,297.91 748.44,298.40 750.56,298.89 752.68,299.38 754.80,299.87 756.92,300.36 759.04,300.86 761.16,301.38 763.28,301.90 765.40,302.43 767.52,302.95 769.63,303.48 771.75,304.00 773.87,304.67 775.99,305.34 778.11,306.02 780.23,306.69 782.35,307.37 784.47,308.05 786.59,308.72 788.71,309.49 790.83,310.31 792.95,311.13 795.07,311.95 797.19,312.76 799.31,313.58 801.43,314.40 803.55,315.22 805.67,316.03 807.79,316.91 809.91,317.85 812.03,318.79 814.15,319.72 816.27,320.66 818.39,321.60 820.51,322.54 822.63,323.47 824.75,324.41 826.87,325.35 828.99,326.07 831.11,326.80 833.23,327.52 835.35,328.25 837.47,328.98 839.59,329.70 841.71,330.39 843.83,331.01 845.95,331.63 848.07,332.25 850.19,332.87 852.31,333.73 854.43,334.89 856.55,336.05 858.67,337.21 860.79,338.50 862.91,339.84 865.03,341.19 867.15,342.53 869.27,343.88 871.39,345.23 873.51,346.54 875.62,347.84 877.74,349.13 879.86,350.43 881.98,351.73 884.10,353.18 886.22,354.63 888.34,356.08 890.46,357.52 892.58,358.80 894.70,359.73 896.82,360.66 898.94,361.59 901.06,362.52 903.18,363.45 905.30,364.38 907.42,365.31 909.54,366.23 911.66,367.14 913.78,368.05 915.90,368.97 918.02,369.88 920.14,370.79 922.26,371.70 924.38,372.61 926.50,373.96 928.62,375.30 930.74,376.65 932.86,377.99 934.98,379.34 937.10,380.60 939.22,381.86 941.34,383.11 943.46,384.37 945.58,385.63" fill="none" stroke="#860b0b" stroke-width="1.35" stroke-linejoin="round" stroke-dasharray="6.5,7"/>
<polyline points="629.73,269.62 631.85,270.42 633.97,271.22 636.09,272.02 638.21,272.83 640.33,273.63 642.45,274.43 644.57,275.23 646.69,276.04 648.81,276.84 650.93,277.64 653.05,278.44 655.17,279.25 657.29,280.05 659.41,280.85 661.53,281.65 663.64,282.46 665.76,283.26 667.88,284.06 670.00,284.51 672.12,284.96 674.24,285.42 676.36,285.87 678.48,286.32 680.60,286.77 682.72,287.22 684.84,287.67 686.96,288.09 689.08,288.35 691.20,288.62 693.32,288.88 695.44,289.15 697.56,289.41 699.68,289.68 701.80,289.85 703.92,290.00 706.04,290.15 708.16,290.31 710.28,290.46 712.40,290.67 714.52,290.94 716.64,291.20 718.76,291.47 720.88,291.73 723.00,292.00 725.12,292.28 727.24,292.56 729.36,292.85 731.48,293.13 733.60,293.41 735.72,293.84 737.84,294.31 739.96,294.77 742.08,295.24 744.20,295.70 746.32,296.22 748.44,296.82 750.56,297.43 752.68,298.04 754.80,298.64 756.92,299.25 759.04,299.85 761.16,300.44 763.28,301.04 765.40,301.63 767.52,302.23 769.63,302.83 771.75,303.42 773.87,304.10 775.99,304.79 778.11,305.48 780.23,306.17 782.35,306.86 784.47,307.55 786.59,308.36 788.71,309.31 790.83,310.26 792.95,311.22 795.07,312.17 797.19,313.13 799.31,314.12 801.43,315.11 803.55,316.10 805.67,317.09 807.79,318.08 809.91,319.07 812.03,320.06 814.15,321.08 816.27,322.11 818.39,323.15 820.51,324.18 822.63,325.21 824.75,326.25 826.87,327.28 828.99,328.31 831.11,329.35 833.23,330.37 835.35,331.33 837.47,332.29 839.59,333.25 841.71,334.21 843.83,335.17 845.95,336.13 848.07,337.09 850.19,338.05 852.31,339.01 854.43,340.05 856.55,341.19 858.67,342.33 860.79,343.47 862.91,344.61 865.03,345.75 867.15,346.89 869.27,348.04 871.39,349.18 873.51,350.32 875.62,351.48 877.74,352.64 879.86,353.80 881.98,354.96 884.10,356.12 886.22,357.28 888.34,358.44 890.46,359.57 892.58,360.71 894.70,361.84 896.82,362.98 898.94,364.12 901.06,365.25 903.18,366.39 905.30,367.53 907.42,368.66 909.54,369.60 911.66,370.37 913.78,371.14 915.90,371.91 918.02,372.67 920.14,373.44 922.26,374.21 924.38,374.97 926.50,376.02 928.62,377.07 930.74,378.12 932.86,379.17 934.98,380.22 937.10,381.27 939.22,382.31 941.34,383.32 943.46,384.33 945.58,385.34" fill="none" stroke="#fa7f0e" stroke-width="1.35" stroke-linejoin="round" stroke-dasharray="6.5,7"/>
<polyline points="629.73,269.90 631.85,270.71 633.97,271.52 636.09,272.33 638.21,273.14 640.33,273.95 642.45,274.76 644.57,275.57 646.69,276.38 648.81,277.19 650.93,278.00 653.05,278.81 655.17,279.62 657.29,280.43 659.41,281.14 661.53,281.80 663.64,282.46 665.76,283.12 667.88,283.78 670.00,284.28 672.12,284.78 674.24,285.28 676.36,285.69 678.48,286.05 680.60,286.40 682.72,286.76 684.84,287.12 686.96,287.44 689.08,287.63 691.20,287.82 693.32,288.01 695.44,288.20 697.56,288.39 699.68,288.58 701.80,288.80 703.92,289.03 706.04,289.27 708.16,289.50 710.28,289.73 712.40,289.98 714.52,290.29 716.64,290.60 718.76,290.92 720.88,291.23 723.00,291.55 725.12,291.87 727.24,292.23 729.36,292.65 731.48,293.06 733.60,293.48 735.72,293.97 737.84,294.47 739.96,295.00 742.08,295.52 744.20,296.05 746.32,296.59 748.44,297.18 750.56,297.77 752.68,298.36 754.80,299.00 756.92,299.66 759.04,300.31 761.16,300.96 763.28,301.61 765.40,302.26 767.52,302.91 769.63,303.56 771.75,304.21 773.87,304.94 775.99,305.67 778.11,306.41 780.23,307.15 782.35,307.88 784.47,308.62 786.59,309.41 788.71,310.28 790.83,311.16 792.95,312.03 795.07,312.90 797.19,313.78 799.31,314.68 801.43,315.57 803.55,316.46 805.67,317.35 807.79,318.28 809.91,319.23 812.03,320.19 814.15,321.16 816.27,322.13 818.39,323.11 820.51,324.08 822.63,325.06 824.75,326.03 826.87,327.01 828.99,328.00 831.11,329.00 833.23,329.99 835.35,330.95 837.47,331.91 839.59,332.87 841.71,333.83 843.83,334.79 845.95,335.75 848.07,336.71 850.19,337.66 852.31,338.61 854.43,339.60 856.55,340.64 858.67,341.67 860.79,342.70 862.91,343.74 865.03,344.84 867.15,345.96 869.27,347.09 871.39,348.21 873.51,349.34 875.62,350.48 877.74,351.61 879.86,352.85 881.98,354.10 884.10,355.34 886.22,356.58 888.34,357.82 890.46,359.05 892.58,360.27 894.70,361.47 896.82,362.67 898.94,363.87 901.06,365.07 903.18,366.27 905.30,367.46 907.42,368.66 909.54,369.74 911.66,370.72 913.78,371.70 915.90,372.68 918.02,373.66 920.14,374.64 922.26,375.63 924.38,376.61 926.50,377.61 928.62,378.61 930.74,379.61 932.86,380.61 934.98,381.61 937.10,382.61 939.22,383.60 941.34,384.55 943.46,385.50 945.58,386.45" fill="none" stroke="#18ea7e" stroke-width="1.35" stroke-linejoin="round" stroke-dasharray="6.5,7"/>
<polyline points="629.73,270.13 631.85,270.95 633.97,271.77 636.09,272.58 638.21,273.40 640.33,274.22 642.45,275.03 644.57,275.85 646.69,276.67 648.81,277.48 650.93,278.30 653.05,279.12 655.17,279.93 657.29,280.75 659.41,281.38 661.53,281.92 663.64,282.47 665.76,283.01 667.88,283.55 670.00,284.09 672.12,284.64 674.24,285.18 676.36,285.54 678.48,285.82 680.60,286.10 682.72,286.38 684.84,286.66 686.96,286.92 689.08,287.04 691.20,287.17 693.32,287.30 695.44,287.43 697.56,287.55 699.68,287.68 701.80,287.95 703.92,288.24 706.04,288.54 708.16,288.83 710.28,289.13 712.40,289.42 714.52,289.76 716.64,290.11 718.76,290.47 720.88,290.82 723.00,291.18 725.12,291.53 727.24,291.95 729.36,292.48 731.48,293.01 733.60,293.54 735.72,294.07 737.84,294.61 739.96,295.18 742.08,295.75 744.20,296.33 746.32,296.90 748.44,297.48 750.56,298.05 752.68,298.62 754.80,299.30 756.92,299.99 759.04,300.69 761.16,301.38 763.28,302.07 765.40,302.77 767.52,303.46 769.63,304.16 771.75,304.85 773.87,305.62 775.99,306.39 778.11,307.17 780.23,307.95 782.35,308.72 784.47,309.50 786.59,310.27 788.71,311.07 790.83,311.88 792.95,312.70 795.07,313.51 797.19,314.32 799.31,315.13 801.43,315.94 803.55,316.75 805.67,317.56 807.79,318.43 809.91,319.36 812.03,320.29 814.15,321.22 816.27,322.15 818.39,323.07 820.51,324.00 822.63,324.93 824.75,325.86 826.87,326.79 828.99,327.75 831.11,328.71 833.23,329.67 835.35,330.63 837.47,331.59 839.59,332.56 841.71,333.52 843.83,334.48 845.95,335.44 848.07,336.39 850.19,337.34 852.31,338.29 854.43,339.24 856.55,340.18 858.67,341.13 860.79,342.08 862.91,343.03 865.03,344.08 867.15,345.20 869.27,346.31 871.39,347.43 873.51,348.54 875.62,349.66 877.74,350.77 879.86,352.08 881.98,353.39 884.10,354.70 886.22,356.01 888.34,357.32 890.46,358.63 892.58,359.91 894.70,361.16 896.82,362.41 898.94,363.66 901.06,364.91 903.18,366.16 905.30,367.41 907.42,368.66 909.54,369.85 911.66,371.01 913.78,372.16 915.90,373.32 918.02,374.47 920.14,375.63 922.26,376.79 924.38,377.94 926.50,378.90 928.62,379.86 930.74,380.82 932.86,381.78 934.98,382.74 937.10,383.71 939.22,384.66 941.34,385.56 943.46,386.46 945.58,387.36" fill="none" stroke="#0d0b80" stroke-width="1.35" stroke-linejoin="round" stroke-dasharray="6.5,7"/>
<line x1="629.00" y1="271.42" x2="946.00" y2="399.34" stroke="#1a1a1a" stroke-width="1.2" />
<line x1="629.00" y1="335.30" x2="946.00" y2="335.30" stroke="#1a1a1a" stroke-width="1.3" />
<line x1="787.30" y1="249.00" x2="787.30" y2="421.50" stroke="#1a1a1a" stroke-width="1.3" />
<line x1="645.98" y1="335.30" x2="645.98" y2="331.60" stroke="#1a1a1a" stroke-width="1.0" />
<line x1="716.64" y1="335.30" x2="716.64" y2="331.60" stroke="#1a1a1a" stroke-width="1.0" />
<line x1="857.96" y1="335.30" x2="857.96" y2="331.60" stroke="#1a1a1a" stroke-width="1.0" />
<line x1="928.62" y1="335.30" x2="928.62" y2="331.60" stroke="#1a1a1a" stroke-width="1.0" />
<line x1="787.30" y1="248.90" x2="791.10" y2="248.90" stroke="#1a1a1a" stroke-width="1.0" />
<line x1="787.30" y1="277.70" x2="791.10" y2="277.70" stroke="#1a1a1a" stroke-width="1.0" />
<line x1="787.30" y1="306.50" x2="791.10" y2="306.50" stroke="#1a1a1a" stroke-width="1.0" />
<line x1="787.30" y1="364.10" x2="791.10" y2="364.10" stroke="#1a1a1a" stroke-width="1.0" />
<line x1="787.30" y1="392.90" x2="791.10" y2="392.90" stroke="#1a1a1a" stroke-width="1.0" />
<line x1="787.30" y1="421.70" x2="791.10" y2="421.70" stroke="#1a1a1a" stroke-width="1.0" />
<text x="782.80" y="252.80" font-size="13.8" text-anchor="end" fill="#111" >3</text>
<text x="782.80" y="281.60" font-size="13.8" text-anchor="end" fill="#111" >2</text>
<text x="782.80" y="310.40" font-size="13.8" text-anchor="end" fill="#111" >1</text>
<text x="782.80" y="339.20" font-size="13.8" text-anchor="end" fill="#111" >0</text>
<text x="782.80" y="368.00" font-size="13.8" text-anchor="end" fill="#111" >&#8722;1</text>
<text x="782.80" y="396.80" font-size="13.8" text-anchor="end" fill="#111" >&#8722;2</text>
<text x="782.80" y="425.60" font-size="13.8" text-anchor="end" fill="#111" >&#8722;3</text>
<text x="646.28" y="350.30" font-size="13.8" text-anchor="middle" fill="#111" >&#8722;200</text>
<text x="716.94" y="350.30" font-size="13.8" text-anchor="middle" fill="#111" >&#8722;100</text>
<text x="787.60" y="350.30" font-size="13.8" text-anchor="middle" fill="#111" >0</text>
<text x="858.26" y="350.30" font-size="13.8" text-anchor="middle" fill="#111" >100</text>
<text x="928.92" y="350.30" font-size="13.8" text-anchor="middle" fill="#111" >200</text>
<text x="794.80" y="253.5" font-size="13.8" fill="#111"><tspan font-style="italic">D</tspan>(<tspan font-style="italic">y</tspan>) (mV<tspan font-style="italic">&#956;</tspan>s<tspan font-size="10" dy="-5.2">&#8722;1</tspan><tspan dy="5.2">)</tspan></text>
<text x="892.80" y="322.7" font-size="13.8" fill="#111"><tspan font-style="italic">y</tspan> (mV)</text>
<circle cx="650.30" cy="378.60" r="4.5" fill="#000"/>
<text x="666" y="380.3" font-size="12.5" fill="#111" font-style="italic">D</text>
<text x="679.0" y="380.3" font-size="10.5" fill="#111">(<tspan font-style="italic">y</tspan>)</text>
<line x1="639.60" y1="394.40" x2="660.50" y2="394.40" stroke="#111" stroke-width="1.0" />
<text x="666.3" y="397.4" font-size="12.5" fill="#111" font-style="italic">G</text>
<text x="679.4" y="397.4" font-size="10.5" fill="#111">(<tspan font-style="italic">y</tspan>)</text>
<line x1="639.60" y1="411.10" x2="647.20" y2="411.10" stroke="#111" stroke-width="2.0" />
<line x1="656.00" y1="411.10" x2="660.50" y2="411.10" stroke="#111" stroke-width="2.0" />
<text x="666.3" y="414.7" font-size="12.5" fill="#111" font-style="italic">G</text>
<text x="679.4" y="414.7" font-size="10.5" fill="#111">(<tspan font-style="italic">y</tspan>)</text>
<text x="694.6" y="414.7" font-size="11" fill="#111">+</text>
<text x="703.0" y="414.7" font-size="11.8" fill="#111">0.5</text>
<text x="719.8" y="414.7" font-size="12.5" fill="#111" font-style="italic">S&#8242;</text>
<text x="734.6" y="414.7" font-size="10.5" fill="#111">(<tspan font-style="italic">y</tspan>)</text>
<circle cx="645.98" cy="592.30" r="4.5" fill="#860b0b"/>
<circle cx="674.24" cy="595.70" r="4.5" fill="#860b0b"/>
<circle cx="702.51" cy="586.20" r="4.5" fill="#860b0b"/>
<circle cx="730.77" cy="575.00" r="4.5" fill="#860b0b"/>
<circle cx="759.04" cy="542.20" r="4.5" fill="#860b0b"/>
<circle cx="787.30" cy="533.30" r="4.5" fill="#860b0b"/>
<circle cx="815.56" cy="529.30" r="4.5" fill="#860b0b"/>
<circle cx="843.83" cy="531.70" r="4.5" fill="#860b0b"/>
<circle cx="872.09" cy="527.60" r="4.5" fill="#860b0b"/>
<circle cx="900.36" cy="541.50" r="4.5" fill="#860b0b"/>
<circle cx="928.62" cy="561.80" r="4.5" fill="#860b0b"/>
<circle cx="645.98" cy="596.00" r="4.5" fill="#fa7f0e"/>
<circle cx="674.24" cy="598.60" r="4.5" fill="#fa7f0e"/>
<circle cx="702.51" cy="591.00" r="4.5" fill="#fa7f0e"/>
<circle cx="730.77" cy="572.30" r="4.5" fill="#fa7f0e"/>
<circle cx="759.04" cy="569.40" r="4.5" fill="#fa7f0e"/>
<circle cx="787.30" cy="557.10" r="4.5" fill="#fa7f0e"/>
<circle cx="815.56" cy="553.70" r="4.5" fill="#fa7f0e"/>
<circle cx="843.83" cy="559.10" r="4.5" fill="#fa7f0e"/>
<circle cx="872.09" cy="570.70" r="4.5" fill="#fa7f0e"/>
<circle cx="900.36" cy="580.50" r="4.5" fill="#fa7f0e"/>
<circle cx="928.62" cy="592.70" r="4.5" fill="#fa7f0e"/>
<circle cx="645.98" cy="599.90" r="4.5" fill="#18ea7e"/>
<circle cx="674.24" cy="603.00" r="4.5" fill="#18ea7e"/>
<circle cx="702.51" cy="596.00" r="4.5" fill="#18ea7e"/>
<circle cx="730.77" cy="581.40" r="4.5" fill="#18ea7e"/>
<circle cx="759.04" cy="575.70" r="4.5" fill="#18ea7e"/>
<circle cx="787.30" cy="573.30" r="4.5" fill="#18ea7e"/>
<circle cx="815.56" cy="574.00" r="4.5" fill="#18ea7e"/>
<circle cx="843.83" cy="579.10" r="4.5" fill="#18ea7e"/>
<circle cx="872.09" cy="586.00" r="4.5" fill="#18ea7e"/>
<circle cx="900.36" cy="587.20" r="4.5" fill="#18ea7e"/>
<circle cx="928.62" cy="595.80" r="4.5" fill="#18ea7e"/>
<circle cx="645.98" cy="603.70" r="4.5" fill="#0d0b80"/>
<circle cx="674.24" cy="605.20" r="4.5" fill="#0d0b80"/>
<circle cx="702.51" cy="598.00" r="4.5" fill="#0d0b80"/>
<circle cx="730.77" cy="597.00" r="4.5" fill="#0d0b80"/>
<circle cx="759.04" cy="594.20" r="4.5" fill="#0d0b80"/>
<circle cx="787.30" cy="593.20" r="4.5" fill="#0d0b80"/>
<circle cx="815.56" cy="596.80" r="4.5" fill="#0d0b80"/>
<circle cx="843.83" cy="600.80" r="4.5" fill="#0d0b80"/>
<circle cx="872.09" cy="601.50" r="4.5" fill="#0d0b80"/>
<circle cx="900.36" cy="601.50" r="4.5" fill="#0d0b80"/>
<circle cx="928.62" cy="602.50" r="4.5" fill="#0d0b80"/>
<polyline points="629.73,585.53 631.85,585.84 633.97,586.16 636.09,586.47 638.21,586.79 640.33,587.10 642.45,587.42 644.57,587.74 646.69,588.05 648.81,588.37 650.93,588.43 653.05,588.48 655.17,588.54 657.29,588.60 659.41,588.65 661.53,588.71 663.64,588.77 665.76,588.83 667.88,588.88 670.00,588.72 672.12,588.55 674.24,588.39 676.36,588.22 678.48,588.06 680.60,587.89 682.72,587.72 684.84,587.56 686.96,587.25 689.08,586.23 691.20,585.21 693.32,584.19 695.44,583.17 697.56,582.14 699.68,581.12 701.80,580.10 703.92,578.88 706.04,577.65 708.16,576.43 710.28,575.21 712.40,573.98 714.52,572.76 716.64,570.95 718.76,568.86 720.88,566.76 723.00,564.66 725.12,562.56 727.24,560.13 729.36,557.05 731.48,553.96 733.60,550.88 735.72,547.80 737.84,544.75 739.96,541.71 742.08,538.67 744.20,535.63 746.32,533.25 748.44,532.16 750.56,531.07 752.68,529.98 754.80,528.90 756.92,527.81 759.04,526.72 761.16,525.73 763.28,524.74 765.40,523.76 767.52,522.77 769.63,521.78 771.75,520.79 773.87,520.21 775.99,519.68 778.11,519.14 780.23,518.60 782.35,518.07 784.47,517.53 786.59,517.00 788.71,516.74 790.83,516.63 792.95,516.52 795.07,516.41 797.19,516.29 799.31,516.18 801.43,516.07 803.55,515.95 805.67,515.84 807.79,515.91 809.91,516.15 812.03,516.40 814.15,516.64 816.27,516.89 818.39,517.13 820.51,517.38 822.63,517.62 824.75,517.87 826.87,518.11 828.99,517.72 831.11,517.34 833.23,516.95 835.35,516.56 837.47,516.17 839.59,515.79 841.71,515.29 843.83,514.59 845.95,513.89 848.07,513.18 850.19,512.48 852.31,512.48 854.43,513.39 856.55,514.31 858.67,515.22 860.79,516.51 862.91,517.97 865.03,519.44 867.15,520.91 869.27,522.38 871.39,523.84 873.51,525.20 875.62,526.53 877.74,527.85 879.86,529.18 881.98,530.51 884.10,532.28 886.22,534.05 888.34,535.82 890.46,537.59 892.58,538.85 894.70,539.07 896.82,539.30 898.94,539.52 901.06,539.75 903.18,539.97 905.30,540.20 907.42,540.42 909.54,540.61 911.66,540.78 913.78,540.95 915.90,541.11 918.02,541.28 920.14,541.45 922.26,541.62 924.38,541.79 926.50,543.25 928.62,544.71 930.74,546.18 932.86,547.64 934.98,549.11 937.10,550.31 939.22,551.52 941.34,552.72 943.46,553.93 945.58,555.13" fill="none" stroke="#860b0b" stroke-width="1.35" stroke-linejoin="round" stroke-dasharray="6.5,7"/>
<polyline points="629.73,589.31 631.85,589.16 633.97,589.00 636.09,588.84 638.21,588.68 640.33,588.53 642.45,588.37 644.57,588.21 646.69,588.05 648.81,587.89 650.93,587.74 653.05,587.58 655.17,587.42 657.29,587.26 659.41,587.10 661.53,586.95 663.64,586.79 665.76,586.63 667.88,586.47 670.00,585.26 672.12,584.06 674.24,582.85 676.36,581.64 678.48,580.43 680.60,579.22 682.72,578.01 684.84,576.80 686.96,575.50 689.08,573.74 691.20,571.97 693.32,570.20 695.44,568.43 697.56,566.67 699.68,564.90 701.80,562.86 703.92,560.76 706.04,558.66 708.16,556.56 710.28,554.46 712.40,552.53 714.52,550.76 716.64,549.00 718.76,547.23 720.88,545.47 723.00,543.71 725.12,542.00 727.24,540.29 729.36,538.58 731.48,536.87 733.60,535.16 735.72,533.88 737.84,532.72 739.96,531.55 742.08,530.38 744.20,529.22 746.32,528.19 748.44,527.45 750.56,526.71 752.68,525.97 754.80,525.22 756.92,524.48 759.04,523.71 761.16,522.93 763.28,522.15 765.40,521.38 767.52,520.60 769.63,519.82 771.75,519.05 773.87,518.52 775.99,518.03 778.11,517.53 780.23,517.03 782.35,516.53 784.47,516.03 786.59,515.93 788.71,516.21 790.83,516.49 792.95,516.78 795.07,517.06 797.19,517.38 799.31,517.79 801.43,518.19 803.55,518.60 805.67,519.00 807.79,519.41 809.91,519.81 812.03,520.21 814.15,520.70 816.27,521.23 818.39,521.76 820.51,522.30 822.63,522.83 824.75,523.36 826.87,523.89 828.99,524.42 831.11,524.95 833.23,525.46 835.35,525.77 837.47,526.08 839.59,526.39 841.71,526.71 843.83,527.02 845.95,527.33 848.07,527.64 850.19,527.95 852.31,528.27 854.43,528.81 856.55,529.67 858.67,530.52 860.79,531.38 862.91,532.23 865.03,533.09 867.15,533.94 869.27,534.80 871.39,535.65 873.51,536.51 875.62,537.41 877.74,538.32 879.86,539.24 881.98,540.15 884.10,541.06 886.22,541.97 888.34,542.87 890.46,543.71 892.58,544.55 894.70,545.40 896.82,546.24 898.94,547.08 901.06,547.92 903.18,548.76 905.30,549.60 907.42,550.44 909.54,550.69 911.66,550.42 913.78,550.16 915.90,549.90 918.02,549.64 920.14,549.37 922.26,549.11 924.38,548.85 926.50,549.43 928.62,550.01 930.74,550.59 932.86,551.17 934.98,551.75 937.10,552.33 939.22,552.89 941.34,553.35 943.46,553.81 945.58,554.27" fill="none" stroke="#fa7f0e" stroke-width="1.35" stroke-linejoin="round" stroke-dasharray="6.5,7"/>
<polyline points="629.73,590.17 631.85,590.03 633.97,589.90 636.09,589.76 638.21,589.63 640.33,589.49 642.45,589.36 644.57,589.22 646.69,589.09 648.81,588.95 650.93,588.82 653.05,588.68 655.17,588.55 657.29,588.41 659.41,587.98 661.53,587.39 663.64,586.80 665.76,586.22 667.88,585.63 670.00,584.57 672.12,583.52 674.24,582.46 676.36,581.11 678.48,579.62 680.60,578.13 682.72,576.64 684.84,575.15 686.96,573.57 689.08,571.58 691.20,569.59 693.32,567.60 695.44,565.60 697.56,563.61 699.68,561.62 701.80,559.73 703.92,557.87 706.04,556.00 708.16,554.14 710.28,552.27 712.40,550.48 714.52,548.83 716.64,547.21 718.76,545.60 720.88,543.98 723.00,542.37 725.12,540.77 727.24,539.28 729.36,537.98 731.48,536.67 733.60,535.37 735.72,534.26 737.84,533.21 739.96,532.22 742.08,531.23 744.20,530.25 746.32,529.32 748.44,528.53 750.56,527.73 752.68,526.93 754.80,526.30 756.92,525.70 759.04,525.09 761.16,524.47 763.28,523.86 765.40,523.24 767.52,522.63 769.63,522.01 771.75,521.40 773.87,521.02 775.99,520.66 778.11,520.31 780.23,519.95 782.35,519.60 784.47,519.24 786.59,519.07 788.71,519.10 790.83,519.16 792.95,519.21 795.07,519.27 797.19,519.34 799.31,519.45 801.43,519.56 803.55,519.67 805.67,519.78 807.79,519.98 809.91,520.29 812.03,520.59 814.15,520.93 816.27,521.29 818.39,521.64 820.51,522.00 822.63,522.36 824.75,522.72 826.87,523.08 828.99,523.49 831.11,523.90 833.23,524.31 835.35,524.62 837.47,524.94 839.59,525.25 841.71,525.57 843.83,525.88 845.95,526.20 848.07,526.50 850.19,526.79 852.31,527.08 854.43,527.48 856.55,528.02 858.67,528.55 860.79,529.09 862.91,529.62 865.03,530.34 867.15,531.15 869.27,531.96 871.39,532.78 873.51,533.59 875.62,534.42 877.74,535.26 879.86,536.41 881.98,537.57 884.10,538.73 886.22,539.88 888.34,541.03 890.46,542.16 892.58,543.25 894.70,544.28 896.82,545.30 898.94,546.33 901.06,547.36 903.18,548.38 905.30,549.41 907.42,550.44 909.54,551.09 911.66,551.47 913.78,551.85 915.90,552.22 918.02,552.60 920.14,552.97 922.26,553.35 924.38,553.73 926.50,554.16 928.62,554.59 930.74,555.03 932.86,555.46 934.98,555.90 937.10,556.33 939.22,556.74 941.34,557.02 943.46,557.30 945.58,557.59" fill="none" stroke="#18ea7e" stroke-width="1.35" stroke-linejoin="round" stroke-dasharray="6.5,7"/>
<polyline points="629.73,590.86 631.85,590.75 633.97,590.63 636.09,590.52 638.21,590.40 640.33,590.28 642.45,590.17 644.57,590.05 646.69,589.93 648.81,589.82 650.93,589.70 653.05,589.59 655.17,589.47 657.29,589.35 659.41,588.69 661.53,587.75 663.64,586.82 665.76,585.88 667.88,584.95 670.00,584.01 672.12,583.07 674.24,582.14 676.36,580.68 678.48,578.95 680.60,577.23 682.72,575.51 684.84,573.79 686.96,571.99 689.08,569.82 691.20,567.64 693.32,565.47 695.44,563.29 697.56,561.11 699.68,558.94 701.80,557.18 703.92,555.51 706.04,553.83 708.16,552.15 710.28,550.48 712.40,548.80 714.52,547.25 716.64,545.75 718.76,544.26 720.88,542.76 723.00,541.27 725.12,539.77 727.24,538.45 729.36,537.48 731.48,536.51 733.60,535.55 735.72,534.58 737.84,533.61 739.96,532.77 742.08,531.93 744.20,531.09 746.32,530.24 748.44,529.40 750.56,528.56 752.68,527.72 754.80,527.18 756.92,526.70 759.04,526.22 761.16,525.73 763.28,525.25 765.40,524.77 767.52,524.29 769.63,523.81 771.75,523.32 773.87,523.06 775.99,522.82 778.11,522.59 780.23,522.35 782.35,522.11 784.47,521.87 786.59,521.63 788.71,521.47 790.83,521.33 792.95,521.20 795.07,521.07 797.19,520.94 799.31,520.81 801.43,520.68 803.55,520.55 805.67,520.41 807.79,520.46 809.91,520.67 812.03,520.89 814.15,521.11 816.27,521.33 818.39,521.54 820.51,521.76 822.63,521.98 824.75,522.20 826.87,522.42 828.99,522.73 831.11,523.05 833.23,523.37 835.35,523.68 837.47,524.00 839.59,524.32 841.71,524.64 843.83,524.95 845.95,525.27 848.07,525.57 850.19,525.84 852.31,526.12 854.43,526.39 856.55,526.67 858.67,526.94 860.79,527.21 862.91,527.49 865.03,528.10 867.15,528.87 869.27,529.65 871.39,530.42 873.51,531.20 875.62,531.97 877.74,532.75 879.86,534.10 881.98,535.46 884.10,536.82 886.22,538.17 888.34,539.53 890.46,540.88 892.58,542.18 894.70,543.36 896.82,544.54 898.94,545.72 901.06,546.90 903.18,548.08 905.30,549.26 907.42,550.43 909.54,551.43 911.66,552.33 913.78,553.22 915.90,554.12 918.02,555.02 920.14,555.92 922.26,556.82 924.38,557.72 926.50,558.03 928.62,558.35 930.74,558.66 932.86,558.98 934.98,559.29 937.10,559.61 939.22,559.89 941.34,560.03 943.46,560.16 945.58,560.30" fill="none" stroke="#0d0b80" stroke-width="1.35" stroke-linejoin="round" stroke-dasharray="6.5,7"/>
<line x1="629.00" y1="595.60" x2="946.00" y2="595.60" stroke="#1a1a1a" stroke-width="1.3" />
<line x1="787.30" y1="467.00" x2="787.30" y2="639.00" stroke="#1a1a1a" stroke-width="1.3" />
<line x1="645.98" y1="595.60" x2="645.98" y2="591.90" stroke="#1a1a1a" stroke-width="1.0" />
<line x1="716.64" y1="595.60" x2="716.64" y2="591.90" stroke="#1a1a1a" stroke-width="1.0" />
<line x1="857.96" y1="595.60" x2="857.96" y2="591.90" stroke="#1a1a1a" stroke-width="1.0" />
<line x1="928.62" y1="595.60" x2="928.62" y2="591.90" stroke="#1a1a1a" stroke-width="1.0" />
<line x1="787.30" y1="509.50" x2="791.10" y2="509.50" stroke="#1a1a1a" stroke-width="1.0" />
<line x1="787.30" y1="552.55" x2="791.10" y2="552.55" stroke="#1a1a1a" stroke-width="1.0" />
<text x="782.90" y="513.70" font-size="13.8" text-anchor="end" fill="#111" >1</text>
<text x="782.90" y="556.75" font-size="13.8" text-anchor="end" fill="#111" >0.5</text>
<text x="782.90" y="599.80" font-size="13.8" text-anchor="end" fill="#111" >0</text>
<text x="646.28" y="610.80" font-size="13.8" text-anchor="middle" fill="#111" >&#8722;200</text>
<text x="716.94" y="610.80" font-size="13.8" text-anchor="middle" fill="#111" >&#8722;100</text>
<text x="787.60" y="610.80" font-size="13.8" text-anchor="middle" fill="#111" >0</text>
<text x="858.26" y="610.80" font-size="13.8" text-anchor="middle" fill="#111" >100</text>
<text x="928.92" y="610.80" font-size="13.8" text-anchor="middle" fill="#111" >200</text>
<text x="793.80" y="473.7" font-size="13.8" fill="#111">&#916;<tspan font-style="italic">D</tspan>(<tspan font-style="italic">y</tspan>) (mV<tspan font-style="italic">&#956;</tspan>s<tspan font-size="10" dy="-5.2">&#8722;1</tspan><tspan dy="5.2">)</tspan></text>
<text x="892.80" y="583.5" font-size="13.8" fill="#111"><tspan font-style="italic">y</tspan> (mV)</text>
<circle cx="650.40" cy="498.70" r="4.6" fill="#000"/>
<text x="664" y="502.7" font-size="13.8" fill="#111">&#916;<tspan font-style="italic">D</tspan>(<tspan font-style="italic">y</tspan>)</text>
<line x1="639.70" y1="522.80" x2="647.40" y2="522.80" stroke="#888" stroke-width="1.6" />
<line x1="655.40" y1="522.80" x2="660.70" y2="522.80" stroke="#888" stroke-width="1.6" />
<text x="664.4" y="526.5" font-size="13.8" fill="#111">05<tspan font-style="italic">S&#8242;</tspan>(<tspan font-style="italic">y</tspan>)</text>
</svg></body></html>
